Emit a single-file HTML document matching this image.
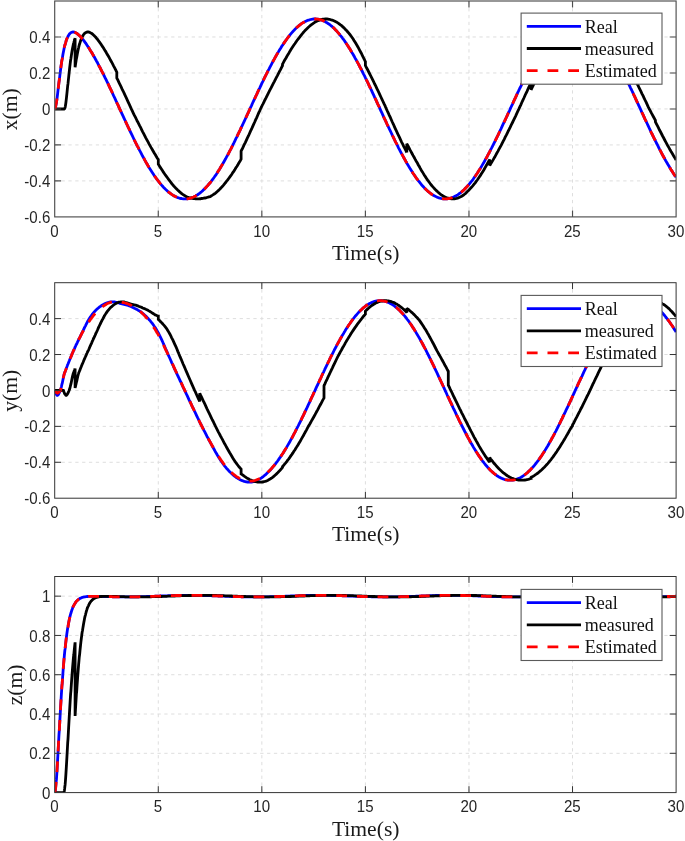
<!DOCTYPE html>
<html><head><meta charset="utf-8"><title>Position tracking: real, measured, estimated</title>
<style>html,body{margin:0;padding:0;background:#fff}svg{display:block}.tk{font-family:"Liberation Sans",Arial,sans-serif;font-size:15.8px;fill:#262626}.lb{font-family:"Liberation Serif","Times New Roman",serif;font-size:21.6px;fill:#1a1a1a}.lg{font-family:"Liberation Serif","Times New Roman",serif;font-size:18px;fill:#111}</style></head><body>
<svg width="685" height="841" viewBox="0 0 685 841">
<rect x="0" y="0" width="685" height="841" fill="#ffffff"/>
<defs><clipPath id="c0"><rect x="54.70" y="1.00" width="621.40" height="215.90"/></clipPath></defs>
<g>
<path d="M158.27,216.90 V1.00 M261.83,216.90 V1.00 M365.40,216.90 V1.00 M468.97,216.90 V1.00 M572.53,216.90 V1.00 M54.70,36.98 H676.10 M54.70,72.97 H676.10 M54.70,108.95 H676.10 M54.70,144.93 H676.10 M54.70,180.92 H676.10" fill="none" stroke="#dedede" stroke-width="1" stroke-dasharray="3.3 3.55"/>
<g clip-path="url(#c0)" fill="none" stroke-linejoin="round">
<path d="M54.7,109.0 L54.9,108.8 L55.1,108.5 L55.3,107.9 L55.5,107.2 L55.7,106.3 L55.9,105.3 L56.1,104.2 L56.4,102.9 L56.6,101.6 L56.8,100.1 L57.0,98.6 L57.2,97.1 L57.4,95.5 L57.6,93.8 L57.8,92.1 L58.0,90.4 L58.2,88.7 L58.4,87.0 L58.6,85.3 L58.8,83.6 L59.0,81.9 L59.3,80.1 L59.5,78.5 L59.7,76.8 L59.9,75.1 L60.1,73.5 L60.3,71.9 L60.5,70.3 L60.7,68.8 L60.9,67.3 L61.1,65.8 L61.3,64.4 L61.5,63.0 L61.7,61.6 L61.9,60.3 L62.2,59.0 L62.4,57.7 L62.6,56.5 L62.8,55.3 L63.0,54.1 L63.2,53.0 L63.4,51.9 L63.6,50.9 L63.8,49.9 L64.0,48.9 L64.2,48.0 L64.4,47.1 L64.6,46.2 L64.8,45.4 L65.1,44.6 L65.3,43.8 L65.5,43.1 L65.7,42.3 L65.9,41.7 L66.1,41.0 L66.3,40.4 L66.5,39.8 L66.7,39.2 L66.9,38.7 L67.1,38.2 L67.3,37.7 L67.5,37.3 L67.7,36.8 L68.0,36.4 L68.2,36.0 L68.4,35.6 L68.6,35.3 L68.8,35.0 L69.0,34.7 L69.2,34.4 L69.4,34.1 L69.6,33.9 L69.8,33.6 L70.0,33.4 L70.2,33.2 L70.4,33.1 L70.6,32.9 L70.9,32.7 L71.1,32.6 L71.3,32.5 L71.5,32.4 L71.7,32.3 L71.9,32.2 L72.1,32.2 L72.3,32.1 L72.5,32.1 L72.7,32.0 L72.9,32.0 L73.1,32.0 L73.3,32.0 L73.5,32.0 L73.8,32.1 L74.0,32.1 L74.2,32.1 L74.4,32.2 L74.6,32.2 L74.7,32.3 L74.8,32.3 L74.9,32.3 L75.0,32.4 L75.1,32.4 L75.1,32.4 L75.2,32.5 L75.3,32.5 L75.4,32.6 L75.4,32.6 L75.4,32.6 L75.5,32.6 L75.6,32.7 L75.8,32.8 L76.0,32.9 L76.2,33.0 L76.4,33.1 L76.7,33.3 L76.9,33.4 L77.1,33.5 L77.3,33.7 L77.5,33.9 L77.7,34.0 L77.9,34.2 L78.1,34.4 L78.3,34.5 L78.5,34.7 L78.7,34.9 L78.9,35.1 L79.1,35.3 L79.3,35.5 L79.6,35.7 L79.8,35.9 L80.0,36.1 L80.2,36.3 L80.4,36.5 L80.6,36.8 L80.8,37.0 L81.0,37.2 L81.2,37.5 L81.4,37.7 L81.6,37.9 L81.8,38.2 L82.0,38.4 L82.2,38.7 L82.5,38.9 L82.7,39.2 L82.9,39.4 L83.1,39.7 L83.3,40.0 L83.5,40.2 L83.7,40.5 L83.9,40.8 L84.1,41.1 L84.3,41.3 L84.5,41.6 L84.7,41.9 L84.9,42.2 L85.1,42.5 L85.4,42.8 L85.6,43.1 L85.8,43.3 L86.0,43.6 L86.2,43.9 L86.4,44.2 L86.6,44.5 L86.8,44.9 L87.0,45.2 L87.2,45.5 L87.4,45.8 L87.6,46.1 L87.8,46.4 L88.0,46.7 L88.3,47.0 L88.5,47.4 L88.7,47.7 L88.9,48.0 L89.1,48.3 L89.3,48.7 L89.5,49.0 L89.7,49.3 L89.9,49.7 L90.1,50.0 L90.3,50.3 L90.5,50.7 L90.7,51.0 L90.9,51.3 L91.2,51.7 L91.4,52.0 L91.6,52.4 L91.8,52.7 L92.0,53.1 L92.2,53.4 L92.4,53.8 L92.6,54.1 L92.8,54.5 L93.0,54.8 L93.2,55.2 L93.4,55.6 L93.6,55.9 L93.8,56.3 L94.1,56.6 L94.3,57.0 L94.5,57.4 L94.7,57.7 L94.9,58.1 L95.1,58.5 L95.3,58.9 L95.5,59.2 L95.7,59.6 L95.9,60.0 L96.1,60.4 L96.1,60.4 L96.1,60.4 L96.3,60.7 L96.5,61.1 L96.7,61.5 L97.0,61.9 L97.2,62.3 L97.4,62.6 L97.6,63.0 L97.8,63.4 L98.0,63.8 L98.2,64.2 L98.4,64.6 L98.6,65.0 L98.8,65.4 L99.0,65.8 L99.2,66.2 L99.4,66.6 L99.6,67.0 L99.9,67.4 L100.1,67.7 L100.3,68.2 L100.5,68.6 L100.7,69.0 L100.9,69.4 L101.1,69.8 L101.3,70.2 L101.5,70.6 L101.7,71.0 L101.9,71.4 L102.1,71.8 L102.3,72.2 L102.5,72.6 L102.8,73.0 L103.0,73.4 L103.2,73.9 L103.4,74.3 L103.6,74.7 L103.8,75.1 L104.0,75.5 L104.2,75.9 L104.4,76.4 L104.6,76.8 L104.8,77.2 L105.0,77.6 L105.2,78.0 L105.4,78.5 L105.7,78.9 L105.9,79.3 L106.1,79.7 L106.3,80.2 L106.5,80.6 L107.5,82.7 L108.6,84.9 L109.6,87.1 L110.6,89.2 L111.7,91.4 L112.7,93.7 L113.7,95.9 L114.8,98.1 L115.8,100.3 L116.4,101.7 L116.6,102.1 L116.8,102.6 L116.8,102.6 L116.8,102.6 L117.0,103.0 L117.3,103.5 L117.9,104.8 L118.9,107.1 L119.9,109.3 L121.0,111.6 L122.0,113.8 L123.1,116.1 L124.1,118.3 L125.1,120.5 L126.2,122.8 L127.2,125.0 L128.2,127.2 L129.3,129.4 L130.3,131.6 L131.3,133.7 L132.4,135.9 L133.4,138.0 L134.4,140.2 L135.5,142.3 L136.5,144.3 L137.1,145.6 L137.3,146.0 L137.6,146.4 L137.6,146.4 L137.6,146.4 L137.8,146.8 L138.0,147.2 L138.6,148.4 L139.6,150.4 L140.7,152.4 L141.7,154.4 L142.7,156.3 L143.8,158.2 L144.8,160.1 L145.8,161.9 L146.9,163.7 L147.9,165.5 L148.9,167.2 L150.0,168.9 L151.0,170.5 L152.1,172.2 L153.1,173.7 L154.1,175.3 L155.2,176.8 L156.2,178.2 L157.2,179.7 L157.9,180.5 L158.1,180.7 L158.3,181.0 L158.3,181.0 L158.3,181.0 L158.5,181.3 L158.7,181.6 L159.3,182.3 L160.3,183.6 L161.4,184.9 L162.4,186.0 L163.4,187.2 L164.5,188.3 L165.5,189.3 L166.6,190.3 L167.6,191.2 L168.6,192.1 L169.7,192.9 L170.7,193.7 L171.7,194.4 L172.8,195.1 L173.8,195.7 L174.8,196.3 L175.9,196.8 L176.9,197.3 L177.9,197.7 L178.6,197.9 L178.8,197.9 L179.0,198.0 L179.0,198.0 L179.0,198.0 L179.2,198.1 L179.4,198.1 L180.0,198.3 L181.1,198.5 L182.1,198.7 L183.1,198.8 L184.2,198.9 L185.2,198.9 L186.2,198.9 L187.3,198.8 L188.3,198.6 L189.3,198.4 L190.4,198.1 L191.4,197.8 L192.4,197.4 L193.5,197.0 L194.5,196.5 L195.6,195.9 L196.6,195.3 L197.6,194.7 L198.7,194.0 L199.3,193.5 L199.5,193.3 L199.7,193.2 L199.7,193.2 L199.7,193.2 L199.9,193.0 L200.1,192.9 L200.7,192.4 L201.8,191.5 L202.8,190.6 L203.8,189.6 L204.9,188.6 L205.9,187.5 L206.9,186.4 L208.0,185.2 L209.0,184.0 L210.1,182.8 L211.1,181.5 L212.1,180.1 L213.2,178.7 L214.2,177.3 L215.2,175.8 L216.3,174.3 L217.3,172.7 L218.3,171.1 L219.4,169.4 L220.0,168.4 L220.2,168.1 L220.4,167.8 L220.4,167.8 L220.4,167.7 L220.6,167.4 L220.8,167.1 L221.4,166.0 L222.5,164.3 L223.5,162.5 L224.5,160.7 L225.6,158.8 L226.6,156.9 L227.7,155.0 L228.7,153.1 L229.7,151.1 L230.8,149.1 L231.8,147.1 L232.8,145.0 L233.9,142.9 L234.9,140.8 L235.9,138.7 L237.0,136.6 L238.0,134.4 L239.0,132.3 L240.1,130.1 L240.7,128.8 L240.9,128.4 L241.1,127.9 L241.1,127.9 L241.1,127.9 L241.3,127.5 L241.5,127.0 L242.2,125.7 L243.2,123.5 L244.2,121.3 L245.3,119.0 L246.3,116.8 L247.3,114.6 L248.4,112.3 L249.4,110.1 L250.4,107.8 L251.5,105.6 L252.5,103.3 L253.5,101.1 L254.6,98.8 L255.6,96.6 L256.7,94.4 L257.7,92.2 L258.7,90.0 L259.8,87.8 L260.8,85.6 L261.4,84.3 L261.6,83.9 L261.8,83.4 L261.8,83.4 L261.8,83.4 L262.0,83.0 L262.2,82.6 L262.9,81.3 L263.9,79.2 L264.9,77.0 L266.0,74.9 L267.0,72.9 L268.0,70.8 L269.1,68.8 L270.1,66.8 L271.2,64.8 L272.2,62.9 L273.2,61.0 L274.3,59.1 L275.3,57.2 L276.3,55.4 L277.4,53.6 L278.4,51.9 L279.4,50.1 L280.5,48.5 L281.5,46.8 L282.1,45.8 L282.3,45.5 L282.5,45.2 L282.5,45.2 L282.5,45.2 L282.8,44.9 L283.0,44.6 L283.6,43.6 L284.6,42.1 L285.7,40.6 L286.7,39.2 L287.7,37.8 L288.8,36.4 L289.8,35.1 L290.8,33.9 L291.9,32.6 L292.9,31.5 L293.9,30.4 L295.0,29.3 L296.0,28.3 L297.0,27.3 L298.1,26.4 L299.1,25.5 L300.2,24.7 L301.2,23.9 L302.2,23.2 L302.8,22.8 L303.1,22.7 L303.3,22.6 L303.3,22.6 L303.3,22.6 L303.5,22.5 L303.7,22.3 L304.3,22.0 L305.3,21.4 L306.4,20.9 L307.4,20.5 L308.4,20.1 L309.5,19.8 L310.5,19.5 L311.5,19.3 L312.6,19.1 L313.6,19.0 L314.7,19.0 L315.7,19.0 L316.7,19.1 L317.8,19.2 L318.8,19.4 L319.8,19.6 L320.9,19.9 L321.9,20.2 L322.9,20.6 L323.6,20.9 L323.8,21.0 L324.0,21.1 L324.0,21.1 L324.0,21.1 L324.2,21.2 L324.4,21.3 L325.0,21.6 L326.0,22.2 L327.1,22.8 L328.1,23.5 L329.2,24.2 L330.2,25.0 L331.2,25.8 L332.3,26.7 L333.3,27.6 L334.3,28.6 L335.4,29.7 L336.4,30.7 L337.4,31.9 L338.5,33.1 L339.5,34.3 L340.5,35.6 L341.6,36.9 L342.6,38.3 L343.7,39.7 L344.3,40.5 L344.5,40.8 L344.7,41.1 L344.7,41.1 L344.7,41.1 L344.9,41.4 L345.1,41.7 L345.7,42.6 L346.8,44.2 L347.8,45.7 L348.8,47.4 L349.9,49.0 L350.9,50.7 L351.9,52.5 L353.0,54.2 L354.0,56.0 L355.0,57.9 L356.1,59.7 L357.1,61.6 L358.2,63.6 L359.2,65.5 L360.2,67.5 L361.3,69.5 L362.3,71.5 L363.3,73.6 L364.4,75.7 L365.0,76.9 L365.2,77.3 L365.4,77.8 L365.4,77.8 L365.4,77.8 L365.6,78.2 L365.8,78.6 L366.4,79.9 L367.5,82.0 L368.5,84.2 L369.5,86.3 L370.6,88.5 L371.6,90.7 L372.6,92.9 L373.7,95.2 L374.7,97.4 L375.8,99.6 L376.8,101.9 L377.8,104.1 L378.9,106.3 L379.9,108.6 L380.9,110.8 L382.0,113.1 L383.0,115.3 L384.0,117.6 L385.1,119.8 L385.7,121.1 L385.9,121.6 L386.1,122.0 L386.1,122.0 L386.1,122.0 L386.3,122.5 L386.5,122.9 L387.1,124.3 L388.2,126.5 L389.2,128.7 L390.3,130.9 L391.3,133.0 L392.3,135.2 L393.4,137.3 L394.4,139.5 L395.4,141.6 L396.5,143.7 L397.5,145.7 L398.5,147.8 L399.6,149.8 L400.6,151.8 L401.6,153.7 L402.7,155.7 L403.7,157.6 L404.8,159.4 L405.8,161.3 L406.4,162.4 L406.6,162.7 L406.8,163.1 L406.8,163.1 L406.8,163.1 L407.0,163.5 L407.2,163.8 L407.9,164.9 L408.9,166.6 L409.9,168.3 L411.0,170.0 L412.0,171.6 L413.0,173.2 L414.1,174.8 L415.1,176.3 L416.1,177.8 L417.2,179.2 L418.2,180.6 L419.3,181.9 L420.3,183.2 L421.3,184.5 L422.4,185.7 L423.4,186.8 L424.4,187.9 L425.5,189.0 L426.5,190.0 L427.1,190.5 L427.3,190.7 L427.5,190.9 L427.5,190.9 L427.5,190.9 L427.7,191.1 L428.0,191.3 L428.6,191.8 L429.6,192.7 L430.6,193.5 L431.7,194.2 L432.7,194.9 L433.8,195.5 L434.8,196.1 L435.8,196.6 L436.9,197.1 L437.9,197.5 L438.9,197.9 L440.0,198.2 L441.0,198.5 L442.0,198.7 L443.1,198.8 L444.1,198.9 L445.1,198.9 L446.2,198.9 L447.2,198.8 L447.8,198.7 L448.0,198.7 L448.3,198.7 L448.3,198.7 L448.3,198.7 L448.5,198.6 L448.7,198.6 L449.3,198.5 L450.3,198.2 L451.4,197.9 L452.4,197.5 L453.4,197.1 L454.5,196.6 L455.5,196.1 L456.5,195.5 L457.6,194.9 L458.6,194.2 L459.6,193.4 L460.7,192.6 L461.7,191.8 L462.8,190.9 L463.8,189.9 L464.8,188.9 L465.9,187.9 L466.9,186.8 L467.9,185.6 L468.6,184.9 L468.8,184.7 L469.0,184.4 L469.0,184.4 L469.0,184.4 L469.2,184.2 L469.4,183.9 L470.0,183.2 L471.0,181.9 L472.1,180.6 L473.1,179.2 L474.1,177.7 L475.2,176.3 L476.2,174.8 L477.3,173.2 L478.3,171.6 L479.3,170.0 L480.4,168.3 L481.4,166.6 L482.4,164.9 L483.5,163.1 L484.5,161.3 L485.5,159.4 L486.6,157.5 L487.6,155.6 L488.6,153.7 L489.3,152.5 L489.5,152.1 L489.7,151.7 L489.7,151.7 L489.7,151.7 L489.9,151.3 L490.1,150.9 L490.7,149.7 L491.8,147.7 L492.8,145.7 L493.8,143.6 L494.9,141.5 L495.9,139.4 L496.9,137.3 L498.0,135.2 L499.0,133.0 L500.0,130.8 L501.1,128.6 L502.1,126.4 L503.1,124.2 L504.2,122.0 L505.2,119.8 L506.3,117.5 L507.3,115.3 L508.3,113.0 L509.4,110.8 L510.0,109.5 L510.2,109.0 L510.4,108.6 L510.4,108.6 L510.4,108.5 L510.6,108.1 L510.8,107.7 L511.4,106.3 L512.5,104.1 L513.5,101.8 L514.5,99.6 L515.6,97.3 L516.6,95.1 L517.6,92.9 L518.7,90.7 L519.7,88.5 L520.8,86.3 L521.8,84.1 L522.8,82.0 L523.9,79.8 L524.9,77.7 L525.9,75.6 L527.0,73.6 L528.0,71.5 L529.0,69.5 L530.1,67.5 L530.7,66.3 L530.9,65.9 L531.1,65.5 L531.1,65.5 L531.1,65.5 L531.3,65.1 L531.5,64.7 L532.1,63.5 L533.2,61.6 L534.2,59.7 L535.2,57.8 L536.3,56.0 L537.3,54.2 L538.4,52.4 L539.4,50.7 L540.4,49.0 L541.5,47.3 L542.5,45.7 L543.5,44.1 L544.6,42.6 L545.6,41.1 L546.6,39.6 L547.7,38.2 L548.7,36.9 L549.7,35.5 L550.8,34.3 L551.4,33.5 L551.6,33.3 L551.8,33.0 L551.8,33.0 L551.8,33.0 L552.0,32.8 L552.2,32.6 L552.9,31.9 L553.9,30.7 L554.9,29.6 L556.0,28.6 L557.0,27.6 L558.0,26.7 L559.1,25.8 L560.1,25.0 L561.1,24.2 L562.2,23.5 L563.2,22.8 L564.2,22.2 L565.3,21.6 L566.3,21.1 L567.4,20.6 L568.4,20.2 L569.4,19.9 L570.5,19.6 L571.5,19.4 L572.1,19.3 L572.3,19.2 L572.5,19.2 L572.5,19.2 L572.5,19.2 L572.7,19.2 L572.9,19.1 L573.6,19.1 L574.6,19.0 L575.6,19.0 L576.7,19.0 L577.7,19.1 L578.7,19.3 L579.8,19.5 L580.8,19.8 L581.9,20.1 L582.9,20.5 L583.9,20.9 L585.0,21.4 L586.0,22.0 L587.0,22.6 L588.1,23.2 L589.1,24.0 L590.1,24.7 L591.2,25.5 L592.2,26.4 L592.8,26.9 L593.0,27.1 L593.2,27.3 L593.2,27.3 L593.2,27.3 L593.5,27.5 L593.7,27.7 L594.3,28.3 L595.3,29.3 L596.4,30.4 L597.4,31.5 L598.4,32.7 L599.5,33.9 L600.5,35.1 L601.5,36.5 L602.6,37.8 L603.6,39.2 L604.6,40.6 L605.7,42.1 L606.7,43.7 L607.7,45.2 L608.8,46.8 L609.8,48.5 L610.9,50.2 L611.9,51.9 L612.9,53.6 L613.5,54.7 L613.8,55.1 L614.0,55.4 L614.0,55.4 L614.0,55.4 L614.2,55.8 L614.4,56.2 L615.0,57.3 L616.0,59.1 L617.1,61.0 L618.1,62.9 L619.1,64.9 L620.2,66.8 L621.2,68.8 L622.2,70.9 L623.3,72.9 L624.3,75.0 L625.4,77.1 L626.4,79.2 L627.4,81.3 L628.5,83.5 L629.5,85.6 L630.5,87.8 L631.6,90.0 L632.6,92.2 L633.6,94.4 L634.3,95.8 L634.5,96.2 L634.7,96.6 L634.7,96.6 L634.7,96.7 L634.9,97.1 L635.1,97.5 L635.7,98.9 L636.7,101.1 L637.8,103.4 L638.8,105.6 L639.9,107.9 L640.9,110.1 L641.9,112.4 L643.0,114.6 L644.0,116.8 L645.0,119.1 L646.1,121.3 L647.1,123.5 L648.1,125.7 L649.2,128.0 L650.2,130.1 L651.2,132.3 L652.3,134.5 L653.3,136.6 L654.4,138.8 L655.0,140.0 L655.2,140.5 L655.4,140.9 L655.4,140.9 L655.4,140.9 L655.6,141.3 L655.8,141.7 L656.4,143.0 L657.5,145.0 L658.5,147.1 L659.5,149.1 L660.6,151.1 L661.6,153.1 L662.6,155.0 L663.7,157.0 L664.7,158.8 L665.7,160.7 L666.8,162.5 L667.8,164.3 L668.9,166.1 L669.9,167.8 L670.9,169.5 L672.0,171.1 L673.0,172.7 L674.0,174.3 L675.1,175.8 L676.1,177.3" stroke="#0000ff" stroke-width="2.8"/>
<path d="M54.7,109.0 L54.9,109.0 L55.1,109.0 L55.3,109.0 L55.5,109.0 L55.7,109.0 L55.9,109.0 L56.1,109.0 L56.4,109.0 L56.6,109.0 L56.8,109.0 L57.0,109.0 L57.2,109.0 L57.4,109.0 L57.6,109.0 L57.8,109.0 L58.0,109.0 L58.2,109.0 L58.4,109.0 L58.6,109.0 L58.8,109.0 L59.0,109.0 L59.3,109.0 L59.5,109.0 L59.7,109.0 L59.9,109.0 L60.1,109.0 L60.3,109.0 L60.5,109.0 L60.7,109.0 L60.9,109.0 L61.1,109.0 L61.3,109.0 L61.5,109.0 L61.7,109.0 L61.9,109.0 L62.2,109.0 L62.4,109.0 L62.6,109.0 L62.8,109.0 L63.0,109.0 L63.2,109.0 L63.4,109.0 L63.6,109.0 L63.8,109.0 L64.0,109.0 L64.2,109.0 L64.4,108.9 L64.6,108.7 L64.8,108.2 L65.1,107.5 L65.3,106.5 L65.5,105.3 L65.7,104.0 L65.9,102.5 L66.1,100.9 L66.3,99.2 L66.5,97.4 L66.7,95.5 L66.9,93.6 L67.1,91.7 L67.3,89.7 L67.5,87.7 L67.7,85.7 L68.0,83.7 L68.2,81.7 L68.4,79.7 L68.6,77.8 L68.8,75.9 L69.0,74.0 L69.2,72.1 L69.4,70.3 L69.6,68.5 L69.8,66.7 L70.0,65.1 L70.2,63.4 L70.4,61.8 L70.6,60.2 L70.9,58.7 L71.1,57.3 L71.3,55.9 L71.5,54.5 L71.7,53.2 L71.9,51.9 L72.1,50.7 L72.3,49.6 L72.5,48.5 L72.7,47.4 L72.9,46.4 L73.1,45.4 L73.3,44.5 L73.5,43.6 L73.8,42.7 L74.0,41.9 L74.2,41.2 L74.4,40.4 L74.6,39.8 L74.7,39.4 L74.8,39.1 L74.9,38.8 L75.0,38.5 L75.1,38.2 L75.1,67.3 L75.2,66.6 L75.3,65.9 L75.4,65.2 L75.4,65.2 L75.4,65.2 L75.5,64.5 L75.6,63.8 L75.8,62.5 L76.0,61.2 L76.2,59.9 L76.4,58.7 L76.7,57.5 L76.9,56.3 L77.1,55.2 L77.3,54.1 L77.5,53.0 L77.7,51.9 L77.9,50.9 L78.1,50.0 L78.3,49.0 L78.5,48.1 L78.7,47.3 L78.9,46.4 L79.1,45.6 L79.3,44.8 L79.6,44.1 L79.8,43.4 L80.0,42.7 L80.2,42.0 L80.4,41.4 L80.6,40.8 L80.8,40.2 L81.0,39.6 L81.2,39.1 L81.4,38.6 L81.6,38.1 L81.8,37.6 L82.0,37.2 L82.2,36.8 L82.5,36.4 L82.7,36.0 L82.9,35.7 L83.1,35.3 L83.3,35.0 L83.5,34.7 L83.7,34.4 L83.9,34.2 L84.1,33.9 L84.3,33.7 L84.5,33.5 L84.7,33.3 L84.9,33.1 L85.1,33.0 L85.4,32.8 L85.6,32.7 L85.8,32.6 L86.0,32.5 L86.2,32.4 L86.4,32.3 L86.6,32.2 L86.8,32.2 L87.0,32.1 L87.2,32.1 L87.4,32.0 L87.6,32.0 L87.8,32.0 L88.0,32.0 L88.3,32.0 L88.5,32.1 L88.7,32.1 L88.9,32.1 L89.1,32.2 L89.3,32.2 L89.5,32.3 L89.7,32.4 L89.9,32.5 L90.1,32.6 L90.3,32.7 L90.5,32.8 L90.7,32.9 L90.9,33.0 L91.2,33.1 L91.4,33.3 L91.6,33.4 L91.8,33.6 L92.0,33.7 L92.2,33.9 L92.4,34.0 L92.6,34.2 L92.8,34.4 L93.0,34.6 L93.2,34.7 L93.4,34.9 L93.6,35.1 L93.8,35.3 L94.1,35.5 L94.3,35.7 L94.5,35.9 L94.7,36.2 L94.9,36.4 L95.1,36.6 L95.3,36.8 L95.5,37.1 L95.7,37.3 L95.9,37.5 L96.1,37.8 L96.1,37.8 L96.1,37.8 L96.3,38.0 L96.5,38.3 L96.7,38.5 L97.0,38.8 L97.2,39.0 L97.4,39.3 L97.6,39.5 L97.8,39.8 L98.0,40.1 L98.2,40.3 L98.4,40.6 L98.6,40.9 L98.8,41.2 L99.0,41.4 L99.2,41.7 L99.4,42.0 L99.6,42.3 L99.9,42.6 L100.1,42.9 L100.3,43.2 L100.5,43.5 L100.7,43.8 L100.9,44.1 L101.1,44.4 L101.3,44.7 L101.5,45.0 L101.7,45.3 L101.9,45.6 L102.1,45.9 L102.3,46.2 L102.5,46.6 L102.8,46.9 L103.0,47.2 L103.2,47.5 L103.4,47.9 L103.6,48.2 L103.8,48.5 L104.0,48.8 L104.2,49.2 L104.4,49.5 L104.6,49.8 L104.8,50.2 L105.0,50.5 L105.2,50.9 L105.4,51.2 L105.7,51.6 L105.9,51.9 L106.1,52.3 L106.3,52.6 L106.5,53.0 L107.5,54.7 L108.6,56.5 L109.6,58.4 L110.6,60.3 L111.7,62.2 L112.7,64.1 L113.7,66.1 L114.8,68.1 L115.8,70.2 L116.4,71.4 L116.6,71.8 L116.8,72.2 L116.8,72.2 L116.8,78.0 L117.0,78.5 L117.3,78.9 L117.9,80.2 L118.9,82.3 L119.9,84.5 L121.0,86.6 L122.0,88.8 L123.1,91.0 L124.1,93.2 L125.1,95.4 L126.2,97.7 L127.2,99.9 L128.2,102.1 L129.3,104.4 L130.3,106.6 L131.3,108.9 L132.4,111.1 L133.4,113.3 L134.4,115.4 L135.5,117.4 L136.5,119.5 L137.1,120.8 L137.3,121.2 L137.6,121.6 L137.6,121.6 L137.6,121.6 L137.8,122.0 L138.0,122.4 L138.6,123.6 L139.6,125.7 L140.7,127.7 L141.7,129.8 L142.7,131.8 L143.8,133.8 L144.8,135.8 L145.8,137.8 L146.9,139.8 L147.9,141.7 L148.9,143.7 L150.0,145.6 L151.0,147.4 L152.1,149.2 L153.1,151.0 L154.1,152.8 L155.2,154.6 L156.2,156.3 L157.2,158.0 L157.9,159.0 L158.1,159.4 L158.3,159.7 L158.3,159.7 L158.3,164.1 L158.5,164.4 L158.7,164.7 L159.3,165.7 L160.3,167.4 L161.4,169.0 L162.4,170.6 L163.4,172.2 L164.5,173.7 L165.5,175.2 L166.6,176.6 L167.6,178.0 L168.6,179.4 L169.7,180.8 L170.7,182.2 L171.7,183.5 L172.8,184.8 L173.8,186.0 L174.8,187.1 L175.9,188.3 L176.9,189.3 L177.9,190.3 L178.6,190.9 L178.8,191.1 L179.0,191.3 L179.0,191.3 L179.0,191.3 L179.2,191.5 L179.4,191.7 L180.0,192.2 L181.1,193.1 L182.1,193.9 L183.1,194.6 L184.2,195.3 L185.2,195.9 L186.2,196.5 L187.3,197.0 L188.3,197.4 L189.3,197.8 L190.4,198.0 L191.4,198.2 L192.4,198.4 L193.5,198.6 L194.5,198.7 L195.6,198.8 L196.6,198.9 L197.6,198.9 L198.7,198.9 L199.3,198.9 L199.5,198.9 L199.7,198.9 L199.7,198.9 L199.7,198.8 L199.9,198.7 L200.1,198.7 L200.7,198.7 L201.8,198.5 L202.8,198.4 L203.8,198.2 L204.9,198.0 L205.9,197.8 L206.9,197.5 L208.0,197.2 L209.0,196.9 L210.1,196.6 L211.1,196.0 L212.1,195.4 L213.2,194.7 L214.2,194.0 L215.2,193.3 L216.3,192.4 L217.3,191.5 L218.3,190.6 L219.4,189.6 L220.0,189.0 L220.2,188.8 L220.4,188.6 L220.4,188.5 L220.4,188.5 L220.6,188.3 L220.8,188.1 L221.4,187.4 L222.5,186.3 L223.5,185.1 L224.5,183.8 L225.6,182.5 L226.6,181.2 L227.7,179.9 L228.7,178.5 L229.7,177.1 L230.8,175.7 L231.8,174.2 L232.8,172.6 L233.9,171.1 L234.9,169.5 L235.9,167.8 L237.0,166.2 L238.0,164.5 L239.0,162.7 L240.1,161.0 L240.7,159.9 L240.9,159.5 L241.1,159.2 L241.1,159.2 L241.1,151.1 L241.3,150.7 L241.5,150.2 L242.2,149.0 L243.2,146.9 L244.2,144.7 L245.3,142.6 L246.3,140.4 L247.3,138.2 L248.4,136.0 L249.4,133.7 L250.4,131.4 L251.5,129.2 L252.5,126.9 L253.5,124.6 L254.6,122.3 L255.6,119.9 L256.7,117.6 L257.7,115.3 L258.7,112.9 L259.8,110.6 L260.8,108.3 L261.4,107.1 L261.6,106.7 L261.8,106.2 L261.8,106.2 L261.8,106.2 L262.0,105.8 L262.2,105.4 L262.9,104.2 L263.9,102.1 L264.9,100.0 L266.0,97.9 L267.0,95.8 L268.0,93.8 L269.1,91.7 L270.1,89.7 L271.2,87.7 L272.2,85.6 L273.2,83.6 L274.3,81.6 L275.3,79.6 L276.3,77.7 L277.4,75.7 L278.4,73.7 L279.4,71.6 L280.5,69.6 L281.5,67.6 L282.1,66.4 L282.3,66.0 L282.5,65.6 L282.5,65.6 L282.5,64.0 L282.8,63.7 L283.0,63.3 L283.6,62.2 L284.6,60.3 L285.7,58.5 L286.7,56.7 L287.7,54.9 L288.8,53.2 L289.8,51.4 L290.8,49.8 L291.9,48.1 L292.9,46.5 L293.9,45.0 L295.0,43.5 L296.0,42.0 L297.0,40.5 L298.1,39.1 L299.1,37.8 L300.2,36.4 L301.2,35.1 L302.2,33.8 L302.8,33.1 L303.1,32.8 L303.3,32.6 L303.3,32.6 L303.3,32.6 L303.5,32.3 L303.7,32.1 L304.3,31.4 L305.3,30.3 L306.4,29.2 L307.4,28.2 L308.4,27.2 L309.5,26.2 L310.5,25.4 L311.5,24.6 L312.6,23.8 L313.6,23.1 L314.7,22.4 L315.7,21.8 L316.7,21.3 L317.8,20.8 L318.8,20.4 L319.8,20.0 L320.9,19.7 L321.9,19.4 L322.9,19.2 L323.6,19.1 L323.8,19.1 L324.0,19.1 L324.0,19.1 L324.0,19.1 L324.2,19.1 L324.4,19.1 L325.0,19.0 L326.0,19.0 L327.1,19.0 L328.1,19.1 L329.2,19.3 L330.2,19.5 L331.2,19.8 L332.3,20.1 L333.3,20.5 L334.3,20.9 L335.4,21.5 L336.4,22.0 L337.4,22.6 L338.5,23.3 L339.5,24.1 L340.5,24.9 L341.6,25.7 L342.6,26.6 L343.7,27.6 L344.3,28.2 L344.5,28.4 L344.7,28.6 L344.7,28.6 L344.7,28.6 L344.9,28.8 L345.1,29.0 L345.7,29.7 L346.8,30.8 L347.8,32.0 L348.8,33.2 L349.9,34.5 L350.9,35.8 L351.9,37.2 L353.0,38.7 L354.0,40.4 L355.0,42.0 L356.1,43.8 L357.1,45.6 L358.2,47.4 L359.2,49.3 L360.2,51.3 L361.3,53.2 L362.3,55.3 L363.3,57.3 L364.4,59.5 L365.0,60.8 L365.2,61.2 L365.4,61.6 L365.4,61.6 L365.4,65.5 L365.6,65.9 L365.8,66.3 L366.4,67.5 L367.5,69.5 L368.5,71.5 L369.5,73.5 L370.6,75.6 L371.6,77.6 L372.6,79.7 L373.7,81.9 L374.7,84.0 L375.8,86.1 L376.8,88.3 L377.8,90.5 L378.9,92.6 L379.9,94.8 L380.9,97.0 L382.0,99.3 L383.0,101.5 L384.0,103.7 L385.1,105.9 L385.7,107.3 L385.9,107.7 L386.1,108.1 L386.1,108.1 L386.1,108.1 L386.3,108.6 L386.5,109.1 L387.1,110.5 L388.2,112.8 L389.2,115.1 L390.3,117.4 L391.3,119.7 L392.3,122.0 L393.4,124.3 L394.4,126.6 L395.4,128.8 L396.5,131.1 L397.5,133.3 L398.5,135.5 L399.6,137.7 L400.6,139.9 L401.6,142.1 L402.7,144.2 L403.7,146.4 L404.8,148.4 L405.8,150.5 L406.4,151.7 L406.6,152.1 L406.8,152.5 L406.8,152.6 L406.8,143.7 L407.0,144.1 L407.2,144.5 L407.9,145.7 L408.9,147.7 L409.9,149.7 L411.0,151.6 L412.0,153.5 L413.0,155.4 L414.1,157.3 L415.1,159.2 L416.1,161.0 L417.2,162.7 L418.2,164.7 L419.3,166.5 L420.3,168.4 L421.3,170.2 L422.4,171.9 L423.4,173.6 L424.4,175.3 L425.5,176.9 L426.5,178.4 L427.1,179.4 L427.3,179.7 L427.5,180.0 L427.5,180.0 L427.5,180.0 L427.7,180.3 L428.0,180.5 L428.6,181.4 L429.6,182.8 L430.6,184.2 L431.7,185.5 L432.7,186.7 L433.8,187.9 L434.8,189.0 L435.8,190.1 L436.9,191.1 L437.9,192.1 L438.9,193.0 L440.0,193.8 L441.0,194.6 L442.0,195.3 L443.1,195.9 L444.1,196.5 L445.1,197.0 L446.2,197.5 L447.2,197.9 L447.8,198.1 L448.0,198.2 L448.3,198.2 L448.3,198.2 L448.3,198.2 L448.5,198.3 L448.7,198.3 L449.3,198.5 L450.3,198.7 L451.4,198.8 L452.4,198.9 L453.4,198.9 L454.5,198.8 L455.5,198.7 L456.5,198.5 L457.6,198.2 L458.6,197.8 L459.6,197.3 L460.7,196.8 L461.7,196.2 L462.8,195.5 L463.8,194.8 L464.8,194.0 L465.9,193.1 L466.9,192.1 L467.9,191.1 L468.6,190.4 L468.8,190.2 L469.0,189.9 L469.0,189.9 L469.0,189.9 L469.2,189.7 L469.4,189.5 L470.0,188.9 L471.0,187.8 L472.1,186.6 L473.1,185.4 L474.1,184.1 L475.2,182.8 L476.2,181.4 L477.3,180.0 L478.3,178.5 L479.3,177.0 L480.4,175.4 L481.4,173.8 L482.4,172.2 L483.5,170.5 L484.5,168.7 L485.5,166.9 L486.6,165.1 L487.6,163.3 L488.6,161.4 L489.3,160.2 L489.5,159.8 L489.7,159.4 L489.7,159.4 L489.7,165.6 L489.9,165.2 L490.1,164.9 L490.7,163.9 L491.8,162.1 L492.8,160.4 L493.8,158.6 L494.9,156.8 L495.9,154.9 L496.9,153.0 L498.0,151.1 L499.0,149.2 L500.0,147.3 L501.1,145.3 L502.1,143.3 L503.1,141.3 L504.2,139.3 L505.2,137.2 L506.3,135.2 L507.3,133.1 L508.3,131.0 L509.4,128.9 L510.0,127.7 L510.2,127.2 L510.4,126.8 L510.4,126.8 L510.4,126.8 L510.6,126.4 L510.8,126.0 L511.4,124.7 L512.5,122.5 L513.5,120.4 L514.5,118.3 L515.6,116.1 L516.6,113.9 L517.6,111.7 L518.7,109.4 L519.7,107.1 L520.8,104.8 L521.8,102.5 L522.8,100.3 L523.9,98.0 L524.9,95.7 L525.9,93.5 L527.0,91.3 L528.0,89.0 L529.0,86.8 L530.1,84.6 L530.7,83.3 L530.9,82.9 L531.1,82.4 L531.1,82.4 L531.1,89.8 L531.3,89.4 L531.5,88.9 L532.1,87.6 L533.2,85.3 L534.2,83.1 L535.2,80.9 L536.3,78.7 L537.3,76.5 L538.4,74.4 L539.4,72.2 L540.4,70.1 L541.5,68.1 L542.5,66.0 L543.5,64.0 L544.6,62.0 L545.6,60.0 L546.6,58.1 L547.7,56.2 L548.7,54.4 L549.7,52.5 L550.8,50.7 L551.4,49.7 L551.6,49.3 L551.8,49.0 L551.8,49.0 L551.8,49.0 L552.0,48.7 L552.2,48.3 L552.9,47.3 L553.9,45.6 L554.9,44.0 L556.0,42.4 L557.0,40.9 L558.0,39.4 L559.1,37.9 L560.1,36.5 L561.1,35.2 L562.2,33.9 L563.2,32.6 L564.2,31.4 L565.3,30.3 L566.3,29.2 L567.4,28.1 L568.4,27.2 L569.4,26.2 L570.5,25.3 L571.5,24.5 L572.1,24.0 L572.3,23.9 L572.5,23.7 L572.5,23.7 L572.5,23.7 L572.7,23.6 L572.9,23.4 L573.6,23.0 L574.6,22.4 L575.6,21.7 L576.7,21.2 L577.7,20.7 L578.7,20.3 L579.8,19.9 L580.8,19.6 L581.9,19.4 L582.9,19.2 L583.9,19.1 L585.0,19.0 L586.0,19.0 L587.0,19.1 L588.1,19.2 L589.1,19.4 L590.1,19.6 L591.2,19.9 L592.2,20.3 L592.8,20.5 L593.0,20.6 L593.2,20.7 L593.2,20.7 L593.2,20.7 L593.5,20.8 L593.7,20.9 L594.3,21.2 L595.3,21.7 L596.4,22.4 L597.4,23.0 L598.4,23.7 L599.5,24.5 L600.5,25.4 L601.5,26.3 L602.6,27.2 L603.6,28.2 L604.6,29.3 L605.7,30.4 L606.7,31.6 L607.7,32.8 L608.8,34.1 L609.8,35.4 L610.9,36.8 L611.9,38.2 L612.9,39.7 L613.5,40.6 L613.8,40.9 L614.0,41.2 L614.0,41.2 L614.0,41.2 L614.2,41.5 L614.4,41.8 L615.0,42.8 L616.0,44.4 L617.1,46.0 L618.1,47.7 L619.1,49.5 L620.2,51.3 L621.2,53.1 L622.2,55.0 L623.3,56.8 L624.3,58.8 L625.4,60.7 L626.4,62.7 L627.4,64.8 L628.5,66.8 L629.5,68.8 L630.5,70.7 L631.6,72.7 L632.6,74.7 L633.6,76.8 L634.3,78.0 L634.5,78.4 L634.7,78.8 L634.7,78.8 L634.7,78.8 L634.9,79.2 L635.1,79.6 L635.7,80.9 L636.7,83.0 L637.8,85.0 L638.8,87.2 L639.9,89.3 L640.9,91.4 L641.9,93.6 L643.0,95.7 L644.0,97.9 L645.0,100.0 L646.1,102.2 L647.1,104.4 L648.1,106.6 L649.2,108.8 L650.2,110.7 L651.2,112.7 L652.3,114.6 L653.3,116.5 L654.4,118.5 L655.0,119.6 L655.2,120.0 L655.4,120.4 L655.4,120.4 L655.4,121.8 L655.6,122.2 L655.8,122.6 L656.4,123.8 L657.5,125.9 L658.5,127.9 L659.5,130.0 L660.6,132.0 L661.6,134.0 L662.6,136.0 L663.7,138.0 L664.7,140.0 L665.7,141.9 L666.8,143.9 L667.8,145.8 L668.9,147.6 L669.9,149.5 L670.9,151.3 L672.0,153.1 L673.0,154.8 L674.0,156.6 L675.1,158.3 L676.1,160.0" stroke="#000000" stroke-width="2.8" stroke-linejoin="miter" stroke-miterlimit="2"/>
<path d="M54.7,109.0 L54.9,108.8 L55.1,108.5 L55.3,107.9 L55.5,107.2 L55.7,106.3 L55.9,105.3 L56.1,104.2 L56.4,102.9 L56.6,101.6 L56.8,100.1 L57.0,98.6 L57.2,97.1 L57.4,95.5 L57.6,93.8 L57.8,92.1 L58.0,90.4 L58.2,88.7 L58.4,87.0 L58.6,85.3 L58.8,83.6 L59.0,81.9 L59.3,80.1 L59.5,78.5 L59.7,76.8 L59.9,75.1 L60.1,73.5 L60.3,71.9 L60.5,70.3 L60.7,68.8 L60.9,67.3 L61.1,65.8 L61.3,64.4 L61.5,63.0 L61.7,61.6 L61.9,60.3 L62.2,59.0 L62.4,57.7 L62.6,56.5 L62.8,55.3 L63.0,54.1 L63.2,53.0 L63.4,51.9 L63.6,50.9 L63.8,49.9 L64.0,48.9 L64.2,48.0 L64.4,47.1 L64.6,46.2 L64.8,45.4 L65.1,44.6 L65.3,43.8 L65.5,43.1 L65.7,42.3 L65.9,41.7 L66.1,41.0 L66.3,40.4 L66.5,39.8 L66.7,39.2 L66.9,38.7 L67.1,38.2 L67.3,37.7 L67.5,37.3 L67.7,36.8 L68.0,36.4 L68.2,36.0 L68.4,35.6 L68.6,35.3 L68.8,35.0 L69.0,34.7 L69.2,34.4 L69.4,34.1 L69.6,33.9 L69.8,33.6 L70.0,33.4 L70.2,33.2 L70.4,33.1 L70.6,32.9 L70.9,32.7 L71.1,32.6 L71.3,32.5 L71.5,32.4 L71.7,32.3 L71.9,32.2 L72.1,32.2 L72.3,32.1 L72.5,32.1 L72.7,32.0 L72.9,32.0 L73.1,32.0 L73.3,32.0 L73.5,32.0 L73.8,32.1 L74.0,32.1 L74.2,32.1 L74.4,32.2 L74.6,32.2 L74.7,32.3 L74.8,32.3 L74.9,32.3 L75.0,32.4 L75.1,32.4 L75.1,32.4 L75.2,32.5 L75.3,32.5 L75.4,32.6 L75.4,32.6 L75.4,32.6 L75.5,32.6 L75.6,32.7 L75.8,32.8 L76.0,32.9 L76.2,33.0 L76.4,33.1 L76.7,33.3 L76.9,33.4 L77.1,33.5 L77.3,33.7 L77.5,33.9 L77.7,34.0 L77.9,34.2 L78.1,34.4 L78.3,34.5 L78.5,34.7 L78.7,34.9 L78.9,35.1 L79.1,35.3 L79.3,35.5 L79.6,35.7 L79.8,35.9 L80.0,36.1 L80.2,36.3 L80.4,36.5 L80.6,36.8 L80.8,37.0 L81.0,37.2 L81.2,37.5 L81.4,37.7 L81.6,37.9 L81.8,38.2 L82.0,38.4 L82.2,38.7 L82.5,38.9 L82.7,39.2 L82.9,39.4 L83.1,39.7 L83.3,40.0 L83.5,40.2 L83.7,40.5 L83.9,40.8 L84.1,41.1 L84.3,41.3 L84.5,41.6 L84.7,41.9 L84.9,42.2 L85.1,42.5 L85.4,42.8 L85.6,43.1 L85.8,43.3 L86.0,43.6 L86.2,43.9 L86.4,44.2 L86.6,44.5 L86.8,44.9 L87.0,45.2 L87.2,45.5 L87.4,45.8 L87.6,46.1 L87.8,46.4 L88.0,46.7 L88.3,47.0 L88.5,47.4 L88.7,47.7 L88.9,48.0 L89.1,48.3 L89.3,48.7 L89.5,49.0 L89.7,49.3 L89.9,49.7 L90.1,50.0 L90.3,50.3 L90.5,50.7 L90.7,51.0 L90.9,51.3 L91.2,51.7 L91.4,52.0 L91.6,52.4 L91.8,52.7 L92.0,53.1 L92.2,53.4 L92.4,53.8 L92.6,54.1 L92.8,54.5 L93.0,54.8 L93.2,55.2 L93.4,55.6 L93.6,55.9 L93.8,56.3 L94.1,56.6 L94.3,57.0 L94.5,57.4 L94.7,57.7 L94.9,58.1 L95.1,58.5 L95.3,58.9 L95.5,59.2 L95.7,59.6 L95.9,60.0 L96.1,60.4 L96.1,60.4 L96.1,60.4 L96.3,60.7 L96.5,61.1 L96.7,61.5 L97.0,61.9 L97.2,62.3 L97.4,62.6 L97.6,63.0 L97.8,63.4 L98.0,63.8 L98.2,64.2 L98.4,64.6 L98.6,65.0 L98.8,65.4 L99.0,65.8 L99.2,66.2 L99.4,66.6 L99.6,67.0 L99.9,67.4 L100.1,67.7 L100.3,68.2 L100.5,68.6 L100.7,69.0 L100.9,69.4 L101.1,69.8 L101.3,70.2 L101.5,70.6 L101.7,71.0 L101.9,71.4 L102.1,71.8 L102.3,72.2 L102.5,72.6 L102.8,73.0 L103.0,73.4 L103.2,73.9 L103.4,74.3 L103.6,74.7 L103.8,75.1 L104.0,75.5 L104.2,75.9 L104.4,76.4 L104.6,76.8 L104.8,77.2 L105.0,77.6 L105.2,78.0 L105.4,78.5 L105.7,78.9 L105.9,79.3 L106.1,79.7 L106.3,80.2 L106.5,80.6 L107.5,82.7 L108.6,84.9 L109.6,87.1 L110.6,89.2 L111.7,91.4 L112.7,93.7 L113.7,95.9 L114.8,98.1 L115.8,100.3 L116.4,101.7 L116.6,102.1 L116.8,102.6 L116.8,102.6 L116.8,102.6 L117.0,103.0 L117.3,103.5 L117.9,104.8 L118.9,107.1 L119.9,109.3 L121.0,111.6 L122.0,113.8 L123.1,116.1 L124.1,118.3 L125.1,120.5 L126.2,122.8 L127.2,125.0 L128.2,127.2 L129.3,129.4 L130.3,131.6 L131.3,133.7 L132.4,135.9 L133.4,138.0 L134.4,140.2 L135.5,142.3 L136.5,144.3 L137.1,145.6 L137.3,146.0 L137.6,146.4 L137.6,146.4 L137.6,146.4 L137.8,146.8 L138.0,147.2 L138.6,148.4 L139.6,150.4 L140.7,152.4 L141.7,154.4 L142.7,156.3 L143.8,158.2 L144.8,160.1 L145.8,161.9 L146.9,163.7 L147.9,165.5 L148.9,167.2 L150.0,168.9 L151.0,170.5 L152.1,172.2 L153.1,173.7 L154.1,175.3 L155.2,176.8 L156.2,178.2 L157.2,179.7 L157.9,180.5 L158.1,180.7 L158.3,181.0 L158.3,181.0 L158.3,181.0 L158.5,181.3 L158.7,181.6 L159.3,182.3 L160.3,183.6 L161.4,184.9 L162.4,186.0 L163.4,187.2 L164.5,188.3 L165.5,189.3 L166.6,190.3 L167.6,191.2 L168.6,192.1 L169.7,192.9 L170.7,193.7 L171.7,194.4 L172.8,195.1 L173.8,195.7 L174.8,196.3 L175.9,196.8 L176.9,197.3 L177.9,197.7 L178.6,197.9 L178.8,197.9 L179.0,198.0 L179.0,198.0 L179.0,198.0 L179.2,198.1 L179.4,198.1 L180.0,198.3 L181.1,198.5 L182.1,198.7 L183.1,198.8 L184.2,198.9 L185.2,198.9 L186.2,198.9 L187.3,198.8 L188.3,198.6 L189.3,198.4 L190.4,198.1 L191.4,197.8 L192.4,197.4 L193.5,197.0 L194.5,196.5 L195.6,195.9 L196.6,195.3 L197.6,194.7 L198.7,194.0 L199.3,193.5 L199.5,193.3 L199.7,193.2 L199.7,193.2 L199.7,193.2 L199.9,193.0 L200.1,192.9 L200.7,192.4 L201.8,191.5 L202.8,190.6 L203.8,189.6 L204.9,188.6 L205.9,187.5 L206.9,186.4 L208.0,185.2 L209.0,184.0 L210.1,182.8 L211.1,181.5 L212.1,180.1 L213.2,178.7 L214.2,177.3 L215.2,175.8 L216.3,174.3 L217.3,172.7 L218.3,171.1 L219.4,169.4 L220.0,168.4 L220.2,168.1 L220.4,167.8 L220.4,167.8 L220.4,167.7 L220.6,167.4 L220.8,167.1 L221.4,166.0 L222.5,164.3 L223.5,162.5 L224.5,160.7 L225.6,158.8 L226.6,156.9 L227.7,155.0 L228.7,153.1 L229.7,151.1 L230.8,149.1 L231.8,147.1 L232.8,145.0 L233.9,142.9 L234.9,140.8 L235.9,138.7 L237.0,136.6 L238.0,134.4 L239.0,132.3 L240.1,130.1 L240.7,128.8 L240.9,128.4 L241.1,127.9 L241.1,127.9 L241.1,127.9 L241.3,127.5 L241.5,127.0 L242.2,125.7 L243.2,123.5 L244.2,121.3 L245.3,119.0 L246.3,116.8 L247.3,114.6 L248.4,112.3 L249.4,110.1 L250.4,107.8 L251.5,105.6 L252.5,103.3 L253.5,101.1 L254.6,98.8 L255.6,96.6 L256.7,94.4 L257.7,92.2 L258.7,90.0 L259.8,87.8 L260.8,85.6 L261.4,84.3 L261.6,83.9 L261.8,83.4 L261.8,83.4 L261.8,83.4 L262.0,83.0 L262.2,82.6 L262.9,81.3 L263.9,79.2 L264.9,77.0 L266.0,74.9 L267.0,72.9 L268.0,70.8 L269.1,68.8 L270.1,66.8 L271.2,64.8 L272.2,62.9 L273.2,61.0 L274.3,59.1 L275.3,57.2 L276.3,55.4 L277.4,53.6 L278.4,51.9 L279.4,50.1 L280.5,48.5 L281.5,46.8 L282.1,45.8 L282.3,45.5 L282.5,45.2 L282.5,45.2 L282.5,45.2 L282.8,44.9 L283.0,44.6 L283.6,43.6 L284.6,42.1 L285.7,40.6 L286.7,39.2 L287.7,37.8 L288.8,36.4 L289.8,35.1 L290.8,33.9 L291.9,32.6 L292.9,31.5 L293.9,30.4 L295.0,29.3 L296.0,28.3 L297.0,27.3 L298.1,26.4 L299.1,25.5 L300.2,24.7 L301.2,23.9 L302.2,23.2 L302.8,22.8 L303.1,22.7 L303.3,22.6 L303.3,22.6 L303.3,22.6 L303.5,22.5 L303.7,22.3 L304.3,22.0 L305.3,21.4 L306.4,20.9 L307.4,20.5 L308.4,20.1 L309.5,19.8 L310.5,19.5 L311.5,19.3 L312.6,19.1 L313.6,19.0 L314.7,19.0 L315.7,19.0 L316.7,19.1 L317.8,19.2 L318.8,19.4 L319.8,19.6 L320.9,19.9 L321.9,20.2 L322.9,20.6 L323.6,20.9 L323.8,21.0 L324.0,21.1 L324.0,21.1 L324.0,21.1 L324.2,21.2 L324.4,21.3 L325.0,21.6 L326.0,22.2 L327.1,22.8 L328.1,23.5 L329.2,24.2 L330.2,25.0 L331.2,25.8 L332.3,26.7 L333.3,27.6 L334.3,28.6 L335.4,29.7 L336.4,30.7 L337.4,31.9 L338.5,33.1 L339.5,34.3 L340.5,35.6 L341.6,36.9 L342.6,38.3 L343.7,39.7 L344.3,40.5 L344.5,40.8 L344.7,41.1 L344.7,41.1 L344.7,41.1 L344.9,41.4 L345.1,41.7 L345.7,42.6 L346.8,44.2 L347.8,45.7 L348.8,47.4 L349.9,49.0 L350.9,50.7 L351.9,52.5 L353.0,54.2 L354.0,56.0 L355.0,57.9 L356.1,59.7 L357.1,61.6 L358.2,63.6 L359.2,65.5 L360.2,67.5 L361.3,69.5 L362.3,71.5 L363.3,73.6 L364.4,75.7 L365.0,76.9 L365.2,77.3 L365.4,77.8 L365.4,77.8 L365.4,77.8 L365.6,78.2 L365.8,78.6 L366.4,79.9 L367.5,82.0 L368.5,84.2 L369.5,86.3 L370.6,88.5 L371.6,90.7 L372.6,92.9 L373.7,95.2 L374.7,97.4 L375.8,99.6 L376.8,101.9 L377.8,104.1 L378.9,106.3 L379.9,108.6 L380.9,110.8 L382.0,113.1 L383.0,115.3 L384.0,117.6 L385.1,119.8 L385.7,121.1 L385.9,121.6 L386.1,122.0 L386.1,122.0 L386.1,122.0 L386.3,122.5 L386.5,122.9 L387.1,124.3 L388.2,126.5 L389.2,128.7 L390.3,130.9 L391.3,133.0 L392.3,135.2 L393.4,137.3 L394.4,139.5 L395.4,141.6 L396.5,143.7 L397.5,145.7 L398.5,147.8 L399.6,149.8 L400.6,151.8 L401.6,153.7 L402.7,155.7 L403.7,157.6 L404.8,159.4 L405.8,161.3 L406.4,162.4 L406.6,162.7 L406.8,163.1 L406.8,163.1 L406.8,163.1 L407.0,163.5 L407.2,163.8 L407.9,164.9 L408.9,166.6 L409.9,168.3 L411.0,170.0 L412.0,171.6 L413.0,173.2 L414.1,174.8 L415.1,176.3 L416.1,177.8 L417.2,179.2 L418.2,180.6 L419.3,181.9 L420.3,183.2 L421.3,184.5 L422.4,185.7 L423.4,186.8 L424.4,187.9 L425.5,189.0 L426.5,190.0 L427.1,190.5 L427.3,190.7 L427.5,190.9 L427.5,190.9 L427.5,190.9 L427.7,191.1 L428.0,191.3 L428.6,191.8 L429.6,192.7 L430.6,193.5 L431.7,194.2 L432.7,194.9 L433.8,195.5 L434.8,196.1 L435.8,196.6 L436.9,197.1 L437.9,197.5 L438.9,197.9 L440.0,198.2 L441.0,198.5 L442.0,198.7 L443.1,198.8 L444.1,198.9 L445.1,198.9 L446.2,198.9 L447.2,198.8 L447.8,198.7 L448.0,198.7 L448.3,198.7 L448.3,198.7 L448.3,198.7 L448.5,198.6 L448.7,198.6 L449.3,198.5 L450.3,198.2 L451.4,197.9 L452.4,197.5 L453.4,197.1 L454.5,196.6 L455.5,196.1 L456.5,195.5 L457.6,194.9 L458.6,194.2 L459.6,193.4 L460.7,192.6 L461.7,191.8 L462.8,190.9 L463.8,189.9 L464.8,188.9 L465.9,187.9 L466.9,186.8 L467.9,185.6 L468.6,184.9 L468.8,184.7 L469.0,184.4 L469.0,184.4 L469.0,184.4 L469.2,184.2 L469.4,183.9 L470.0,183.2 L471.0,181.9 L472.1,180.6 L473.1,179.2 L474.1,177.7 L475.2,176.3 L476.2,174.8 L477.3,173.2 L478.3,171.6 L479.3,170.0 L480.4,168.3 L481.4,166.6 L482.4,164.9 L483.5,163.1 L484.5,161.3 L485.5,159.4 L486.6,157.5 L487.6,155.6 L488.6,153.7 L489.3,152.5 L489.5,152.1 L489.7,151.7 L489.7,151.7 L489.7,151.7 L489.9,151.3 L490.1,150.9 L490.7,149.7 L491.8,147.7 L492.8,145.7 L493.8,143.6 L494.9,141.5 L495.9,139.4 L496.9,137.3 L498.0,135.2 L499.0,133.0 L500.0,130.8 L501.1,128.6 L502.1,126.4 L503.1,124.2 L504.2,122.0 L505.2,119.8 L506.3,117.5 L507.3,115.3 L508.3,113.0 L509.4,110.8 L510.0,109.5 L510.2,109.0 L510.4,108.6 L510.4,108.6 L510.4,108.5 L510.6,108.1 L510.8,107.7 L511.4,106.3 L512.5,104.1 L513.5,101.8 L514.5,99.6 L515.6,97.3 L516.6,95.1 L517.6,92.9 L518.7,90.7 L519.7,88.5 L520.8,86.3 L521.8,84.1 L522.8,82.0 L523.9,79.8 L524.9,77.7 L525.9,75.6 L527.0,73.6 L528.0,71.5 L529.0,69.5 L530.1,67.5 L530.7,66.3 L530.9,65.9 L531.1,65.5 L531.1,65.5 L531.1,65.5 L531.3,65.1 L531.5,64.7 L532.1,63.5 L533.2,61.6 L534.2,59.7 L535.2,57.8 L536.3,56.0 L537.3,54.2 L538.4,52.4 L539.4,50.7 L540.4,49.0 L541.5,47.3 L542.5,45.7 L543.5,44.1 L544.6,42.6 L545.6,41.1 L546.6,39.6 L547.7,38.2 L548.7,36.9 L549.7,35.5 L550.8,34.3 L551.4,33.5 L551.6,33.3 L551.8,33.0 L551.8,33.0 L551.8,33.0 L552.0,32.8 L552.2,32.6 L552.9,31.9 L553.9,30.7 L554.9,29.6 L556.0,28.6 L557.0,27.6 L558.0,26.7 L559.1,25.8 L560.1,25.0 L561.1,24.2 L562.2,23.5 L563.2,22.8 L564.2,22.2 L565.3,21.6 L566.3,21.1 L567.4,20.6 L568.4,20.2 L569.4,19.9 L570.5,19.6 L571.5,19.4 L572.1,19.3 L572.3,19.2 L572.5,19.2 L572.5,19.2 L572.5,19.2 L572.7,19.2 L572.9,19.1 L573.6,19.1 L574.6,19.0 L575.6,19.0 L576.7,19.0 L577.7,19.1 L578.7,19.3 L579.8,19.5 L580.8,19.8 L581.9,20.1 L582.9,20.5 L583.9,20.9 L585.0,21.4 L586.0,22.0 L587.0,22.6 L588.1,23.2 L589.1,24.0 L590.1,24.7 L591.2,25.5 L592.2,26.4 L592.8,26.9 L593.0,27.1 L593.2,27.3 L593.2,27.3 L593.2,27.3 L593.5,27.5 L593.7,27.7 L594.3,28.3 L595.3,29.3 L596.4,30.4 L597.4,31.5 L598.4,32.7 L599.5,33.9 L600.5,35.1 L601.5,36.5 L602.6,37.8 L603.6,39.2 L604.6,40.6 L605.7,42.1 L606.7,43.7 L607.7,45.2 L608.8,46.8 L609.8,48.5 L610.9,50.2 L611.9,51.9 L612.9,53.6 L613.5,54.7 L613.8,55.1 L614.0,55.4 L614.0,55.4 L614.0,55.4 L614.2,55.8 L614.4,56.2 L615.0,57.3 L616.0,59.1 L617.1,61.0 L618.1,62.9 L619.1,64.9 L620.2,66.8 L621.2,68.8 L622.2,70.9 L623.3,72.9 L624.3,75.0 L625.4,77.1 L626.4,79.2 L627.4,81.3 L628.5,83.5 L629.5,85.6 L630.5,87.8 L631.6,90.0 L632.6,92.2 L633.6,94.4 L634.3,95.8 L634.5,96.2 L634.7,96.6 L634.7,96.6 L634.7,96.7 L634.9,97.1 L635.1,97.5 L635.7,98.9 L636.7,101.1 L637.8,103.4 L638.8,105.6 L639.9,107.9 L640.9,110.1 L641.9,112.4 L643.0,114.6 L644.0,116.8 L645.0,119.1 L646.1,121.3 L647.1,123.5 L648.1,125.7 L649.2,128.0 L650.2,130.1 L651.2,132.3 L652.3,134.5 L653.3,136.6 L654.4,138.8 L655.0,140.0 L655.2,140.5 L655.4,140.9 L655.4,140.9 L655.4,140.9 L655.6,141.3 L655.8,141.7 L656.4,143.0 L657.5,145.0 L658.5,147.1 L659.5,149.1 L660.6,151.1 L661.6,153.1 L662.6,155.0 L663.7,157.0 L664.7,158.8 L665.7,160.7 L666.8,162.5 L667.8,164.3 L668.9,166.1 L669.9,167.8 L670.9,169.5 L672.0,171.1 L673.0,172.7 L674.0,174.3 L675.1,175.8 L676.1,177.3" stroke="#ff0000" stroke-width="2.8" stroke-dasharray="10.8 9.9"/>
</g>
<path d="M158.27,216.90 v-6.40 M158.27,1.00 v6.40 M261.83,216.90 v-6.40 M261.83,1.00 v6.40 M365.40,216.90 v-6.40 M365.40,1.00 v6.40 M468.97,216.90 v-6.40 M468.97,1.00 v6.40 M572.53,216.90 v-6.40 M572.53,1.00 v6.40 M54.70,36.98 h6.40 M676.10,36.98 h-6.40 M54.70,72.97 h6.40 M676.10,72.97 h-6.40 M54.70,108.95 h6.40 M676.10,108.95 h-6.40 M54.70,144.93 h6.40 M676.10,144.93 h-6.40 M54.70,180.92 h6.40 M676.10,180.92 h-6.40" fill="none" stroke="#4d4d4d" stroke-width="1.15"/>
<rect x="54.70" y="1.00" width="621.40" height="215.90" fill="none" stroke="#4d4d4d" stroke-width="1.15"/>
<text class="tk" transform="translate(54.50,236.60) scale(0.955,1)" text-anchor="middle">0</text>
<text class="tk" transform="translate(158.07,236.60) scale(0.955,1)" text-anchor="middle">5</text>
<text class="tk" transform="translate(261.63,236.60) scale(0.955,1)" text-anchor="middle">10</text>
<text class="tk" transform="translate(365.20,236.60) scale(0.955,1)" text-anchor="middle">15</text>
<text class="tk" transform="translate(468.77,236.60) scale(0.955,1)" text-anchor="middle">20</text>
<text class="tk" transform="translate(572.33,236.60) scale(0.955,1)" text-anchor="middle">25</text>
<text class="tk" transform="translate(675.90,236.60) scale(0.955,1)" text-anchor="middle">30</text>
<text class="tk" transform="translate(50.30,43.08) scale(0.955,1)" text-anchor="end">0.4</text>
<text class="tk" transform="translate(50.30,79.07) scale(0.955,1)" text-anchor="end">0.2</text>
<text class="tk" transform="translate(50.30,115.05) scale(0.955,1)" text-anchor="end">0</text>
<text class="tk" transform="translate(50.30,151.03) scale(0.955,1)" text-anchor="end">-0.2</text>
<text class="tk" transform="translate(50.30,187.02) scale(0.955,1)" text-anchor="end">-0.4</text>
<text class="tk" transform="translate(50.30,223.00) scale(0.955,1)" text-anchor="end">-0.6</text>
<text class="lb" x="365.70" y="260.10" text-anchor="middle">Time(s)</text>
<text class="lb" transform="translate(16.70,109.35) rotate(-90)" text-anchor="middle">x(m)</text>
<rect x="521.10" y="13.10" width="140.90" height="71.10" fill="#ffffff" stroke="#5a5a5a" stroke-width="1.1"/>
<path d="M526.8,26.40 H581" stroke="#0000ff" stroke-width="2.8" fill="none"/>
<text class="lg" x="584.8" y="33.00">Real</text>
<path d="M526.8,48.50 H581" stroke="#000000" stroke-width="2.8" fill="none"/>
<text class="lg" x="584.8" y="54.90">measured</text>
<path d="M526.8,70.60 H581" stroke="#ff0000" stroke-width="2.8" fill="none" stroke-dasharray="10.8 9.9"/>
<text class="lg" x="584.8" y="76.80">Estimated</text>
</g>
<defs><clipPath id="c1"><rect x="54.70" y="282.70" width="621.40" height="215.50"/></clipPath></defs>
<g>
<path d="M158.27,498.20 V282.70 M261.83,498.20 V282.70 M365.40,498.20 V282.70 M468.97,498.20 V282.70 M572.53,498.20 V282.70 M54.70,318.62 H676.10 M54.70,354.53 H676.10 M54.70,390.45 H676.10 M54.70,426.37 H676.10 M54.70,462.28 H676.10" fill="none" stroke="#dedede" stroke-width="1" stroke-dasharray="3.3 3.55"/>
<g clip-path="url(#c1)" fill="none" stroke-linejoin="round">
<path d="M54.7,390.4 L54.9,391.1 L55.1,391.7 L55.3,392.3 L55.5,392.8 L55.7,393.3 L55.9,393.7 L56.1,394.0 L56.4,394.4 L56.6,394.7 L56.8,395.0 L57.0,395.2 L57.2,395.4 L57.4,395.4 L57.6,395.3 L57.8,395.1 L58.0,394.9 L58.2,394.7 L58.4,394.4 L58.6,394.1 L58.8,393.7 L59.0,393.2 L59.3,392.8 L59.5,392.3 L59.7,391.9 L59.9,391.4 L60.1,390.9 L60.3,390.5 L60.5,389.9 L60.7,389.3 L60.9,388.6 L61.1,387.9 L61.3,387.1 L61.5,386.2 L61.7,385.3 L61.9,384.4 L62.2,383.4 L62.4,382.4 L62.6,381.4 L62.8,380.4 L63.0,379.4 L63.2,378.4 L63.4,377.5 L63.6,376.6 L63.8,375.7 L64.0,374.8 L64.2,374.1 L64.4,373.4 L64.6,372.8 L64.8,372.2 L65.1,371.7 L65.3,371.1 L65.5,370.6 L65.7,370.0 L65.9,369.5 L66.1,368.9 L66.3,368.4 L66.5,367.8 L66.7,367.3 L66.9,366.7 L67.1,366.2 L67.3,365.7 L67.5,365.1 L67.7,364.6 L68.0,364.1 L68.2,363.6 L68.4,363.0 L68.6,362.5 L68.8,362.0 L69.0,361.5 L69.2,361.0 L69.4,360.5 L69.6,359.9 L69.8,359.4 L70.0,358.9 L70.2,358.4 L70.4,357.9 L70.6,357.4 L70.9,356.9 L71.1,356.4 L71.3,355.9 L71.5,355.4 L71.7,354.9 L71.9,354.4 L72.1,354.0 L72.3,353.5 L72.5,353.0 L72.7,352.5 L72.9,352.0 L73.1,351.6 L73.3,351.1 L73.5,350.6 L73.8,350.2 L74.0,349.7 L74.2,349.2 L74.4,348.8 L74.6,348.3 L74.7,348.1 L74.8,347.8 L74.9,347.6 L75.0,347.4 L75.1,347.2 L75.1,347.2 L75.2,346.9 L75.3,346.7 L75.4,346.5 L75.4,346.5 L75.4,346.5 L75.5,346.3 L75.6,346.1 L75.8,345.6 L76.0,345.2 L76.2,344.7 L76.4,344.3 L76.7,343.9 L76.9,343.4 L77.1,343.0 L77.3,342.6 L77.5,342.1 L77.7,341.7 L77.9,341.3 L78.1,340.9 L78.3,340.4 L78.5,340.0 L78.7,339.6 L78.9,339.2 L79.1,338.7 L79.3,338.3 L79.6,337.9 L79.8,337.5 L80.0,337.1 L80.2,336.6 L80.4,336.2 L80.6,335.8 L80.8,335.4 L81.0,334.9 L81.2,334.5 L81.4,334.1 L81.6,333.7 L81.8,333.2 L82.0,332.8 L82.2,332.4 L82.5,332.0 L82.7,331.5 L82.9,331.1 L83.1,330.7 L83.3,330.2 L83.5,329.8 L83.7,329.4 L83.9,328.9 L84.1,328.5 L84.3,328.1 L84.5,327.7 L84.7,327.2 L84.9,326.8 L85.1,326.4 L85.4,326.0 L85.6,325.6 L85.8,325.1 L86.0,324.7 L86.2,324.3 L86.4,323.9 L86.6,323.5 L86.8,323.1 L87.0,322.7 L87.2,322.3 L87.4,321.9 L87.6,321.6 L87.8,321.2 L88.0,320.8 L88.3,320.4 L88.5,320.1 L88.7,319.7 L88.9,319.4 L89.1,319.0 L89.3,318.7 L89.5,318.4 L89.7,318.0 L89.9,317.7 L90.1,317.4 L90.3,317.1 L90.5,316.8 L90.7,316.5 L90.9,316.2 L91.2,315.9 L91.4,315.6 L91.6,315.3 L91.8,315.0 L92.0,314.7 L92.2,314.5 L92.4,314.2 L92.6,313.9 L92.8,313.7 L93.0,313.4 L93.2,313.2 L93.4,312.9 L93.6,312.7 L93.8,312.4 L94.1,312.2 L94.3,312.0 L94.5,311.7 L94.7,311.5 L94.9,311.3 L95.1,311.0 L95.3,310.8 L95.5,310.6 L95.7,310.4 L95.9,310.2 L96.1,310.0 L96.1,310.0 L96.1,310.0 L96.3,309.8 L96.5,309.6 L96.7,309.4 L97.0,309.2 L97.2,309.0 L97.4,308.8 L97.6,308.6 L97.8,308.4 L98.0,308.2 L98.2,308.1 L98.4,307.9 L98.6,307.7 L98.8,307.6 L99.0,307.4 L99.2,307.2 L99.4,307.1 L99.6,306.9 L99.9,306.7 L100.1,306.6 L100.3,306.4 L100.5,306.3 L100.7,306.1 L100.9,306.0 L101.1,305.9 L101.3,305.7 L101.5,305.6 L101.7,305.5 L101.9,305.3 L102.1,305.2 L102.3,305.1 L102.5,305.0 L102.8,304.8 L103.0,304.7 L103.2,304.6 L103.4,304.5 L103.6,304.4 L103.8,304.3 L104.0,304.2 L104.2,304.0 L104.4,303.9 L104.6,303.8 L104.8,303.7 L105.0,303.6 L105.2,303.6 L105.4,303.5 L105.7,303.4 L105.9,303.3 L106.1,303.2 L106.3,303.1 L106.5,303.0 L107.5,302.7 L108.6,302.4 L109.6,302.1 L110.6,301.9 L111.7,301.8 L112.7,301.8 L113.7,301.9 L114.8,302.0 L115.8,302.2 L116.4,302.3 L116.6,302.4 L116.8,302.4 L116.8,302.4 L116.8,302.4 L117.0,302.5 L117.3,302.5 L117.9,302.7 L118.9,303.0 L119.9,303.3 L121.0,303.6 L122.0,303.8 L123.1,304.1 L124.1,304.3 L125.1,304.6 L126.2,304.9 L127.2,305.2 L128.2,305.5 L129.3,305.9 L130.3,306.3 L131.3,306.7 L132.4,307.2 L133.4,307.7 L134.4,308.2 L135.5,308.7 L136.5,309.3 L137.1,309.6 L137.3,309.7 L137.6,309.8 L137.6,309.8 L137.6,309.8 L137.8,310.0 L138.0,310.1 L138.6,310.5 L139.6,311.1 L140.7,311.8 L141.7,312.6 L142.7,313.4 L143.8,314.3 L144.8,315.2 L145.8,316.1 L146.9,317.2 L147.9,318.2 L148.9,319.4 L150.0,320.5 L151.0,321.8 L152.1,323.1 L153.1,324.5 L154.1,326.0 L155.2,327.5 L156.2,329.2 L157.2,331.0 L157.9,332.1 L158.1,332.5 L158.3,332.8 L158.3,332.9 L158.3,332.9 L158.5,333.2 L158.7,333.6 L159.3,334.8 L160.3,336.9 L161.4,339.1 L162.4,341.3 L163.4,343.7 L164.5,346.1 L165.5,348.5 L166.6,350.9 L167.6,353.3 L168.6,355.7 L169.7,358.0 L170.7,360.3 L171.7,362.6 L172.8,364.8 L173.8,367.1 L174.8,369.3 L175.9,371.6 L176.9,373.8 L177.9,376.0 L178.6,377.4 L178.8,377.8 L179.0,378.2 L179.0,378.2 L179.0,378.3 L179.2,378.7 L179.4,379.1 L180.0,380.5 L181.1,382.7 L182.1,384.9 L183.1,387.1 L184.2,389.3 L185.2,391.5 L186.2,393.7 L187.3,395.9 L188.3,398.1 L189.3,400.3 L190.4,402.5 L191.4,404.7 L192.4,406.8 L193.5,409.0 L194.5,411.2 L195.6,413.4 L196.6,415.6 L197.6,417.7 L198.7,419.8 L199.3,421.1 L199.5,421.5 L199.7,421.9 L199.7,421.9 L199.7,422.0 L199.9,422.4 L200.1,422.8 L200.7,424.0 L201.8,426.1 L202.8,428.2 L203.8,430.2 L204.9,432.2 L205.9,434.2 L206.9,436.2 L208.0,438.1 L209.0,440.0 L210.1,442.0 L211.1,443.9 L212.1,445.8 L213.2,447.7 L214.2,449.5 L215.2,451.4 L216.3,453.2 L217.3,455.0 L218.3,456.7 L219.4,458.4 L220.0,459.3 L220.2,459.7 L220.4,460.0 L220.4,460.0 L220.4,460.0 L220.6,460.3 L220.8,460.6 L221.4,461.5 L222.5,463.0 L223.5,464.5 L224.5,465.8 L225.6,467.1 L226.6,468.4 L227.7,469.5 L228.7,470.7 L229.7,471.8 L230.8,472.8 L231.8,473.8 L232.8,474.7 L233.9,475.6 L234.9,476.4 L235.9,477.2 L237.0,477.9 L238.0,478.5 L239.0,479.1 L240.1,479.7 L240.7,480.0 L240.9,480.1 L241.1,480.2 L241.1,480.2 L241.1,480.2 L241.3,480.3 L241.5,480.4 L242.2,480.6 L243.2,481.0 L244.2,481.4 L245.3,481.6 L246.3,481.9 L247.3,482.0 L248.4,482.1 L249.4,482.2 L250.4,482.1 L251.5,482.1 L252.5,481.9 L253.5,481.7 L254.6,481.4 L255.6,481.0 L256.7,480.6 L257.7,480.1 L258.7,479.6 L259.8,479.0 L260.8,478.3 L261.4,477.9 L261.6,477.8 L261.8,477.6 L261.8,477.6 L261.8,477.6 L262.0,477.5 L262.2,477.3 L262.9,476.8 L263.9,476.0 L264.9,475.2 L266.0,474.3 L267.0,473.3 L268.0,472.3 L269.1,471.3 L270.1,470.2 L271.2,469.0 L272.2,467.9 L273.2,466.6 L274.3,465.4 L275.3,464.1 L276.3,462.7 L277.4,461.3 L278.4,459.9 L279.4,458.4 L280.5,456.9 L281.5,455.4 L282.1,454.5 L282.3,454.1 L282.5,453.8 L282.5,453.8 L282.5,453.8 L282.8,453.5 L283.0,453.2 L283.6,452.2 L284.6,450.5 L285.7,448.9 L286.7,447.1 L287.7,445.4 L288.8,443.6 L289.8,441.8 L290.8,439.9 L291.9,438.0 L292.9,436.1 L293.9,434.1 L295.0,432.2 L296.0,430.2 L297.0,428.1 L298.1,426.1 L299.1,424.0 L300.2,421.9 L301.2,419.8 L302.2,417.7 L302.8,416.4 L303.1,416.0 L303.3,415.5 L303.3,415.5 L303.3,415.5 L303.5,415.1 L303.7,414.7 L304.3,413.4 L305.3,411.2 L306.4,409.0 L307.4,406.8 L308.4,404.6 L309.5,402.4 L310.5,400.1 L311.5,397.9 L312.6,395.7 L313.6,393.4 L314.7,391.2 L315.7,388.9 L316.7,386.7 L317.8,384.5 L318.8,382.2 L319.8,380.0 L320.9,377.8 L321.9,375.5 L322.9,373.3 L323.6,372.0 L323.8,371.6 L324.0,371.1 L324.0,371.1 L324.0,371.1 L324.2,370.7 L324.4,370.3 L325.0,368.9 L326.0,366.8 L327.1,364.6 L328.1,362.5 L329.2,360.4 L330.2,358.2 L331.2,356.2 L332.3,354.1 L333.3,352.1 L334.3,350.0 L335.4,348.0 L336.4,346.1 L337.4,344.1 L338.5,342.2 L339.5,340.4 L340.5,338.5 L341.6,336.7 L342.6,334.9 L343.7,333.2 L344.3,332.1 L344.5,331.8 L344.7,331.5 L344.7,331.5 L344.7,331.5 L344.9,331.1 L345.1,330.8 L345.7,329.8 L346.8,328.1 L347.8,326.6 L348.8,325.0 L349.9,323.5 L350.9,322.0 L351.9,320.6 L353.0,319.2 L354.0,317.8 L355.0,316.5 L356.1,315.3 L357.1,314.1 L358.2,312.9 L359.2,311.8 L360.2,310.8 L361.3,309.8 L362.3,308.8 L363.3,307.9 L364.4,307.0 L365.0,306.5 L365.2,306.4 L365.4,306.2 L365.4,306.2 L365.4,306.2 L365.6,306.1 L365.8,305.9 L366.4,305.5 L367.5,304.8 L368.5,304.1 L369.5,303.5 L370.6,303.0 L371.6,302.5 L372.6,302.1 L373.7,301.7 L374.7,301.4 L375.8,301.1 L376.8,300.9 L377.8,300.8 L378.9,300.7 L379.9,300.7 L380.9,300.7 L382.0,300.8 L383.0,300.9 L384.0,301.1 L385.1,301.3 L385.7,301.5 L385.9,301.5 L386.1,301.6 L386.1,301.6 L386.1,301.6 L386.3,301.7 L386.5,301.7 L387.1,302.0 L388.2,302.4 L389.2,302.8 L390.3,303.4 L391.3,303.9 L392.3,304.6 L393.4,305.2 L394.4,306.0 L395.4,306.8 L396.5,307.6 L397.5,308.5 L398.5,309.4 L399.6,310.4 L400.6,311.5 L401.6,312.6 L402.7,313.7 L403.7,314.9 L404.8,316.1 L405.8,317.4 L406.4,318.2 L406.6,318.5 L406.8,318.7 L406.8,318.8 L406.8,318.8 L407.0,319.0 L407.2,319.3 L407.9,320.1 L408.9,321.5 L409.9,323.0 L411.0,324.5 L412.0,326.1 L413.0,327.6 L414.1,329.3 L415.1,330.9 L416.1,332.6 L417.2,334.4 L418.2,336.1 L419.3,337.9 L420.3,339.8 L421.3,341.6 L422.4,343.5 L423.4,345.5 L424.4,347.4 L425.5,349.4 L426.5,351.4 L427.1,352.6 L427.3,353.0 L427.5,353.4 L427.5,353.4 L427.5,353.4 L427.7,353.9 L428.0,354.3 L428.6,355.5 L429.6,357.6 L430.6,359.7 L431.7,361.8 L432.7,363.9 L433.8,366.1 L434.8,368.3 L435.8,370.4 L436.9,372.6 L437.9,374.8 L438.9,377.1 L440.0,379.3 L441.0,381.5 L442.0,383.7 L443.1,386.0 L444.1,388.2 L445.1,390.5 L446.2,392.7 L447.2,395.0 L447.8,396.3 L448.0,396.8 L448.3,397.2 L448.3,397.2 L448.3,397.2 L448.5,397.6 L448.7,398.1 L449.3,399.4 L450.3,401.7 L451.4,403.9 L452.4,406.1 L453.4,408.3 L454.5,410.5 L455.5,412.7 L456.5,414.9 L457.6,417.0 L458.6,419.1 L459.6,421.3 L460.7,423.4 L461.7,425.4 L462.8,427.5 L463.8,429.5 L464.8,431.5 L465.9,433.5 L466.9,435.5 L467.9,437.4 L468.6,438.5 L468.8,438.9 L469.0,439.3 L469.0,439.3 L469.0,439.3 L469.2,439.7 L469.4,440.0 L470.0,441.2 L471.0,443.0 L472.1,444.8 L473.1,446.6 L474.1,448.3 L475.2,450.0 L476.2,451.7 L477.3,453.3 L478.3,454.9 L479.3,456.4 L480.4,457.9 L481.4,459.4 L482.4,460.8 L483.5,462.2 L484.5,463.5 L485.5,464.8 L486.6,466.0 L487.6,467.2 L488.6,468.3 L489.3,469.0 L489.5,469.2 L489.7,469.4 L489.7,469.4 L489.7,469.4 L489.9,469.7 L490.1,469.9 L490.7,470.5 L491.8,471.5 L492.8,472.4 L493.8,473.3 L494.9,474.1 L495.9,474.9 L496.9,475.7 L498.0,476.3 L499.0,477.0 L500.0,477.5 L501.1,478.1 L502.1,478.5 L503.1,478.9 L504.2,479.3 L505.2,479.6 L506.3,479.8 L507.3,480.0 L508.3,480.1 L509.4,480.2 L510.0,480.2 L510.2,480.2 L510.4,480.2 L510.4,480.2 L510.4,480.2 L510.6,480.2 L510.8,480.2 L511.4,480.2 L512.5,480.1 L513.5,480.0 L514.5,479.8 L515.6,479.5 L516.6,479.2 L517.6,478.8 L518.7,478.4 L519.7,477.9 L520.8,477.4 L521.8,476.8 L522.8,476.1 L523.9,475.4 L524.9,474.7 L525.9,473.9 L527.0,473.0 L528.0,472.1 L529.0,471.1 L530.1,470.1 L530.7,469.5 L530.9,469.3 L531.1,469.1 L531.1,469.1 L531.1,469.1 L531.3,468.8 L531.5,468.6 L532.1,467.9 L533.2,466.8 L534.2,465.6 L535.2,464.3 L536.3,463.0 L537.3,461.7 L538.4,460.3 L539.4,458.9 L540.4,457.4 L541.5,455.9 L542.5,454.3 L543.5,452.7 L544.6,451.1 L545.6,449.4 L546.6,447.7 L547.7,446.0 L548.7,444.2 L549.7,442.4 L550.8,440.5 L551.4,439.4 L551.6,439.0 L551.8,438.6 L551.8,438.6 L551.8,438.6 L552.0,438.3 L552.2,437.9 L552.9,436.7 L553.9,434.8 L554.9,432.8 L556.0,430.8 L557.0,428.8 L558.0,426.8 L559.1,424.7 L560.1,422.6 L561.1,420.5 L562.2,418.4 L563.2,416.2 L564.2,414.1 L565.3,411.9 L566.3,409.7 L567.4,407.5 L568.4,405.3 L569.4,403.1 L570.5,400.9 L571.5,398.6 L572.1,397.3 L572.3,396.9 L572.5,396.4 L572.5,396.4 L572.5,396.4 L572.7,396.0 L572.9,395.5 L573.6,394.2 L574.6,391.9 L575.6,389.7 L576.7,387.4 L577.7,385.2 L578.7,382.9 L579.8,380.7 L580.8,378.5 L581.9,376.3 L582.9,374.1 L583.9,371.9 L585.0,369.7 L586.0,367.5 L587.0,365.3 L588.1,363.2 L589.1,361.0 L590.1,358.9 L591.2,356.8 L592.2,354.8 L592.8,353.5 L593.0,353.1 L593.2,352.7 L593.2,352.7 L593.2,352.7 L593.5,352.3 L593.7,351.9 L594.3,350.7 L595.3,348.7 L596.4,346.7 L597.4,344.8 L598.4,342.9 L599.5,341.0 L600.5,339.1 L601.5,337.3 L602.6,335.5 L603.6,333.7 L604.6,332.0 L605.7,330.3 L606.7,328.7 L607.7,327.1 L608.8,325.5 L609.8,324.0 L610.9,322.5 L611.9,321.0 L612.9,319.6 L613.5,318.8 L613.8,318.5 L614.0,318.3 L614.0,318.3 L614.0,318.3 L614.2,318.0 L614.4,317.7 L615.0,317.0 L616.0,315.7 L617.1,314.5 L618.1,313.3 L619.1,312.2 L620.2,311.1 L621.2,310.1 L622.2,309.1 L623.3,308.2 L624.3,307.3 L625.4,306.5 L626.4,305.7 L627.4,305.0 L628.5,304.3 L629.5,303.7 L630.5,303.2 L631.6,302.7 L632.6,302.2 L633.6,301.8 L634.3,301.6 L634.5,301.6 L634.7,301.5 L634.7,301.5 L634.7,301.5 L634.9,301.4 L635.1,301.4 L635.7,301.2 L636.7,301.0 L637.8,300.8 L638.8,300.7 L639.9,300.7 L640.9,300.7 L641.9,300.7 L643.0,300.8 L644.0,301.0 L645.0,301.2 L646.1,301.5 L647.1,301.8 L648.1,302.2 L649.2,302.7 L650.2,303.2 L651.2,303.7 L652.3,304.4 L653.3,305.0 L654.4,305.7 L655.0,306.2 L655.2,306.3 L655.4,306.5 L655.4,306.5 L655.4,306.5 L655.6,306.7 L655.8,306.8 L656.4,307.3 L657.5,308.2 L658.5,309.1 L659.5,310.1 L660.6,311.1 L661.6,312.2 L662.6,313.3 L663.7,314.5 L664.7,315.7 L665.7,317.0 L666.8,318.3 L667.8,319.7 L668.9,321.1 L669.9,322.5 L670.9,324.0 L672.0,325.5 L673.0,327.1 L674.0,328.7 L675.1,330.4 L676.1,332.1" stroke="#0000ff" stroke-width="2.8"/>
<path d="M54.7,390.4 L54.9,390.4 L55.1,390.4 L55.3,390.4 L55.5,390.4 L55.7,390.4 L55.9,390.4 L56.1,390.4 L56.4,390.4 L56.6,390.4 L56.8,390.4 L57.0,390.4 L57.2,390.4 L57.4,390.4 L57.6,390.4 L57.8,390.4 L58.0,390.4 L58.2,390.4 L58.4,390.4 L58.6,390.4 L58.8,390.4 L59.0,390.4 L59.3,390.4 L59.5,390.4 L59.7,390.4 L59.9,390.4 L60.1,390.4 L60.3,390.4 L60.5,390.4 L60.7,390.4 L60.9,390.4 L61.1,390.4 L61.3,390.4 L61.5,390.4 L61.7,390.4 L61.9,390.4 L62.2,390.4 L62.4,390.4 L62.6,390.4 L62.8,390.4 L63.0,390.4 L63.2,390.4 L63.4,390.4 L63.6,390.8 L63.8,391.5 L64.0,392.0 L64.2,392.6 L64.4,393.1 L64.6,393.5 L64.8,393.9 L65.1,394.2 L65.3,394.5 L65.5,394.8 L65.7,395.1 L65.9,395.3 L66.1,395.4 L66.3,395.4 L66.5,395.2 L66.7,395.0 L66.9,394.8 L67.1,394.6 L67.3,394.3 L67.5,394.0 L67.7,393.5 L68.0,393.1 L68.2,392.6 L68.4,392.2 L68.6,391.7 L68.8,391.3 L69.0,390.8 L69.2,390.3 L69.4,389.8 L69.6,389.1 L69.8,388.5 L70.0,387.7 L70.2,386.9 L70.4,386.0 L70.6,385.1 L70.9,384.2 L71.1,383.2 L71.3,382.2 L71.5,381.2 L71.7,380.2 L71.9,379.3 L72.1,378.3 L72.3,377.4 L72.5,376.4 L72.7,375.6 L72.9,374.8 L73.1,374.0 L73.3,373.4 L73.5,372.8 L73.8,372.2 L74.0,371.6 L74.2,371.1 L74.4,370.5 L74.6,370.0 L74.7,369.7 L74.8,369.4 L74.9,369.2 L75.0,368.9 L75.1,368.6 L75.1,387.9 L75.2,387.5 L75.3,387.1 L75.4,386.7 L75.4,386.7 L75.4,386.7 L75.5,386.3 L75.6,385.9 L75.8,385.0 L76.0,384.1 L76.2,383.2 L76.4,382.2 L76.7,381.3 L76.9,380.4 L77.1,379.4 L77.3,378.5 L77.5,377.6 L77.7,376.7 L77.9,375.8 L78.1,375.0 L78.3,374.3 L78.5,373.7 L78.7,373.0 L78.9,372.5 L79.1,372.0 L79.3,371.4 L79.6,370.9 L79.8,370.4 L80.0,369.8 L80.2,369.3 L80.4,368.8 L80.6,368.3 L80.8,367.8 L81.0,367.3 L81.2,366.8 L81.4,366.2 L81.6,365.7 L81.8,365.2 L82.0,364.7 L82.2,364.2 L82.5,363.7 L82.7,363.2 L82.9,362.7 L83.1,362.3 L83.3,361.8 L83.5,361.3 L83.7,360.8 L83.9,360.3 L84.1,359.8 L84.3,359.3 L84.5,358.9 L84.7,358.4 L84.9,357.9 L85.1,357.4 L85.4,356.9 L85.6,356.5 L85.8,356.0 L86.0,355.5 L86.2,355.1 L86.4,354.6 L86.6,354.1 L86.8,353.7 L87.0,353.2 L87.2,352.8 L87.4,352.3 L87.6,351.9 L87.8,351.4 L88.0,351.0 L88.3,350.5 L88.5,350.1 L88.7,349.6 L88.9,349.2 L89.1,348.8 L89.3,348.3 L89.5,347.8 L89.7,347.3 L89.9,346.8 L90.1,346.3 L90.3,345.9 L90.5,345.4 L90.7,344.9 L90.9,344.4 L91.2,344.0 L91.4,343.5 L91.6,343.0 L91.8,342.6 L92.0,342.1 L92.2,341.6 L92.4,341.2 L92.6,340.7 L92.8,340.3 L93.0,339.8 L93.2,339.4 L93.4,338.9 L93.6,338.5 L93.8,338.0 L94.1,337.6 L94.3,337.1 L94.5,336.6 L94.7,336.2 L94.9,335.7 L95.1,335.3 L95.3,334.8 L95.5,334.4 L95.7,333.9 L95.9,333.5 L96.1,333.0 L96.1,333.0 L96.1,333.0 L96.3,332.5 L96.5,332.1 L96.7,331.6 L97.0,331.1 L97.2,330.7 L97.4,330.2 L97.6,329.8 L97.8,329.3 L98.0,328.8 L98.2,328.4 L98.4,327.9 L98.6,327.5 L98.8,327.0 L99.0,326.5 L99.2,326.1 L99.4,325.6 L99.6,325.2 L99.9,324.7 L100.1,324.3 L100.3,323.9 L100.5,323.4 L100.7,323.0 L100.9,322.6 L101.1,322.2 L101.3,321.8 L101.5,321.4 L101.7,321.0 L101.9,320.6 L102.1,320.2 L102.3,319.8 L102.5,319.4 L102.8,319.0 L103.0,318.6 L103.2,318.2 L103.4,317.8 L103.6,317.4 L103.8,317.0 L104.0,316.6 L104.2,316.3 L104.4,315.9 L104.6,315.5 L104.8,315.2 L105.0,314.8 L105.2,314.5 L105.4,314.2 L105.7,313.8 L105.9,313.5 L106.1,313.2 L106.3,312.9 L106.5,312.6 L107.5,311.2 L108.6,309.8 L109.6,308.6 L110.6,307.5 L111.7,306.6 L112.7,305.7 L113.7,304.9 L114.8,304.2 L115.8,303.5 L116.4,303.2 L116.6,303.1 L116.8,303.0 L116.8,303.0 L116.8,303.0 L117.0,302.9 L117.3,302.8 L117.9,302.6 L118.9,302.2 L119.9,302.0 L121.0,301.8 L122.0,301.8 L123.1,301.9 L124.1,302.0 L125.1,302.3 L126.2,302.5 L127.2,302.8 L128.2,303.2 L129.3,303.5 L130.3,303.8 L131.3,304.1 L132.4,304.3 L133.4,304.6 L134.4,304.8 L135.5,305.1 L136.5,305.4 L137.1,305.7 L137.3,305.7 L137.6,305.8 L137.6,305.8 L137.6,305.8 L137.8,305.9 L138.0,305.9 L138.6,306.2 L139.6,306.6 L140.7,307.0 L141.7,307.4 L142.7,307.9 L143.8,308.4 L144.8,308.8 L145.8,309.3 L146.9,309.8 L147.9,310.3 L148.9,310.9 L150.0,311.5 L151.0,312.1 L152.1,312.8 L153.1,313.5 L154.1,314.2 L155.2,314.9 L156.2,315.3 L157.2,315.7 L157.9,316.0 L158.1,316.1 L158.3,316.1 L158.3,316.1 L158.3,319.4 L158.5,319.5 L158.7,319.7 L159.3,320.3 L160.3,321.4 L161.4,322.4 L162.4,323.5 L163.4,324.7 L164.5,325.9 L165.5,327.2 L166.6,328.6 L167.6,330.2 L168.6,331.9 L169.7,333.8 L170.7,335.7 L171.7,337.8 L172.8,339.9 L173.8,342.1 L174.8,344.3 L175.9,346.7 L176.9,349.0 L177.9,351.6 L178.6,353.1 L178.8,353.7 L179.0,354.2 L179.0,354.2 L179.0,354.2 L179.2,354.7 L179.4,355.2 L180.0,356.7 L181.1,359.1 L182.1,361.6 L183.1,364.0 L184.2,366.4 L185.2,368.8 L186.2,371.2 L187.3,373.6 L188.3,376.0 L189.3,378.3 L190.4,380.7 L191.4,383.1 L192.4,385.4 L193.5,387.8 L194.5,390.1 L195.6,392.4 L196.6,394.7 L197.6,397.0 L198.7,399.3 L199.3,400.7 L199.5,401.1 L199.7,401.6 L199.7,401.6 L199.7,393.2 L199.9,393.7 L200.1,394.1 L200.7,395.4 L201.8,397.6 L202.8,399.8 L203.8,402.0 L204.9,404.2 L205.9,406.4 L206.9,408.6 L208.0,410.8 L209.0,413.0 L210.1,415.1 L211.1,417.3 L212.1,419.4 L213.2,421.5 L214.2,423.6 L215.2,425.7 L216.3,427.8 L217.3,429.8 L218.3,431.8 L219.4,433.8 L220.0,435.0 L220.2,435.4 L220.4,435.8 L220.4,435.8 L220.4,435.8 L220.6,436.2 L220.8,436.5 L221.4,437.7 L222.5,439.7 L223.5,441.6 L224.5,443.5 L225.6,445.4 L226.6,447.3 L227.7,449.2 L228.7,451.0 L229.7,452.8 L230.8,454.6 L231.8,456.3 L232.8,458.0 L233.9,459.7 L234.9,461.2 L235.9,462.7 L237.0,464.2 L238.0,465.5 L239.0,466.8 L240.1,468.0 L240.7,468.6 L240.9,468.9 L241.1,469.1 L241.1,469.1 L241.1,473.8 L241.3,473.9 L241.5,474.1 L242.2,474.6 L243.2,475.4 L244.2,476.2 L245.3,476.9 L246.3,477.6 L247.3,478.2 L248.4,478.8 L249.4,479.4 L250.4,479.9 L251.5,480.3 L252.5,480.7 L253.5,481.1 L254.6,481.4 L255.6,481.6 L256.7,481.8 L257.7,482.0 L258.7,482.1 L259.8,482.2 L260.8,482.2 L261.4,482.1 L261.6,482.1 L261.8,482.1 L261.8,482.1 L261.8,482.1 L262.0,482.1 L262.2,482.0 L262.9,482.0 L263.9,481.7 L264.9,481.5 L266.0,481.1 L267.0,480.7 L268.0,480.2 L269.1,479.6 L270.1,479.0 L271.2,478.3 L272.2,477.6 L273.2,476.8 L274.3,475.9 L275.3,475.0 L276.3,474.1 L277.4,473.1 L278.4,472.0 L279.4,470.9 L280.5,469.8 L281.5,468.6 L282.1,467.9 L282.3,467.6 L282.5,467.4 L282.5,467.4 L282.5,466.6 L282.8,466.4 L283.0,466.2 L283.6,465.4 L284.6,464.2 L285.7,462.9 L286.7,461.6 L287.7,460.2 L288.8,458.8 L289.8,457.4 L290.8,455.9 L291.9,454.4 L292.9,452.9 L293.9,451.3 L295.0,449.7 L296.0,448.1 L297.0,446.4 L298.1,444.7 L299.1,443.0 L300.2,441.2 L301.2,439.4 L302.2,437.6 L302.8,436.5 L303.1,436.1 L303.3,435.8 L303.3,435.8 L303.3,435.8 L303.5,435.4 L303.7,435.0 L304.3,433.9 L305.3,432.0 L306.4,430.1 L307.4,428.1 L308.4,426.3 L309.5,424.5 L310.5,422.7 L311.5,420.9 L312.6,419.0 L313.6,417.2 L314.7,415.3 L315.7,413.4 L316.7,411.5 L317.8,409.6 L318.8,407.6 L319.8,405.7 L320.9,403.8 L321.9,401.8 L322.9,399.9 L323.6,398.7 L323.8,398.3 L324.0,397.9 L324.0,397.9 L324.0,385.8 L324.2,385.4 L324.4,384.9 L325.0,383.6 L326.0,381.3 L327.1,379.1 L328.1,376.9 L329.2,374.7 L330.2,372.5 L331.2,370.3 L332.3,368.1 L333.3,365.9 L334.3,363.8 L335.4,361.6 L336.4,359.5 L337.4,357.4 L338.5,355.4 L339.5,353.5 L340.5,351.6 L341.6,349.7 L342.6,347.8 L343.7,346.0 L344.3,344.9 L344.5,344.5 L344.7,344.2 L344.7,344.2 L344.7,344.2 L344.9,343.8 L345.1,343.4 L345.7,342.4 L346.8,340.6 L347.8,338.9 L348.8,337.2 L349.9,335.5 L350.9,333.8 L351.9,332.2 L353.0,330.6 L354.0,329.1 L355.0,327.6 L356.1,326.1 L357.1,324.6 L358.2,323.2 L359.2,321.9 L360.2,320.5 L361.3,319.2 L362.3,317.8 L363.3,316.5 L364.4,315.3 L365.0,314.6 L365.2,314.3 L365.4,314.1 L365.4,314.1 L365.4,311.2 L365.6,311.0 L365.8,310.8 L366.4,310.1 L367.5,309.1 L368.5,308.2 L369.5,307.3 L370.6,306.5 L371.6,305.7 L372.6,305.0 L373.7,304.3 L374.7,303.7 L375.8,303.1 L376.8,302.6 L377.8,302.2 L378.9,301.8 L379.9,301.4 L380.9,301.2 L382.0,301.0 L383.0,300.8 L384.0,300.7 L385.1,300.7 L385.7,300.7 L385.9,300.7 L386.1,300.7 L386.1,300.7 L386.1,300.7 L386.3,300.7 L386.5,300.7 L387.1,300.8 L388.2,300.9 L389.2,301.1 L390.3,301.3 L391.3,301.6 L392.3,302.0 L393.4,302.4 L394.4,302.8 L395.4,303.4 L396.5,303.9 L397.5,304.6 L398.5,305.2 L399.6,306.0 L400.6,306.8 L401.6,307.6 L402.7,308.5 L403.7,309.4 L404.8,310.4 L405.8,311.5 L406.4,312.1 L406.6,312.4 L406.8,312.6 L406.8,312.6 L406.8,308.3 L407.0,308.5 L407.2,308.6 L407.9,309.1 L408.9,309.9 L409.9,310.8 L411.0,311.7 L412.0,312.6 L413.0,313.6 L414.1,314.6 L415.1,315.6 L416.1,316.7 L417.2,317.8 L418.2,319.0 L419.3,320.1 L420.3,321.6 L421.3,323.1 L422.4,324.7 L423.4,326.3 L424.4,327.9 L425.5,329.6 L426.5,331.3 L427.1,332.4 L427.3,332.7 L427.5,333.1 L427.5,333.1 L427.5,333.1 L427.7,333.5 L428.0,333.8 L428.6,334.9 L429.6,336.8 L430.6,338.6 L431.7,340.6 L432.7,342.5 L433.8,344.5 L434.8,346.5 L435.8,348.5 L436.9,350.6 L437.9,352.4 L438.9,354.2 L440.0,356.1 L441.0,357.9 L442.0,359.8 L443.1,361.7 L444.1,363.6 L445.1,365.5 L446.2,367.4 L447.2,369.4 L447.8,370.5 L448.0,370.9 L448.3,371.3 L448.3,371.3 L448.3,385.1 L448.5,385.5 L448.7,385.9 L449.3,387.2 L450.3,389.4 L451.4,391.5 L452.4,393.7 L453.4,395.8 L454.5,398.0 L455.5,400.1 L456.5,402.2 L457.6,404.4 L458.6,406.5 L459.6,408.6 L460.7,410.7 L461.7,412.8 L462.8,414.9 L463.8,416.9 L464.8,419.0 L465.9,421.0 L466.9,423.0 L467.9,425.0 L468.6,426.3 L468.8,426.7 L469.0,427.1 L469.0,427.1 L469.0,427.1 L469.2,427.5 L469.4,427.9 L470.0,429.2 L471.0,431.2 L472.1,433.2 L473.1,435.2 L474.1,437.1 L475.2,439.0 L476.2,440.9 L477.3,442.8 L478.3,444.6 L479.3,446.4 L480.4,448.2 L481.4,449.9 L482.4,451.6 L483.5,453.2 L484.5,454.8 L485.5,456.4 L486.6,457.9 L487.6,459.4 L488.6,460.8 L489.3,461.6 L489.5,461.9 L489.7,462.2 L489.7,462.2 L489.7,457.6 L489.9,457.9 L490.1,458.2 L490.7,459.0 L491.8,460.4 L492.8,461.7 L493.8,463.0 L494.9,464.2 L495.9,465.4 L496.9,466.6 L498.0,467.7 L499.0,468.8 L500.0,469.8 L501.1,470.8 L502.1,471.7 L503.1,472.6 L504.2,473.4 L505.2,474.2 L506.3,475.0 L507.3,475.7 L508.3,476.3 L509.4,476.9 L510.0,477.3 L510.2,477.4 L510.4,477.5 L510.4,477.5 L510.4,477.5 L510.6,477.6 L510.8,477.7 L511.4,478.0 L512.5,478.4 L513.5,478.8 L514.5,479.2 L515.6,479.5 L516.6,479.7 L517.6,479.9 L518.7,480.1 L519.7,480.2 L520.8,480.2 L521.8,480.2 L522.8,480.2 L523.9,480.1 L524.9,480.0 L525.9,479.8 L527.0,479.6 L528.0,479.4 L529.0,479.1 L530.1,478.7 L530.7,478.5 L530.9,478.4 L531.1,478.4 L531.1,478.4 L531.1,477.4 L531.3,477.2 L531.5,477.1 L532.1,476.8 L533.2,476.2 L534.2,475.6 L535.2,474.9 L536.3,474.2 L537.3,473.5 L538.4,472.7 L539.4,471.8 L540.4,470.9 L541.5,470.0 L542.5,469.0 L543.5,468.0 L544.6,467.0 L545.6,465.9 L546.6,464.8 L547.7,463.6 L548.7,462.4 L549.7,461.1 L550.8,459.8 L551.4,459.0 L551.6,458.7 L551.8,458.4 L551.8,458.4 L551.8,458.4 L552.0,458.2 L552.2,457.9 L552.9,457.1 L553.9,455.6 L554.9,454.2 L556.0,452.7 L557.0,451.2 L558.0,449.6 L559.1,448.0 L560.1,446.4 L561.1,444.8 L562.2,443.1 L563.2,441.4 L564.2,439.7 L565.3,437.9 L566.3,436.1 L567.4,434.3 L568.4,432.5 L569.4,430.6 L570.5,428.8 L571.5,427.2 L572.1,426.5 L572.3,426.2 L572.5,425.9 L572.5,425.9 L572.5,425.1 L572.7,424.7 L572.9,424.3 L573.6,423.2 L574.6,421.2 L575.6,419.2 L576.7,417.2 L577.7,415.2 L578.7,413.1 L579.8,411.1 L580.8,409.0 L581.9,407.0 L582.9,404.9 L583.9,402.8 L585.0,400.7 L586.0,398.6 L587.0,396.5 L588.1,394.4 L589.1,392.3 L590.1,390.1 L591.2,387.9 L592.2,385.7 L592.8,384.4 L593.0,384.0 L593.2,383.5 L593.2,383.5 L593.2,383.5 L593.5,383.1 L593.7,382.7 L594.3,381.3 L595.3,379.1 L596.4,377.0 L597.4,374.8 L598.4,372.6 L599.5,370.5 L600.5,368.3 L601.5,366.2 L602.6,363.9 L603.6,361.6 L604.6,359.3 L605.7,357.1 L606.7,354.8 L607.7,352.6 L608.8,350.4 L609.8,348.3 L610.9,346.2 L611.9,344.1 L612.9,342.1 L613.5,340.8 L613.8,340.4 L614.0,340.0 L614.0,340.0 L614.0,340.0 L614.2,339.6 L614.4,339.2 L615.0,338.1 L616.0,336.1 L617.1,334.2 L618.1,332.4 L619.1,330.5 L620.2,328.8 L621.2,327.0 L622.2,325.3 L623.3,323.7 L624.3,322.1 L625.4,320.6 L626.4,319.1 L627.4,317.6 L628.5,316.3 L629.5,314.9 L630.5,313.7 L631.6,312.4 L632.6,311.3 L633.6,310.2 L634.3,309.5 L634.5,309.3 L634.7,309.1 L634.7,309.1 L634.7,309.1 L634.9,308.9 L635.1,308.7 L635.7,308.1 L636.7,307.2 L637.8,306.4 L638.8,305.6 L639.9,304.8 L640.9,304.2 L641.9,303.5 L643.0,303.0 L644.0,302.5 L645.0,302.0 L646.1,301.7 L647.1,301.3 L648.1,301.1 L649.2,300.9 L650.2,300.8 L651.2,300.7 L652.3,300.7 L653.3,300.7 L654.4,300.8 L655.0,300.9 L655.2,300.9 L655.4,301.0 L655.4,301.0 L655.4,301.0 L655.6,301.0 L655.8,301.1 L656.4,301.2 L657.5,301.5 L658.5,301.9 L659.5,302.3 L660.6,302.7 L661.6,303.3 L662.6,303.9 L663.7,304.5 L664.7,305.2 L665.7,306.0 L666.8,306.8 L667.8,307.7 L668.9,308.6 L669.9,309.6 L670.9,310.7 L672.0,311.8 L673.0,313.0 L674.0,314.2 L675.1,315.4 L676.1,316.7" stroke="#000000" stroke-width="2.8" stroke-linejoin="miter" stroke-miterlimit="2"/>
<path d="M54.7,390.4 L54.9,390.8 L55.1,391.2 L55.3,391.5 L55.5,391.8 L55.7,392.0 L55.9,392.2 L56.1,392.4 L56.4,392.6 L56.6,392.8 L56.8,392.9 L57.0,393.1 L57.2,393.1 L57.4,393.2 L57.6,393.1 L57.8,393.0 L58.0,392.9 L58.2,392.8 L58.4,392.6 L58.6,392.5 L58.8,392.2 L59.0,392.0 L59.3,391.7 L59.5,391.5 L59.7,391.2 L59.9,391.0 L60.1,390.7 L60.3,390.5 L60.5,390.2 L60.7,389.8 L60.9,388.6 L61.1,387.9 L61.3,387.1 L61.5,386.2 L61.7,385.3 L61.9,384.4 L62.2,383.4 L62.4,382.4 L62.6,381.4 L62.8,380.4 L63.0,379.4 L63.2,378.4 L63.4,377.5 L63.6,376.6 L63.8,375.7 L64.0,374.8 L64.2,374.1 L64.4,373.4 L64.6,372.8 L64.8,372.2 L65.1,371.7 L65.3,371.1 L65.5,370.6 L65.7,370.0 L65.9,369.5 L66.1,368.9 L66.3,368.4 L66.5,367.8 L66.7,367.3 L66.9,366.7 L67.1,366.2 L67.3,365.7 L67.5,365.1 L67.7,364.6 L68.0,364.1 L68.2,363.6 L68.4,363.0 L68.6,362.5 L68.8,362.0 L69.0,361.5 L69.2,361.0 L69.4,360.5 L69.6,359.9 L69.8,359.4 L70.0,358.9 L70.2,358.4 L70.4,357.9 L70.6,357.4 L70.9,356.9 L71.1,356.4 L71.3,355.9 L71.5,355.4 L71.7,354.9 L71.9,354.4 L72.1,354.0 L72.3,353.5 L72.5,353.0 L72.7,352.5 L72.9,352.0 L73.1,351.6 L73.3,351.1 L73.5,350.6 L73.8,350.2 L74.0,349.7 L74.2,349.2 L74.4,348.8 L74.6,348.3 L74.7,348.1 L74.8,347.8 L74.9,347.6 L75.0,347.4 L75.1,347.2 L75.1,347.2 L75.2,346.9 L75.3,346.7 L75.4,346.5 L75.4,346.5 L75.4,346.5 L75.5,346.3 L75.6,346.1 L75.8,345.6 L76.0,345.2 L76.2,344.7 L76.4,344.3 L76.7,343.9 L76.9,343.4 L77.1,343.0 L77.3,342.6 L77.5,342.1 L77.7,341.7 L77.9,341.3 L78.1,340.9 L78.3,340.4 L78.5,340.0 L78.7,339.6 L78.9,339.2 L79.1,338.7 L79.3,338.3 L79.6,337.9 L79.8,337.5 L80.0,337.1 L80.2,336.7 L80.4,336.3 L80.6,335.9 L80.8,335.5 L81.0,335.1 L81.2,334.7 L81.4,334.3 L81.6,333.9 L81.8,333.5 L82.0,333.1 L82.2,332.7 L82.5,332.3 L82.7,331.9 L82.9,331.6 L83.1,331.2 L83.3,330.8 L83.5,330.4 L83.7,330.0 L83.9,329.6 L84.1,329.3 L84.3,328.9 L84.5,328.5 L84.7,328.2 L84.9,327.8 L85.1,327.4 L85.4,327.1 L85.6,326.7 L85.8,326.4 L86.0,326.0 L86.2,325.7 L86.4,325.3 L86.6,325.0 L86.8,324.7 L87.0,324.4 L87.2,324.0 L87.4,323.7 L87.6,323.4 L87.8,323.1 L88.0,322.8 L88.3,322.5 L88.5,322.2 L88.7,322.0 L88.9,321.7 L89.1,321.4 L89.3,321.1 L89.5,320.9 L89.7,320.6 L89.9,320.3 L90.1,320.0 L90.3,319.7 L90.5,319.4 L90.7,319.1 L90.9,318.8 L91.2,318.6 L91.4,318.3 L91.6,318.0 L91.8,317.7 L92.0,317.4 L92.2,317.2 L92.4,316.9 L92.6,316.6 L92.8,316.3 L93.0,316.1 L93.2,315.8 L93.4,315.6 L93.6,315.3 L93.8,315.1 L94.1,314.8 L94.3,314.6 L94.5,314.3 L94.7,314.1 L94.9,313.8 L95.1,313.6 L95.3,313.4 L95.5,313.1 L95.7,312.9 L95.9,312.7 L96.1,312.4 L96.1,312.4 L96.1,312.4 L96.3,312.2 L96.5,312.0 L96.7,311.8 L97.0,311.6 L97.2,311.3 L97.4,311.1 L97.6,310.9 L97.8,310.7 L98.0,310.5 L98.2,310.3 L98.4,310.1 L98.6,309.9 L98.8,309.7 L99.0,309.5 L99.2,309.3 L99.4,309.2 L99.6,309.0 L99.9,308.8 L100.1,308.6 L100.3,308.4 L100.5,308.3 L100.7,308.1 L100.9,307.9 L101.1,307.7 L101.3,307.6 L101.5,307.4 L101.7,307.3 L101.9,307.1 L102.1,306.9 L102.3,306.8 L102.5,306.6 L102.8,306.5 L103.0,306.3 L103.2,306.2 L103.4,306.0 L103.6,305.9 L103.8,305.8 L104.0,305.6 L104.2,305.5 L104.4,305.4 L104.6,305.2 L104.8,305.1 L105.0,305.0 L105.2,304.8 L105.4,304.7 L105.7,304.6 L105.9,304.5 L106.1,304.4 L106.3,304.2 L106.5,304.1 L107.5,303.6 L108.6,303.1 L109.6,302.7 L110.6,302.4 L111.7,302.1 L112.7,301.9 L113.7,301.7 L114.8,301.6 L115.8,301.6 L116.4,301.6 L116.6,301.6 L116.8,301.6 L116.8,301.6 L116.8,301.6 L117.0,301.7 L117.3,301.7 L117.9,301.7 L118.9,301.8 L119.9,302.0 L121.0,302.1 L122.0,302.3 L123.1,302.5 L124.1,302.7 L125.1,303.0 L126.2,303.3 L127.2,303.6 L128.2,304.0 L129.3,304.5 L130.3,304.9 L131.3,305.4 L132.4,306.0 L133.4,306.6 L134.4,307.2 L135.5,307.9 L136.5,308.6 L137.1,309.0 L137.3,309.2 L137.6,309.3 L137.6,309.3 L137.6,309.3 L137.8,309.5 L138.0,309.6 L138.6,310.1 L139.6,311.0 L140.7,311.8 L141.7,312.8 L142.7,313.8 L143.8,314.8 L144.8,315.9 L145.8,317.0 L146.9,318.2 L147.9,319.4 L148.9,320.7 L150.0,322.0 L151.0,323.4 L152.1,324.8 L153.1,326.3 L154.1,327.9 L155.2,329.5 L156.2,331.2 L157.2,333.0 L157.9,334.0 L158.1,334.4 L158.3,334.8 L158.3,334.8 L158.3,334.8 L158.5,335.2 L158.7,335.5 L159.3,336.7 L160.3,338.6 L161.4,340.7 L162.4,342.8 L163.4,344.9 L164.5,347.1 L165.5,349.3 L166.6,351.5 L167.6,353.7 L168.6,355.9 L169.7,358.1 L170.7,360.3 L171.7,362.5 L172.8,364.7 L173.8,366.9 L174.8,369.1 L175.9,371.4 L176.9,373.6 L177.9,375.8 L178.6,377.1 L178.8,377.6 L179.0,378.0 L179.0,378.0 L179.0,378.0 L179.2,378.5 L179.4,378.9 L180.0,380.2 L181.1,382.5 L182.1,384.7 L183.1,386.9 L184.2,389.1 L185.2,391.3 L186.2,393.6 L187.3,395.8 L188.3,398.0 L189.3,400.2 L190.4,402.4 L191.4,404.6 L192.4,406.8 L193.5,409.0 L194.5,411.2 L195.6,413.4 L196.6,415.6 L197.6,417.7 L198.7,419.8 L199.3,421.1 L199.5,421.5 L199.7,421.9 L199.7,421.9 L199.7,422.0 L199.9,422.4 L200.1,422.8 L200.7,424.0 L201.8,426.1 L202.8,428.2 L203.8,430.2 L204.9,432.2 L205.9,434.2 L206.9,436.1 L208.0,438.1 L209.0,440.0 L210.1,441.9 L211.1,443.7 L212.1,445.6 L213.2,447.4 L214.2,449.2 L215.2,451.0 L216.3,452.7 L217.3,454.4 L218.3,456.0 L219.4,457.6 L220.0,458.6 L220.2,458.9 L220.4,459.2 L220.4,459.2 L220.4,459.2 L220.6,459.5 L220.8,459.8 L221.4,460.7 L222.5,462.1 L223.5,463.5 L224.5,464.9 L225.6,466.2 L226.6,467.4 L227.7,468.6 L228.7,469.7 L229.7,470.8 L230.8,471.8 L231.8,472.8 L232.8,473.7 L233.9,474.6 L234.9,475.4 L235.9,476.2 L237.0,476.9 L238.0,477.5 L239.0,478.2 L240.1,478.7 L240.7,479.0 L240.9,479.1 L241.1,479.2 L241.1,479.2 L241.1,479.2 L241.3,479.3 L241.5,479.4 L242.2,479.7 L243.2,480.0 L244.2,480.4 L245.3,480.7 L246.3,480.9 L247.3,481.0 L248.4,481.2 L249.4,481.2 L250.4,481.2 L251.5,481.1 L252.5,481.0 L253.5,480.8 L254.6,480.5 L255.6,480.2 L256.7,479.8 L257.7,479.4 L258.7,478.9 L259.8,478.4 L260.8,477.7 L261.4,477.4 L261.6,477.2 L261.8,477.1 L261.8,477.1 L261.8,477.1 L262.0,476.9 L262.2,476.8 L262.9,476.4 L263.9,475.6 L264.9,474.8 L266.0,473.9 L267.0,473.0 L268.0,472.0 L269.1,471.0 L270.1,470.0 L271.2,468.9 L272.2,467.7 L273.2,466.5 L274.3,465.3 L275.3,464.0 L276.3,462.7 L277.4,461.3 L278.4,459.9 L279.4,458.4 L280.5,456.9 L281.5,455.4 L282.1,454.4 L282.3,454.1 L282.5,453.8 L282.5,453.8 L282.5,453.8 L282.8,453.5 L283.0,453.2 L283.6,452.2 L284.6,450.5 L285.7,448.9 L286.7,447.1 L287.7,445.4 L288.8,443.6 L289.8,441.8 L290.8,439.9 L291.9,438.0 L292.9,436.1 L293.9,434.1 L295.0,432.2 L296.0,430.2 L297.0,428.1 L298.1,426.1 L299.1,424.0 L300.2,421.9 L301.2,419.8 L302.2,417.7 L302.8,416.4 L303.1,416.0 L303.3,415.5 L303.3,415.5 L303.3,415.5 L303.5,415.1 L303.7,414.7 L304.3,413.4 L305.3,411.2 L306.4,409.0 L307.4,406.8 L308.4,404.6 L309.5,402.4 L310.5,400.1 L311.5,397.9 L312.6,395.7 L313.6,393.4 L314.7,391.2 L315.7,388.9 L316.7,386.7 L317.8,384.5 L318.8,382.2 L319.8,380.0 L320.9,377.8 L321.9,375.5 L322.9,373.3 L323.6,372.0 L323.8,371.6 L324.0,371.1 L324.0,371.1 L324.0,371.1 L324.2,370.7 L324.4,370.3 L325.0,368.9 L326.0,366.8 L327.1,364.6 L328.1,362.5 L329.2,360.4 L330.2,358.2 L331.2,356.2 L332.3,354.1 L333.3,352.1 L334.3,350.0 L335.4,348.0 L336.4,346.1 L337.4,344.1 L338.5,342.2 L339.5,340.4 L340.5,338.5 L341.6,336.7 L342.6,334.9 L343.7,333.2 L344.3,332.1 L344.5,331.8 L344.7,331.5 L344.7,331.5 L344.7,331.5 L344.9,331.1 L345.1,330.8 L345.7,329.8 L346.8,328.1 L347.8,326.6 L348.8,325.0 L349.9,323.5 L350.9,322.0 L351.9,320.6 L353.0,319.2 L354.0,317.8 L355.0,316.5 L356.1,315.3 L357.1,314.1 L358.2,312.9 L359.2,311.8 L360.2,310.8 L361.3,309.8 L362.3,308.8 L363.3,307.9 L364.4,307.0 L365.0,306.5 L365.2,306.4 L365.4,306.2 L365.4,306.2 L365.4,306.2 L365.6,306.1 L365.8,305.9 L366.4,305.5 L367.5,304.8 L368.5,304.1 L369.5,303.5 L370.6,303.0 L371.6,302.5 L372.6,302.1 L373.7,301.7 L374.7,301.4 L375.8,301.1 L376.8,300.9 L377.8,300.8 L378.9,300.7 L379.9,300.7 L380.9,300.7 L382.0,300.8 L383.0,300.9 L384.0,301.1 L385.1,301.3 L385.7,301.5 L385.9,301.5 L386.1,301.6 L386.1,301.6 L386.1,301.6 L386.3,301.7 L386.5,301.7 L387.1,302.0 L388.2,302.4 L389.2,302.8 L390.3,303.4 L391.3,303.9 L392.3,304.6 L393.4,305.2 L394.4,306.0 L395.4,306.8 L396.5,307.6 L397.5,308.5 L398.5,309.4 L399.6,310.4 L400.6,311.5 L401.6,312.6 L402.7,313.7 L403.7,314.9 L404.8,316.1 L405.8,317.4 L406.4,318.2 L406.6,318.5 L406.8,318.7 L406.8,318.8 L406.8,318.8 L407.0,319.0 L407.2,319.3 L407.9,320.1 L408.9,321.5 L409.9,323.0 L411.0,324.5 L412.0,326.1 L413.0,327.6 L414.1,329.3 L415.1,330.9 L416.1,332.6 L417.2,334.4 L418.2,336.1 L419.3,337.9 L420.3,339.8 L421.3,341.6 L422.4,343.5 L423.4,345.5 L424.4,347.4 L425.5,349.4 L426.5,351.4 L427.1,352.6 L427.3,353.0 L427.5,353.4 L427.5,353.4 L427.5,353.4 L427.7,353.9 L428.0,354.3 L428.6,355.5 L429.6,357.6 L430.6,359.7 L431.7,361.8 L432.7,363.9 L433.8,366.1 L434.8,368.3 L435.8,370.4 L436.9,372.6 L437.9,374.8 L438.9,377.1 L440.0,379.3 L441.0,381.5 L442.0,383.7 L443.1,386.0 L444.1,388.2 L445.1,390.5 L446.2,392.7 L447.2,395.0 L447.8,396.3 L448.0,396.8 L448.3,397.2 L448.3,397.2 L448.3,397.2 L448.5,397.6 L448.7,398.1 L449.3,399.4 L450.3,401.7 L451.4,403.9 L452.4,406.1 L453.4,408.3 L454.5,410.5 L455.5,412.7 L456.5,414.9 L457.6,417.0 L458.6,419.1 L459.6,421.3 L460.7,423.4 L461.7,425.4 L462.8,427.5 L463.8,429.5 L464.8,431.5 L465.9,433.5 L466.9,435.5 L467.9,437.4 L468.6,438.5 L468.8,438.9 L469.0,439.3 L469.0,439.3 L469.0,439.3 L469.2,439.7 L469.4,440.0 L470.0,441.2 L471.0,443.0 L472.1,444.8 L473.1,446.6 L474.1,448.3 L475.2,450.0 L476.2,451.7 L477.3,453.3 L478.3,454.9 L479.3,456.4 L480.4,457.9 L481.4,459.4 L482.4,460.8 L483.5,462.2 L484.5,463.5 L485.5,464.8 L486.6,466.0 L487.6,467.2 L488.6,468.3 L489.3,469.0 L489.5,469.2 L489.7,469.4 L489.7,469.4 L489.7,469.4 L489.9,469.7 L490.1,469.9 L490.7,470.5 L491.8,471.5 L492.8,472.4 L493.8,473.3 L494.9,474.1 L495.9,474.9 L496.9,475.7 L498.0,476.3 L499.0,477.0 L500.0,477.5 L501.1,478.1 L502.1,478.5 L503.1,478.9 L504.2,479.3 L505.2,479.6 L506.3,479.8 L507.3,480.0 L508.3,480.1 L509.4,480.2 L510.0,480.2 L510.2,480.2 L510.4,480.2 L510.4,480.2 L510.4,480.2 L510.6,480.2 L510.8,480.2 L511.4,480.2 L512.5,480.1 L513.5,480.0 L514.5,479.8 L515.6,479.5 L516.6,479.2 L517.6,478.8 L518.7,478.4 L519.7,477.9 L520.8,477.4 L521.8,476.8 L522.8,476.1 L523.9,475.4 L524.9,474.7 L525.9,473.9 L527.0,473.0 L528.0,472.1 L529.0,471.1 L530.1,470.1 L530.7,469.5 L530.9,469.3 L531.1,469.1 L531.1,469.1 L531.1,469.1 L531.3,468.8 L531.5,468.6 L532.1,467.9 L533.2,466.8 L534.2,465.6 L535.2,464.3 L536.3,463.0 L537.3,461.7 L538.4,460.3 L539.4,458.9 L540.4,457.4 L541.5,455.9 L542.5,454.3 L543.5,452.7 L544.6,451.1 L545.6,449.4 L546.6,447.7 L547.7,446.0 L548.7,444.2 L549.7,442.4 L550.8,440.5 L551.4,439.4 L551.6,439.0 L551.8,438.6 L551.8,438.6 L551.8,438.6 L552.0,438.3 L552.2,437.9 L552.9,436.7 L553.9,434.8 L554.9,432.8 L556.0,430.8 L557.0,428.8 L558.0,426.8 L559.1,424.7 L560.1,422.6 L561.1,420.5 L562.2,418.4 L563.2,416.2 L564.2,414.1 L565.3,411.9 L566.3,409.7 L567.4,407.5 L568.4,405.3 L569.4,403.1 L570.5,400.9 L571.5,398.6 L572.1,397.3 L572.3,396.9 L572.5,396.4 L572.5,396.4 L572.5,396.4 L572.7,396.0 L572.9,395.5 L573.6,394.2 L574.6,391.9 L575.6,389.7 L576.7,387.4 L577.7,385.2 L578.7,382.9 L579.8,380.7 L580.8,378.5 L581.9,376.3 L582.9,374.1 L583.9,371.9 L585.0,369.7 L586.0,367.5 L587.0,365.3 L588.1,363.2 L589.1,361.0 L590.1,358.9 L591.2,356.8 L592.2,354.8 L592.8,353.5 L593.0,353.1 L593.2,352.7 L593.2,352.7 L593.2,352.7 L593.5,352.3 L593.7,351.9 L594.3,350.7 L595.3,348.7 L596.4,346.7 L597.4,344.8 L598.4,342.9 L599.5,341.0 L600.5,339.1 L601.5,337.3 L602.6,335.5 L603.6,333.7 L604.6,332.0 L605.7,330.3 L606.7,328.7 L607.7,327.1 L608.8,325.5 L609.8,324.0 L610.9,322.5 L611.9,321.0 L612.9,319.6 L613.5,318.8 L613.8,318.5 L614.0,318.3 L614.0,318.3 L614.0,318.3 L614.2,318.0 L614.4,317.7 L615.0,317.0 L616.0,315.7 L617.1,314.5 L618.1,313.3 L619.1,312.2 L620.2,311.1 L621.2,310.1 L622.2,309.1 L623.3,308.2 L624.3,307.3 L625.4,306.5 L626.4,305.7 L627.4,305.0 L628.5,304.3 L629.5,303.7 L630.5,303.2 L631.6,302.7 L632.6,302.2 L633.6,301.8 L634.3,301.6 L634.5,301.6 L634.7,301.5 L634.7,301.5 L634.7,301.5 L634.9,301.4 L635.1,301.4 L635.7,301.2 L636.7,301.0 L637.8,300.8 L638.8,300.7 L639.9,300.7 L640.9,300.7 L641.9,300.7 L643.0,300.8 L644.0,301.0 L645.0,301.2 L646.1,301.5 L647.1,301.8 L648.1,302.2 L649.2,302.7 L650.2,303.2 L651.2,303.7 L652.3,304.4 L653.3,305.0 L654.4,305.7 L655.0,306.2 L655.2,306.3 L655.4,306.5 L655.4,306.5 L655.4,306.5 L655.6,306.7 L655.8,306.8 L656.4,307.3 L657.5,308.2 L658.5,309.1 L659.5,310.1 L660.6,311.1 L661.6,312.2 L662.6,313.3 L663.7,314.5 L664.7,315.7 L665.7,317.0 L666.8,318.3 L667.8,319.7 L668.9,321.1 L669.9,322.5 L670.9,324.0 L672.0,325.5 L673.0,327.1 L674.0,328.7 L675.1,330.4 L676.1,332.1" stroke="#ff0000" stroke-width="2.8" stroke-dasharray="10.8 9.9"/>
</g>
<path d="M158.27,498.20 v-6.40 M158.27,282.70 v6.40 M261.83,498.20 v-6.40 M261.83,282.70 v6.40 M365.40,498.20 v-6.40 M365.40,282.70 v6.40 M468.97,498.20 v-6.40 M468.97,282.70 v6.40 M572.53,498.20 v-6.40 M572.53,282.70 v6.40 M54.70,318.62 h6.40 M676.10,318.62 h-6.40 M54.70,354.53 h6.40 M676.10,354.53 h-6.40 M54.70,390.45 h6.40 M676.10,390.45 h-6.40 M54.70,426.37 h6.40 M676.10,426.37 h-6.40 M54.70,462.28 h6.40 M676.10,462.28 h-6.40" fill="none" stroke="#333333" stroke-width="1.00"/>
<rect x="54.70" y="282.70" width="621.40" height="215.50" fill="none" stroke="#333333" stroke-width="1.00"/>
<text class="tk" transform="translate(54.50,517.90) scale(0.955,1)" text-anchor="middle">0</text>
<text class="tk" transform="translate(158.07,517.90) scale(0.955,1)" text-anchor="middle">5</text>
<text class="tk" transform="translate(261.63,517.90) scale(0.955,1)" text-anchor="middle">10</text>
<text class="tk" transform="translate(365.20,517.90) scale(0.955,1)" text-anchor="middle">15</text>
<text class="tk" transform="translate(468.77,517.90) scale(0.955,1)" text-anchor="middle">20</text>
<text class="tk" transform="translate(572.33,517.90) scale(0.955,1)" text-anchor="middle">25</text>
<text class="tk" transform="translate(675.90,517.90) scale(0.955,1)" text-anchor="middle">30</text>
<text class="tk" transform="translate(50.30,324.72) scale(0.955,1)" text-anchor="end">0.4</text>
<text class="tk" transform="translate(50.30,360.63) scale(0.955,1)" text-anchor="end">0.2</text>
<text class="tk" transform="translate(50.30,396.55) scale(0.955,1)" text-anchor="end">0</text>
<text class="tk" transform="translate(50.30,432.47) scale(0.955,1)" text-anchor="end">-0.2</text>
<text class="tk" transform="translate(50.30,468.38) scale(0.955,1)" text-anchor="end">-0.4</text>
<text class="tk" transform="translate(50.30,504.30) scale(0.955,1)" text-anchor="end">-0.6</text>
<text class="lb" x="365.70" y="541.40" text-anchor="middle">Time(s)</text>
<text class="lb" transform="translate(16.70,390.85) rotate(-90)" text-anchor="middle">y(m)</text>
<rect x="521.10" y="295.40" width="140.90" height="71.10" fill="#ffffff" stroke="#5a5a5a" stroke-width="1.1"/>
<path d="M526.8,308.70 H581" stroke="#0000ff" stroke-width="2.8" fill="none"/>
<text class="lg" x="584.8" y="315.30">Real</text>
<path d="M526.8,330.80 H581" stroke="#000000" stroke-width="2.8" fill="none"/>
<text class="lg" x="584.8" y="337.20">measured</text>
<path d="M526.8,352.90 H581" stroke="#ff0000" stroke-width="2.8" fill="none" stroke-dasharray="10.8 9.9"/>
<text class="lg" x="584.8" y="359.10">Estimated</text>
</g>
<defs><clipPath id="c2"><rect x="54.70" y="576.50" width="621.40" height="216.10"/></clipPath></defs>
<g>
<path d="M158.27,792.60 V576.50 M261.83,792.60 V576.50 M365.40,792.60 V576.50 M468.97,792.60 V576.50 M572.53,792.60 V576.50 M54.70,596.15 H676.10 M54.70,635.44 H676.10 M54.70,674.73 H676.10 M54.70,714.02 H676.10 M54.70,753.31 H676.10" fill="none" stroke="#dedede" stroke-width="1" stroke-dasharray="3.3 3.55"/>
<g clip-path="url(#c2)" fill="none" stroke-linejoin="round">
<path d="M54.7,792.6 L54.9,792.3 L55.1,791.6 L55.3,790.5 L55.5,788.9 L55.7,787.0 L55.9,784.9 L56.1,782.4 L56.4,779.7 L56.6,776.8 L56.8,773.8 L57.0,770.6 L57.2,767.2 L57.4,763.8 L57.6,760.2 L57.8,756.6 L58.0,753.0 L58.2,749.3 L58.4,745.5 L58.6,741.8 L58.8,738.0 L59.0,734.3 L59.3,730.6 L59.5,726.9 L59.7,723.2 L59.9,719.6 L60.1,716.0 L60.3,712.4 L60.5,708.9 L60.7,705.5 L60.9,702.1 L61.1,698.8 L61.3,695.5 L61.5,692.4 L61.7,689.2 L61.9,686.2 L62.2,683.2 L62.4,680.3 L62.6,677.5 L62.8,674.7 L63.0,672.0 L63.2,669.4 L63.4,666.8 L63.6,664.3 L63.8,661.9 L64.0,659.6 L64.2,657.3 L64.4,655.1 L64.6,653.0 L64.8,650.9 L65.1,648.9 L65.3,646.9 L65.5,645.0 L65.7,643.2 L65.9,641.4 L66.1,639.7 L66.3,638.1 L66.5,636.5 L66.7,634.9 L66.9,633.4 L67.1,632.0 L67.3,630.6 L67.5,629.3 L67.7,628.0 L68.0,626.7 L68.2,625.5 L68.4,624.3 L68.6,623.2 L68.8,622.1 L69.0,621.1 L69.2,620.1 L69.4,619.1 L69.6,618.2 L69.8,617.3 L70.0,616.4 L70.2,615.6 L70.4,614.8 L70.6,614.0 L70.9,613.3 L71.1,612.6 L71.3,611.9 L71.5,611.2 L71.7,610.6 L71.9,610.0 L72.1,609.4 L72.3,608.9 L72.5,608.3 L72.7,607.8 L72.9,607.3 L73.1,606.8 L73.3,606.4 L73.5,605.9 L73.8,605.5 L74.0,605.1 L74.2,604.7 L74.4,604.3 L74.6,604.0 L74.7,603.8 L74.8,603.6 L74.9,603.5 L75.0,603.3 L75.1,603.1 L75.1,603.1 L75.2,603.0 L75.3,602.8 L75.4,602.7 L75.4,602.7 L75.4,602.7 L75.5,602.5 L75.6,602.4 L75.8,602.1 L76.0,601.8 L76.2,601.6 L76.4,601.3 L76.7,601.1 L76.9,600.9 L77.1,600.7 L77.3,600.5 L77.5,600.3 L77.7,600.1 L77.9,599.9 L78.1,599.7 L78.3,599.6 L78.5,599.4 L78.7,599.2 L78.9,599.1 L79.1,599.0 L79.3,598.8 L79.6,598.7 L79.8,598.6 L80.0,598.5 L80.2,598.3 L80.4,598.2 L80.6,598.1 L80.8,598.0 L81.0,598.0 L81.2,597.9 L81.4,597.8 L81.6,597.7 L81.8,597.6 L82.0,597.5 L82.2,597.5 L82.5,597.4 L82.7,597.3 L82.9,597.3 L83.1,597.2 L83.3,597.2 L83.5,597.1 L83.7,597.1 L83.9,597.0 L84.1,597.0 L84.3,596.9 L84.5,596.9 L84.7,596.9 L84.9,596.8 L85.1,596.8 L85.4,596.8 L85.6,596.7 L85.8,596.7 L86.0,596.7 L86.2,596.6 L86.4,596.6 L86.6,596.6 L86.8,596.6 L87.0,596.5 L87.2,596.5 L87.4,596.5 L87.6,596.5 L87.8,596.5 L88.0,596.5 L88.3,596.4 L88.5,596.4 L88.7,596.4 L88.9,596.4 L89.1,596.4 L89.3,596.4 L89.5,596.4 L89.7,596.4 L89.9,596.4 L90.1,596.3 L90.3,596.3 L90.5,596.3 L90.7,596.3 L90.9,596.3 L91.2,596.3 L91.4,596.3 L91.6,596.3 L91.8,596.3 L92.0,596.3 L92.2,596.3 L92.4,596.3 L92.6,596.3 L92.8,596.3 L93.0,596.3 L93.2,596.3 L93.4,596.3 L93.6,596.3 L93.8,596.3 L94.1,596.3 L94.3,596.3 L94.5,596.3 L94.7,596.3 L94.9,596.3 L95.1,596.3 L95.3,596.3 L95.5,596.3 L95.7,596.3 L95.9,596.3 L96.1,596.3 L96.1,596.3 L96.1,596.3 L96.3,596.3 L96.5,596.3 L96.7,596.3 L97.0,596.3 L97.2,596.3 L97.4,596.4 L97.6,596.4 L97.8,596.4 L98.0,596.4 L98.2,596.4 L98.4,596.4 L98.6,596.4 L98.8,596.4 L99.0,596.4 L99.2,596.4 L99.4,596.4 L99.6,596.4 L99.9,596.4 L100.1,596.4 L100.3,596.4 L100.5,596.4 L100.7,596.4 L100.9,596.4 L101.1,596.4 L101.3,596.5 L101.5,596.5 L101.7,596.5 L101.9,596.5 L102.1,596.5 L102.3,596.5 L102.5,596.5 L102.8,596.5 L103.0,596.5 L103.2,596.5 L103.4,596.5 L103.6,596.5 L103.8,596.5 L104.0,596.5 L104.2,596.5 L104.4,596.5 L104.6,596.5 L104.8,596.6 L105.0,596.6 L105.2,596.6 L105.4,596.6 L105.7,596.6 L105.9,596.6 L106.1,596.6 L106.3,596.6 L106.5,596.6 L107.5,596.6 L108.6,596.7 L109.6,596.7 L110.6,596.7 L111.7,596.7 L112.7,596.8 L113.7,596.8 L114.8,596.8 L115.8,596.8 L116.4,596.8 L116.6,596.8 L116.8,596.8 L116.8,596.8 L116.8,596.8 L117.0,596.8 L117.3,596.8 L117.9,596.9 L118.9,596.9 L119.9,596.9 L121.0,596.9 L122.0,596.9 L123.1,596.9 L124.1,596.9 L125.1,596.9 L126.2,596.9 L127.2,596.9 L128.2,596.9 L129.3,596.9 L130.3,596.9 L131.3,596.9 L132.4,596.9 L133.4,596.9 L134.4,596.8 L135.5,596.8 L136.5,596.8 L137.1,596.8 L137.3,596.8 L137.6,596.8 L137.6,596.8 L137.6,596.8 L137.8,596.8 L138.0,596.8 L138.6,596.8 L139.6,596.7 L140.7,596.7 L141.7,596.7 L142.7,596.7 L143.8,596.6 L144.8,596.6 L145.8,596.6 L146.9,596.5 L147.9,596.5 L148.9,596.5 L150.0,596.4 L151.0,596.4 L152.1,596.4 L153.1,596.3 L154.1,596.3 L155.2,596.2 L156.2,596.2 L157.2,596.2 L157.9,596.1 L158.1,596.1 L158.3,596.1 L158.3,596.1 L158.3,596.1 L158.5,596.1 L158.7,596.1 L159.3,596.1 L160.3,596.0 L161.4,596.0 L162.4,596.0 L163.4,595.9 L164.5,595.9 L165.5,595.9 L166.6,595.8 L167.6,595.8 L168.6,595.7 L169.7,595.7 L170.7,595.7 L171.7,595.7 L172.8,595.6 L173.8,595.6 L174.8,595.6 L175.9,595.5 L176.9,595.5 L177.9,595.5 L178.6,595.5 L178.8,595.5 L179.0,595.5 L179.0,595.5 L179.0,595.5 L179.2,595.5 L179.4,595.5 L180.0,595.5 L181.1,595.4 L182.1,595.4 L183.1,595.4 L184.2,595.4 L185.2,595.4 L186.2,595.4 L187.3,595.4 L188.3,595.4 L189.3,595.4 L190.4,595.4 L191.4,595.4 L192.4,595.4 L193.5,595.4 L194.5,595.4 L195.6,595.4 L196.6,595.4 L197.6,595.4 L198.7,595.4 L199.3,595.4 L199.5,595.4 L199.7,595.4 L199.7,595.4 L199.7,595.4 L199.9,595.4 L200.1,595.4 L200.7,595.5 L201.8,595.5 L202.8,595.5 L203.8,595.5 L204.9,595.5 L205.9,595.6 L206.9,595.6 L208.0,595.6 L209.0,595.7 L210.1,595.7 L211.1,595.7 L212.1,595.8 L213.2,595.8 L214.2,595.8 L215.2,595.9 L216.3,595.9 L217.3,595.9 L218.3,596.0 L219.4,596.0 L220.0,596.0 L220.2,596.0 L220.4,596.1 L220.4,596.1 L220.4,596.1 L220.6,596.1 L220.8,596.1 L221.4,596.1 L222.5,596.1 L223.5,596.2 L224.5,596.2 L225.6,596.3 L226.6,596.3 L227.7,596.3 L228.7,596.4 L229.7,596.4 L230.8,596.4 L231.8,596.5 L232.8,596.5 L233.9,596.5 L234.9,596.6 L235.9,596.6 L237.0,596.6 L238.0,596.7 L239.0,596.7 L240.1,596.7 L240.7,596.7 L240.9,596.7 L241.1,596.8 L241.1,596.8 L241.1,596.8 L241.3,596.8 L241.5,596.8 L242.2,596.8 L243.2,596.8 L244.2,596.8 L245.3,596.8 L246.3,596.9 L247.3,596.9 L248.4,596.9 L249.4,596.9 L250.4,596.9 L251.5,596.9 L252.5,596.9 L253.5,596.9 L254.6,596.9 L255.6,596.9 L256.7,596.9 L257.7,596.9 L258.7,596.9 L259.8,596.9 L260.8,596.9 L261.4,596.9 L261.6,596.9 L261.8,596.9 L261.8,596.9 L261.8,596.9 L262.0,596.9 L262.2,596.9 L262.9,596.9 L263.9,596.9 L264.9,596.8 L266.0,596.8 L267.0,596.8 L268.0,596.8 L269.1,596.8 L270.1,596.7 L271.2,596.7 L272.2,596.7 L273.2,596.7 L274.3,596.6 L275.3,596.6 L276.3,596.6 L277.4,596.5 L278.4,596.5 L279.4,596.5 L280.5,596.4 L281.5,596.4 L282.1,596.4 L282.3,596.4 L282.5,596.3 L282.5,596.3 L282.5,596.3 L282.8,596.3 L283.0,596.3 L283.6,596.3 L284.6,596.3 L285.7,596.2 L286.7,596.2 L287.7,596.1 L288.8,596.1 L289.8,596.1 L290.8,596.0 L291.9,596.0 L292.9,596.0 L293.9,595.9 L295.0,595.9 L296.0,595.8 L297.0,595.8 L298.1,595.8 L299.1,595.7 L300.2,595.7 L301.2,595.7 L302.2,595.6 L302.8,595.6 L303.1,595.6 L303.3,595.6 L303.3,595.6 L303.3,595.6 L303.5,595.6 L303.7,595.6 L304.3,595.6 L305.3,595.6 L306.4,595.5 L307.4,595.5 L308.4,595.5 L309.5,595.5 L310.5,595.4 L311.5,595.4 L312.6,595.4 L313.6,595.4 L314.7,595.4 L315.7,595.4 L316.7,595.4 L317.8,595.4 L318.8,595.4 L319.8,595.4 L320.9,595.4 L321.9,595.4 L322.9,595.4 L323.6,595.4 L323.8,595.4 L324.0,595.4 L324.0,595.4 L324.0,595.4 L324.2,595.4 L324.4,595.4 L325.0,595.4 L326.0,595.4 L327.1,595.4 L328.1,595.4 L329.2,595.4 L330.2,595.4 L331.2,595.5 L332.3,595.5 L333.3,595.5 L334.3,595.5 L335.4,595.6 L336.4,595.6 L337.4,595.6 L338.5,595.6 L339.5,595.7 L340.5,595.7 L341.6,595.7 L342.6,595.8 L343.7,595.8 L344.3,595.8 L344.5,595.8 L344.7,595.8 L344.7,595.8 L344.7,595.8 L344.9,595.8 L345.1,595.9 L345.7,595.9 L346.8,595.9 L347.8,596.0 L348.8,596.0 L349.9,596.0 L350.9,596.1 L351.9,596.1 L353.0,596.1 L354.0,596.2 L355.0,596.2 L356.1,596.3 L357.1,596.3 L358.2,596.3 L359.2,596.4 L360.2,596.4 L361.3,596.5 L362.3,596.5 L363.3,596.5 L364.4,596.6 L365.0,596.6 L365.2,596.6 L365.4,596.6 L365.4,596.6 L365.4,596.6 L365.6,596.6 L365.8,596.6 L366.4,596.6 L367.5,596.7 L368.5,596.7 L369.5,596.7 L370.6,596.7 L371.6,596.8 L372.6,596.8 L373.7,596.8 L374.7,596.8 L375.8,596.8 L376.8,596.9 L377.8,596.9 L378.9,596.9 L379.9,596.9 L380.9,596.9 L382.0,596.9 L383.0,596.9 L384.0,596.9 L385.1,596.9 L385.7,596.9 L385.9,596.9 L386.1,596.9 L386.1,596.9 L386.1,596.9 L386.3,596.9 L386.5,596.9 L387.1,596.9 L388.2,596.9 L389.2,596.9 L390.3,596.9 L391.3,596.9 L392.3,596.9 L393.4,596.9 L394.4,596.9 L395.4,596.8 L396.5,596.8 L397.5,596.8 L398.5,596.8 L399.6,596.8 L400.6,596.7 L401.6,596.7 L402.7,596.7 L403.7,596.6 L404.8,596.6 L405.8,596.6 L406.4,596.6 L406.6,596.6 L406.8,596.5 L406.8,596.5 L406.8,596.5 L407.0,596.5 L407.2,596.5 L407.9,596.5 L408.9,596.5 L409.9,596.4 L411.0,596.4 L412.0,596.4 L413.0,596.3 L414.1,596.3 L415.1,596.3 L416.1,596.2 L417.2,596.2 L418.2,596.1 L419.3,596.1 L420.3,596.1 L421.3,596.0 L422.4,596.0 L423.4,595.9 L424.4,595.9 L425.5,595.9 L426.5,595.8 L427.1,595.8 L427.3,595.8 L427.5,595.8 L427.5,595.8 L427.5,595.8 L427.7,595.8 L428.0,595.8 L428.6,595.8 L429.6,595.7 L430.6,595.7 L431.7,595.7 L432.7,595.6 L433.8,595.6 L434.8,595.6 L435.8,595.5 L436.9,595.5 L437.9,595.5 L438.9,595.5 L440.0,595.5 L441.0,595.4 L442.0,595.4 L443.1,595.4 L444.1,595.4 L445.1,595.4 L446.2,595.4 L447.2,595.4 L447.8,595.4 L448.0,595.4 L448.3,595.4 L448.3,595.4 L448.3,595.4 L448.5,595.4 L448.7,595.4 L449.3,595.4 L450.3,595.4 L451.4,595.4 L452.4,595.4 L453.4,595.4 L454.5,595.4 L455.5,595.4 L456.5,595.4 L457.6,595.4 L458.6,595.4 L459.6,595.4 L460.7,595.5 L461.7,595.5 L462.8,595.5 L463.8,595.5 L464.8,595.5 L465.9,595.6 L466.9,595.6 L467.9,595.6 L468.6,595.6 L468.8,595.6 L469.0,595.7 L469.0,595.7 L469.0,595.7 L469.2,595.7 L469.4,595.7 L470.0,595.7 L471.0,595.7 L472.1,595.7 L473.1,595.8 L474.1,595.8 L475.2,595.9 L476.2,595.9 L477.3,595.9 L478.3,596.0 L479.3,596.0 L480.4,596.0 L481.4,596.1 L482.4,596.1 L483.5,596.2 L484.5,596.2 L485.5,596.2 L486.6,596.3 L487.6,596.3 L488.6,596.4 L489.3,596.4 L489.5,596.4 L489.7,596.4 L489.7,596.4 L489.7,596.4 L489.9,596.4 L490.1,596.4 L490.7,596.4 L491.8,596.5 L492.8,596.5 L493.8,596.5 L494.9,596.6 L495.9,596.6 L496.9,596.6 L498.0,596.7 L499.0,596.7 L500.0,596.7 L501.1,596.7 L502.1,596.8 L503.1,596.8 L504.2,596.8 L505.2,596.8 L506.3,596.9 L507.3,596.9 L508.3,596.9 L509.4,596.9 L510.0,596.9 L510.2,596.9 L510.4,596.9 L510.4,596.9 L510.4,596.9 L510.6,596.9 L510.8,596.9 L511.4,596.9 L512.5,596.9 L513.5,596.9 L514.5,596.9 L515.6,596.9 L516.6,596.9 L517.6,596.9 L518.7,596.9 L519.7,596.9 L520.8,596.9 L521.8,596.9 L522.8,596.9 L523.9,596.9 L524.9,596.9 L525.9,596.8 L527.0,596.8 L528.0,596.8 L529.0,596.8 L530.1,596.7 L530.7,596.7 L530.9,596.7 L531.1,596.7 L531.1,596.7 L531.1,596.7 L531.3,596.7 L531.5,596.7 L532.1,596.7 L533.2,596.7 L534.2,596.6 L535.2,596.6 L536.3,596.6 L537.3,596.5 L538.4,596.5 L539.4,596.5 L540.4,596.4 L541.5,596.4 L542.5,596.4 L543.5,596.3 L544.6,596.3 L545.6,596.2 L546.6,596.2 L547.7,596.2 L548.7,596.1 L549.7,596.1 L550.8,596.0 L551.4,596.0 L551.6,596.0 L551.8,596.0 L551.8,596.0 L551.8,596.0 L552.0,596.0 L552.2,596.0 L552.9,596.0 L553.9,595.9 L554.9,595.9 L556.0,595.9 L557.0,595.8 L558.0,595.8 L559.1,595.7 L560.1,595.7 L561.1,595.7 L562.2,595.7 L563.2,595.6 L564.2,595.6 L565.3,595.6 L566.3,595.5 L567.4,595.5 L568.4,595.5 L569.4,595.5 L570.5,595.5 L571.5,595.4 L572.1,595.4 L572.3,595.4 L572.5,595.4 L572.5,595.4 L572.5,595.4 L572.7,595.4 L572.9,595.4 L573.6,595.4 L574.6,595.4 L575.6,595.4 L576.7,595.4 L577.7,595.4 L578.7,595.4 L579.8,595.4 L580.8,595.4 L581.9,595.4 L582.9,595.4 L583.9,595.4 L585.0,595.4 L586.0,595.4 L587.0,595.4 L588.1,595.4 L589.1,595.4 L590.1,595.4 L591.2,595.5 L592.2,595.5 L592.8,595.5 L593.0,595.5 L593.2,595.5 L593.2,595.5 L593.2,595.5 L593.5,595.5 L593.7,595.5 L594.3,595.5 L595.3,595.5 L596.4,595.6 L597.4,595.6 L598.4,595.6 L599.5,595.7 L600.5,595.7 L601.5,595.7 L602.6,595.8 L603.6,595.8 L604.6,595.8 L605.7,595.9 L606.7,595.9 L607.7,595.9 L608.8,596.0 L609.8,596.0 L610.9,596.1 L611.9,596.1 L612.9,596.1 L613.5,596.2 L613.8,596.2 L614.0,596.2 L614.0,596.2 L614.0,596.2 L614.2,596.2 L614.4,596.2 L615.0,596.2 L616.0,596.3 L617.1,596.3 L618.1,596.3 L619.1,596.4 L620.2,596.4 L621.2,596.4 L622.2,596.5 L623.3,596.5 L624.3,596.5 L625.4,596.6 L626.4,596.6 L627.4,596.6 L628.5,596.7 L629.5,596.7 L630.5,596.7 L631.6,596.8 L632.6,596.8 L633.6,596.8 L634.3,596.8 L634.5,596.8 L634.7,596.8 L634.7,596.8 L634.7,596.8 L634.9,596.8 L635.1,596.8 L635.7,596.8 L636.7,596.9 L637.8,596.9 L638.8,596.9 L639.9,596.9 L640.9,596.9 L641.9,596.9 L643.0,596.9 L644.0,596.9 L645.0,596.9 L646.1,596.9 L647.1,596.9 L648.1,596.9 L649.2,596.9 L650.2,596.9 L651.2,596.9 L652.3,596.9 L653.3,596.9 L654.4,596.9 L655.0,596.9 L655.2,596.9 L655.4,596.8 L655.4,596.8 L655.4,596.8 L655.6,596.8 L655.8,596.8 L656.4,596.8 L657.5,596.8 L658.5,596.8 L659.5,596.8 L660.6,596.7 L661.6,596.7 L662.6,596.7 L663.7,596.7 L664.7,596.6 L665.7,596.6 L666.8,596.6 L667.8,596.5 L668.9,596.5 L669.9,596.5 L670.9,596.4 L672.0,596.4 L673.0,596.3 L674.0,596.3 L675.1,596.3 L676.1,596.2" stroke="#0000ff" stroke-width="2.8"/>
<path d="M54.7,792.6 L54.9,792.6 L55.1,792.6 L55.3,792.6 L55.5,792.6 L55.7,792.6 L55.9,792.6 L56.1,792.6 L56.4,792.6 L56.6,792.6 L56.8,792.6 L57.0,792.6 L57.2,792.6 L57.4,792.6 L57.6,792.6 L57.8,792.6 L58.0,792.6 L58.2,792.6 L58.4,792.6 L58.6,792.6 L58.8,792.6 L59.0,792.6 L59.3,792.6 L59.5,792.6 L59.7,792.6 L59.9,792.6 L60.1,792.6 L60.3,792.6 L60.5,792.6 L60.7,792.6 L60.9,792.6 L61.1,792.6 L61.3,792.6 L61.5,792.6 L61.7,792.6 L61.9,792.6 L62.2,792.6 L62.4,792.6 L62.6,792.6 L62.8,792.6 L63.0,792.6 L63.2,792.6 L63.4,792.6 L63.6,792.6 L63.8,792.6 L64.0,792.3 L64.2,791.6 L64.4,790.4 L64.6,788.9 L64.8,787.0 L65.1,784.9 L65.3,782.5 L65.5,779.9 L65.7,777.1 L65.9,774.1 L66.1,770.9 L66.3,767.7 L66.5,764.3 L66.7,760.9 L66.9,757.3 L67.1,753.8 L67.3,750.1 L67.5,746.5 L67.7,742.8 L68.0,739.2 L68.2,735.5 L68.4,731.8 L68.6,728.2 L68.8,724.6 L69.0,721.0 L69.2,717.5 L69.4,714.0 L69.6,710.5 L69.8,707.1 L70.0,703.8 L70.2,700.5 L70.4,697.3 L70.6,694.2 L70.9,691.1 L71.1,688.0 L71.3,685.1 L71.5,682.2 L71.7,679.3 L71.9,676.6 L72.1,673.9 L72.3,671.3 L72.5,668.7 L72.7,666.2 L72.9,663.8 L73.1,661.5 L73.3,659.2 L73.5,657.0 L73.8,654.8 L74.0,652.7 L74.2,650.7 L74.4,648.7 L74.6,646.8 L74.7,645.9 L74.8,645.0 L74.9,644.1 L75.0,643.2 L75.1,642.3 L75.1,715.9 L75.2,714.2 L75.3,712.5 L75.4,710.8 L75.4,710.7 L75.4,710.7 L75.5,709.0 L75.6,707.3 L75.8,703.9 L76.0,700.6 L76.2,697.4 L76.4,694.2 L76.7,691.1 L76.9,688.0 L77.1,685.0 L77.3,682.1 L77.5,679.3 L77.7,676.5 L77.9,673.8 L78.1,671.1 L78.3,668.6 L78.5,666.1 L78.7,663.6 L78.9,661.3 L79.1,659.0 L79.3,656.7 L79.6,654.6 L79.8,652.5 L80.0,650.4 L80.2,648.5 L80.4,646.6 L80.6,644.7 L80.8,642.9 L81.0,641.2 L81.2,639.5 L81.4,637.9 L81.6,636.3 L81.8,634.8 L82.0,633.3 L82.2,631.9 L82.5,630.5 L82.7,629.2 L82.9,627.9 L83.1,626.7 L83.3,625.5 L83.5,624.3 L83.7,623.2 L83.9,622.1 L84.1,620.9 L84.3,619.9 L84.5,618.8 L84.7,617.8 L84.9,616.9 L85.1,616.0 L85.4,615.1 L85.6,614.2 L85.8,613.4 L86.0,612.7 L86.2,611.9 L86.4,611.2 L86.6,610.5 L86.8,609.9 L87.0,609.2 L87.2,608.6 L87.4,608.1 L87.6,607.5 L87.8,607.0 L88.0,606.5 L88.3,606.0 L88.5,605.6 L88.7,605.1 L88.9,604.7 L89.1,604.3 L89.3,603.9 L89.5,603.5 L89.7,603.2 L89.9,602.9 L90.1,602.5 L90.3,602.2 L90.5,601.9 L90.7,601.7 L90.9,601.4 L91.2,601.1 L91.4,600.9 L91.6,600.7 L91.8,600.4 L92.0,600.2 L92.2,600.0 L92.4,599.8 L92.6,599.6 L92.8,599.5 L93.0,599.3 L93.2,599.1 L93.4,599.0 L93.6,598.8 L93.8,598.7 L94.1,598.6 L94.3,598.4 L94.5,598.3 L94.7,598.2 L94.9,598.1 L95.1,598.0 L95.3,597.9 L95.5,597.8 L95.7,597.7 L95.9,597.6 L96.1,597.6 L96.1,597.6 L96.1,597.6 L96.3,597.5 L96.5,597.4 L96.7,597.3 L97.0,597.3 L97.2,597.2 L97.4,597.2 L97.6,597.1 L97.8,597.0 L98.0,597.0 L98.2,596.9 L98.4,596.9 L98.6,596.9 L98.8,596.8 L99.0,596.8 L99.2,596.7 L99.4,596.7 L99.6,596.7 L99.9,596.7 L100.1,596.6 L100.3,596.6 L100.5,596.6 L100.7,596.6 L100.9,596.5 L101.1,596.5 L101.3,596.5 L101.5,596.5 L101.7,596.5 L101.9,596.4 L102.1,596.4 L102.3,596.4 L102.5,596.4 L102.8,596.4 L103.0,596.4 L103.2,596.4 L103.4,596.4 L103.6,596.3 L103.8,596.3 L104.0,596.3 L104.2,596.3 L104.4,596.3 L104.6,596.3 L104.8,596.3 L105.0,596.3 L105.2,596.3 L105.4,596.3 L105.7,596.3 L105.9,596.3 L106.1,596.3 L106.3,596.3 L106.5,596.3 L107.5,596.3 L108.6,596.3 L109.6,596.3 L110.6,596.4 L111.7,596.4 L112.7,596.4 L113.7,596.4 L114.8,596.5 L115.8,596.5 L116.4,596.5 L116.6,596.5 L116.8,596.5 L116.8,596.5 L116.8,596.5 L117.0,596.5 L117.3,596.6 L117.9,596.6 L118.9,596.6 L119.9,596.6 L121.0,596.7 L122.0,596.7 L123.1,596.7 L124.1,596.7 L125.1,596.8 L126.2,596.8 L127.2,596.8 L128.2,596.8 L129.3,596.8 L130.3,596.9 L131.3,596.9 L132.4,596.9 L133.4,596.9 L134.4,596.9 L135.5,596.9 L136.5,596.9 L137.1,596.9 L137.3,596.9 L137.6,596.9 L137.6,596.9 L137.6,596.9 L137.8,596.9 L138.0,596.9 L138.6,596.9 L139.6,596.9 L140.7,596.9 L141.7,596.9 L142.7,596.9 L143.8,596.9 L144.8,596.9 L145.8,596.9 L146.9,596.8 L147.9,596.8 L148.9,596.8 L150.0,596.8 L151.0,596.8 L152.1,596.7 L153.1,596.7 L154.1,596.7 L155.2,596.7 L156.2,596.6 L157.2,596.6 L157.9,596.6 L158.1,596.6 L158.3,596.6 L158.3,596.6 L158.3,596.6 L158.5,596.6 L158.7,596.5 L159.3,596.5 L160.3,596.5 L161.4,596.5 L162.4,596.4 L163.4,596.4 L164.5,596.3 L165.5,596.3 L166.6,596.3 L167.6,596.2 L168.6,596.2 L169.7,596.2 L170.7,596.1 L171.7,596.1 L172.8,596.0 L173.8,596.0 L174.8,596.0 L175.9,595.9 L176.9,595.9 L177.9,595.8 L178.6,595.8 L178.8,595.8 L179.0,595.8 L179.0,595.8 L179.0,595.8 L179.2,595.8 L179.4,595.8 L180.0,595.8 L181.1,595.7 L182.1,595.7 L183.1,595.7 L184.2,595.6 L185.2,595.6 L186.2,595.6 L187.3,595.6 L188.3,595.5 L189.3,595.5 L190.4,595.5 L191.4,595.5 L192.4,595.4 L193.5,595.4 L194.5,595.4 L195.6,595.4 L196.6,595.4 L197.6,595.4 L198.7,595.4 L199.3,595.4 L199.5,595.4 L199.7,595.4 L199.7,595.4 L199.7,595.4 L199.9,595.4 L200.1,595.4 L200.7,595.4 L201.8,595.4 L202.8,595.4 L203.8,595.4 L204.9,595.4 L205.9,595.4 L206.9,595.4 L208.0,595.4 L209.0,595.4 L210.1,595.4 L211.1,595.4 L212.1,595.4 L213.2,595.5 L214.2,595.5 L215.2,595.5 L216.3,595.5 L217.3,595.6 L218.3,595.6 L219.4,595.6 L220.0,595.6 L220.2,595.6 L220.4,595.6 L220.4,595.6 L220.4,595.6 L220.6,595.6 L220.8,595.7 L221.4,595.7 L222.5,595.7 L223.5,595.7 L224.5,595.8 L225.6,595.8 L226.6,595.8 L227.7,595.9 L228.7,595.9 L229.7,596.0 L230.8,596.0 L231.8,596.0 L232.8,596.1 L233.9,596.1 L234.9,596.2 L235.9,596.2 L237.0,596.2 L238.0,596.3 L239.0,596.3 L240.1,596.3 L240.7,596.4 L240.9,596.4 L241.1,596.4 L241.1,596.4 L241.1,596.4 L241.3,596.4 L241.5,596.4 L242.2,596.4 L243.2,596.5 L244.2,596.5 L245.3,596.5 L246.3,596.6 L247.3,596.6 L248.4,596.6 L249.4,596.7 L250.4,596.7 L251.5,596.7 L252.5,596.7 L253.5,596.8 L254.6,596.8 L255.6,596.8 L256.7,596.8 L257.7,596.9 L258.7,596.9 L259.8,596.9 L260.8,596.9 L261.4,596.9 L261.6,596.9 L261.8,596.9 L261.8,596.9 L261.8,596.9 L262.0,596.9 L262.2,596.9 L262.9,596.9 L263.9,596.9 L264.9,596.9 L266.0,596.9 L267.0,596.9 L268.0,596.9 L269.1,596.9 L270.1,596.9 L271.2,596.9 L272.2,596.9 L273.2,596.9 L274.3,596.9 L275.3,596.9 L276.3,596.9 L277.4,596.8 L278.4,596.8 L279.4,596.8 L280.5,596.8 L281.5,596.7 L282.1,596.7 L282.3,596.7 L282.5,596.7 L282.5,596.7 L282.5,596.7 L282.8,596.7 L283.0,596.7 L283.6,596.7 L284.6,596.7 L285.7,596.6 L286.7,596.6 L287.7,596.6 L288.8,596.5 L289.8,596.5 L290.8,596.5 L291.9,596.4 L292.9,596.4 L293.9,596.4 L295.0,596.3 L296.0,596.3 L297.0,596.2 L298.1,596.2 L299.1,596.2 L300.2,596.1 L301.2,596.1 L302.2,596.0 L302.8,596.0 L303.1,596.0 L303.3,596.0 L303.3,596.0 L303.3,596.0 L303.5,596.0 L303.7,596.0 L304.3,596.0 L305.3,595.9 L306.4,595.9 L307.4,595.9 L308.4,595.8 L309.5,595.8 L310.5,595.7 L311.5,595.7 L312.6,595.7 L313.6,595.7 L314.7,595.6 L315.7,595.6 L316.7,595.6 L317.8,595.5 L318.8,595.5 L319.8,595.5 L320.9,595.5 L321.9,595.5 L322.9,595.4 L323.6,595.4 L323.8,595.4 L324.0,595.4 L324.0,595.4 L324.0,595.4 L324.2,595.4 L324.4,595.4 L325.0,595.4 L326.0,595.4 L327.1,595.4 L328.1,595.4 L329.2,595.4 L330.2,595.4 L331.2,595.4 L332.3,595.4 L333.3,595.4 L334.3,595.4 L335.4,595.4 L336.4,595.4 L337.4,595.4 L338.5,595.4 L339.5,595.4 L340.5,595.4 L341.6,595.4 L342.6,595.5 L343.7,595.5 L344.3,595.5 L344.5,595.5 L344.7,595.5 L344.7,595.5 L344.7,595.5 L344.9,595.5 L345.1,595.5 L345.7,595.5 L346.8,595.6 L347.8,595.6 L348.8,595.6 L349.9,595.6 L350.9,595.7 L351.9,595.7 L353.0,595.7 L354.0,595.8 L355.0,595.8 L356.1,595.8 L357.1,595.9 L358.2,595.9 L359.2,595.9 L360.2,596.0 L361.3,596.0 L362.3,596.1 L363.3,596.1 L364.4,596.1 L365.0,596.2 L365.2,596.2 L365.4,596.2 L365.4,596.2 L365.4,596.2 L365.6,596.2 L365.8,596.2 L366.4,596.2 L367.5,596.3 L368.5,596.3 L369.5,596.3 L370.6,596.4 L371.6,596.4 L372.6,596.5 L373.7,596.5 L374.7,596.5 L375.8,596.6 L376.8,596.6 L377.8,596.6 L378.9,596.7 L379.9,596.7 L380.9,596.7 L382.0,596.7 L383.0,596.8 L384.0,596.8 L385.1,596.8 L385.7,596.8 L385.9,596.8 L386.1,596.8 L386.1,596.8 L386.1,596.8 L386.3,596.8 L386.5,596.8 L387.1,596.8 L388.2,596.9 L389.2,596.9 L390.3,596.9 L391.3,596.9 L392.3,596.9 L393.4,596.9 L394.4,596.9 L395.4,596.9 L396.5,596.9 L397.5,596.9 L398.5,596.9 L399.6,596.9 L400.6,596.9 L401.6,596.9 L402.7,596.9 L403.7,596.9 L404.8,596.9 L405.8,596.9 L406.4,596.8 L406.6,596.8 L406.8,596.8 L406.8,596.8 L406.8,596.8 L407.0,596.8 L407.2,596.8 L407.9,596.8 L408.9,596.8 L409.9,596.8 L411.0,596.8 L412.0,596.7 L413.0,596.7 L414.1,596.7 L415.1,596.6 L416.1,596.6 L417.2,596.6 L418.2,596.5 L419.3,596.5 L420.3,596.5 L421.3,596.4 L422.4,596.4 L423.4,596.4 L424.4,596.3 L425.5,596.3 L426.5,596.2 L427.1,596.2 L427.3,596.2 L427.5,596.2 L427.5,596.2 L427.5,596.2 L427.7,596.2 L428.0,596.2 L428.6,596.2 L429.6,596.1 L430.6,596.1 L431.7,596.1 L432.7,596.0 L433.8,596.0 L434.8,595.9 L435.8,595.9 L436.9,595.9 L437.9,595.8 L438.9,595.8 L440.0,595.8 L441.0,595.7 L442.0,595.7 L443.1,595.7 L444.1,595.6 L445.1,595.6 L446.2,595.6 L447.2,595.5 L447.8,595.5 L448.0,595.5 L448.3,595.5 L448.3,595.5 L448.3,595.5 L448.5,595.5 L448.7,595.5 L449.3,595.5 L450.3,595.5 L451.4,595.5 L452.4,595.4 L453.4,595.4 L454.5,595.4 L455.5,595.4 L456.5,595.4 L457.6,595.4 L458.6,595.4 L459.6,595.4 L460.7,595.4 L461.7,595.4 L462.8,595.4 L463.8,595.4 L464.8,595.4 L465.9,595.4 L466.9,595.4 L467.9,595.4 L468.6,595.4 L468.8,595.4 L469.0,595.4 L469.0,595.4 L469.0,595.4 L469.2,595.4 L469.4,595.4 L470.0,595.4 L471.0,595.4 L472.1,595.5 L473.1,595.5 L474.1,595.5 L475.2,595.5 L476.2,595.5 L477.3,595.6 L478.3,595.6 L479.3,595.6 L480.4,595.7 L481.4,595.7 L482.4,595.7 L483.5,595.8 L484.5,595.8 L485.5,595.8 L486.6,595.9 L487.6,595.9 L488.6,595.9 L489.3,596.0 L489.5,596.0 L489.7,596.0 L489.7,596.0 L489.7,596.0 L489.9,596.0 L490.1,596.0 L490.7,596.0 L491.8,596.1 L492.8,596.1 L493.8,596.1 L494.9,596.2 L495.9,596.2 L496.9,596.3 L498.0,596.3 L499.0,596.3 L500.0,596.4 L501.1,596.4 L502.1,596.4 L503.1,596.5 L504.2,596.5 L505.2,596.5 L506.3,596.6 L507.3,596.6 L508.3,596.6 L509.4,596.7 L510.0,596.7 L510.2,596.7 L510.4,596.7 L510.4,596.7 L510.4,596.7 L510.6,596.7 L510.8,596.7 L511.4,596.7 L512.5,596.8 L513.5,596.8 L514.5,596.8 L515.6,596.8 L516.6,596.8 L517.6,596.9 L518.7,596.9 L519.7,596.9 L520.8,596.9 L521.8,596.9 L522.8,596.9 L523.9,596.9 L524.9,596.9 L525.9,596.9 L527.0,596.9 L528.0,596.9 L529.0,596.9 L530.1,596.9 L530.7,596.9 L530.9,596.9 L531.1,596.9 L531.1,596.9 L531.1,596.9 L531.3,596.9 L531.5,596.9 L532.1,596.9 L533.2,596.9 L534.2,596.9 L535.2,596.9 L536.3,596.8 L537.3,596.8 L538.4,596.8 L539.4,596.8 L540.4,596.8 L541.5,596.7 L542.5,596.7 L543.5,596.7 L544.6,596.6 L545.6,596.6 L546.6,596.6 L547.7,596.6 L548.7,596.5 L549.7,596.5 L550.8,596.4 L551.4,596.4 L551.6,596.4 L551.8,596.4 L551.8,596.4 L551.8,596.4 L552.0,596.4 L552.2,596.4 L552.9,596.4 L553.9,596.3 L554.9,596.3 L556.0,596.3 L557.0,596.2 L558.0,596.2 L559.1,596.1 L560.1,596.1 L561.1,596.1 L562.2,596.0 L563.2,596.0 L564.2,595.9 L565.3,595.9 L566.3,595.9 L567.4,595.8 L568.4,595.8 L569.4,595.8 L570.5,595.7 L571.5,595.7 L572.1,595.7 L572.3,595.7 L572.5,595.7 L572.5,595.7 L572.5,595.7 L572.7,595.7 L572.9,595.7 L573.6,595.6 L574.6,595.6 L575.6,595.6 L576.7,595.5 L577.7,595.5 L578.7,595.5 L579.8,595.5 L580.8,595.5 L581.9,595.4 L582.9,595.4 L583.9,595.4 L585.0,595.4 L586.0,595.4 L587.0,595.4 L588.1,595.4 L589.1,595.4 L590.1,595.4 L591.2,595.4 L592.2,595.4 L592.8,595.4 L593.0,595.4 L593.2,595.4 L593.2,595.4 L593.2,595.4 L593.5,595.4 L593.7,595.4 L594.3,595.4 L595.3,595.4 L596.4,595.4 L597.4,595.4 L598.4,595.4 L599.5,595.4 L600.5,595.4 L601.5,595.5 L602.6,595.5 L603.6,595.5 L604.6,595.5 L605.7,595.5 L606.7,595.6 L607.7,595.6 L608.8,595.6 L609.8,595.7 L610.9,595.7 L611.9,595.7 L612.9,595.8 L613.5,595.8 L613.8,595.8 L614.0,595.8 L614.0,595.8 L614.0,595.8 L614.2,595.8 L614.4,595.8 L615.0,595.8 L616.0,595.9 L617.1,595.9 L618.1,595.9 L619.1,596.0 L620.2,596.0 L621.2,596.1 L622.2,596.1 L623.3,596.1 L624.3,596.2 L625.4,596.2 L626.4,596.2 L627.4,596.3 L628.5,596.3 L629.5,596.4 L630.5,596.4 L631.6,596.4 L632.6,596.5 L633.6,596.5 L634.3,596.5 L634.5,596.5 L634.7,596.5 L634.7,596.5 L634.7,596.5 L634.9,596.5 L635.1,596.6 L635.7,596.6 L636.7,596.6 L637.8,596.6 L638.8,596.7 L639.9,596.7 L640.9,596.7 L641.9,596.8 L643.0,596.8 L644.0,596.8 L645.0,596.8 L646.1,596.8 L647.1,596.9 L648.1,596.9 L649.2,596.9 L650.2,596.9 L651.2,596.9 L652.3,596.9 L653.3,596.9 L654.4,596.9 L655.0,596.9 L655.2,596.9 L655.4,596.9 L655.4,596.9 L655.4,596.9 L655.6,596.9 L655.8,596.9 L656.4,596.9 L657.5,596.9 L658.5,596.9 L659.5,596.9 L660.6,596.9 L661.6,596.9 L662.6,596.9 L663.7,596.9 L664.7,596.9 L665.7,596.8 L666.8,596.8 L667.8,596.8 L668.9,596.8 L669.9,596.8 L670.9,596.7 L672.0,596.7 L673.0,596.7 L674.0,596.7 L675.1,596.6 L676.1,596.6" stroke="#000000" stroke-width="2.8" stroke-linejoin="miter" stroke-miterlimit="2"/>
<path d="M54.7,792.6 L54.9,792.3 L55.1,791.6 L55.3,790.5 L55.5,788.9 L55.7,787.0 L55.9,784.9 L56.1,782.4 L56.4,779.7 L56.6,776.8 L56.8,773.8 L57.0,770.6 L57.2,767.2 L57.4,763.8 L57.6,760.2 L57.8,756.6 L58.0,753.0 L58.2,749.3 L58.4,745.5 L58.6,741.8 L58.8,738.0 L59.0,734.3 L59.3,730.6 L59.5,726.9 L59.7,723.2 L59.9,719.6 L60.1,716.0 L60.3,712.4 L60.5,708.9 L60.7,705.5 L60.9,702.1 L61.1,698.8 L61.3,695.5 L61.5,692.4 L61.7,689.2 L61.9,686.2 L62.2,683.2 L62.4,680.3 L62.6,677.5 L62.8,674.7 L63.0,672.0 L63.2,669.4 L63.4,666.8 L63.6,664.3 L63.8,661.9 L64.0,659.6 L64.2,657.3 L64.4,655.1 L64.6,653.0 L64.8,650.9 L65.1,648.9 L65.3,646.9 L65.5,645.0 L65.7,643.2 L65.9,641.4 L66.1,639.7 L66.3,638.1 L66.5,636.5 L66.7,634.9 L66.9,633.4 L67.1,632.0 L67.3,630.6 L67.5,629.3 L67.7,628.0 L68.0,626.7 L68.2,625.5 L68.4,624.3 L68.6,623.2 L68.8,622.1 L69.0,621.1 L69.2,620.1 L69.4,619.1 L69.6,618.2 L69.8,617.3 L70.0,616.4 L70.2,615.6 L70.4,614.8 L70.6,614.0 L70.9,613.3 L71.1,612.6 L71.3,611.9 L71.5,611.2 L71.7,610.6 L71.9,610.0 L72.1,609.4 L72.3,608.9 L72.5,608.3 L72.7,607.8 L72.9,607.3 L73.1,606.8 L73.3,606.4 L73.5,605.9 L73.8,605.5 L74.0,605.1 L74.2,604.7 L74.4,604.3 L74.6,604.0 L74.7,603.8 L74.8,603.6 L74.9,603.5 L75.0,603.3 L75.1,603.1 L75.1,603.1 L75.2,603.0 L75.3,602.8 L75.4,602.7 L75.4,602.7 L75.4,602.7 L75.5,602.5 L75.6,602.4 L75.8,602.1 L76.0,601.8 L76.2,601.6 L76.4,601.3 L76.7,601.1 L76.9,600.9 L77.1,600.7 L77.3,600.5 L77.5,600.3 L77.7,600.1 L77.9,599.9 L78.1,599.7 L78.3,599.6 L78.5,599.4 L78.7,599.2 L78.9,599.1 L79.1,599.0 L79.3,598.8 L79.6,598.7 L79.8,598.6 L80.0,598.5 L80.2,598.3 L80.4,598.2 L80.6,598.1 L80.8,598.0 L81.0,598.0 L81.2,597.9 L81.4,597.8 L81.6,597.7 L81.8,597.6 L82.0,597.5 L82.2,597.5 L82.5,597.4 L82.7,597.3 L82.9,597.3 L83.1,597.2 L83.3,597.2 L83.5,597.1 L83.7,597.1 L83.9,597.0 L84.1,597.0 L84.3,596.9 L84.5,596.9 L84.7,596.9 L84.9,596.8 L85.1,596.8 L85.4,596.8 L85.6,596.7 L85.8,596.7 L86.0,596.7 L86.2,596.6 L86.4,596.6 L86.6,596.6 L86.8,596.6 L87.0,596.5 L87.2,596.5 L87.4,596.5 L87.6,596.5 L87.8,596.5 L88.0,596.5 L88.3,596.4 L88.5,596.4 L88.7,596.4 L88.9,596.4 L89.1,596.4 L89.3,596.4 L89.5,596.4 L89.7,596.4 L89.9,596.4 L90.1,596.3 L90.3,596.3 L90.5,596.3 L90.7,596.3 L90.9,596.3 L91.2,596.3 L91.4,596.3 L91.6,596.3 L91.8,596.3 L92.0,596.3 L92.2,596.3 L92.4,596.3 L92.6,596.3 L92.8,596.3 L93.0,596.3 L93.2,596.3 L93.4,596.3 L93.6,596.3 L93.8,596.3 L94.1,596.3 L94.3,596.3 L94.5,596.3 L94.7,596.3 L94.9,596.3 L95.1,596.3 L95.3,596.3 L95.5,596.3 L95.7,596.3 L95.9,596.3 L96.1,596.3 L96.1,596.3 L96.1,596.3 L96.3,596.3 L96.5,596.3 L96.7,596.3 L97.0,596.3 L97.2,596.3 L97.4,596.4 L97.6,596.4 L97.8,596.4 L98.0,596.4 L98.2,596.4 L98.4,596.4 L98.6,596.4 L98.8,596.4 L99.0,596.4 L99.2,596.4 L99.4,596.4 L99.6,596.4 L99.9,596.4 L100.1,596.4 L100.3,596.4 L100.5,596.4 L100.7,596.4 L100.9,596.4 L101.1,596.4 L101.3,596.5 L101.5,596.5 L101.7,596.5 L101.9,596.5 L102.1,596.5 L102.3,596.5 L102.5,596.5 L102.8,596.5 L103.0,596.5 L103.2,596.5 L103.4,596.5 L103.6,596.5 L103.8,596.5 L104.0,596.5 L104.2,596.5 L104.4,596.5 L104.6,596.5 L104.8,596.6 L105.0,596.6 L105.2,596.6 L105.4,596.6 L105.7,596.6 L105.9,596.6 L106.1,596.6 L106.3,596.6 L106.5,596.6 L107.5,596.6 L108.6,596.7 L109.6,596.7 L110.6,596.7 L111.7,596.7 L112.7,596.8 L113.7,596.8 L114.8,596.8 L115.8,596.8 L116.4,596.8 L116.6,596.8 L116.8,596.8 L116.8,596.8 L116.8,596.8 L117.0,596.8 L117.3,596.8 L117.9,596.9 L118.9,596.9 L119.9,596.9 L121.0,596.9 L122.0,596.9 L123.1,596.9 L124.1,596.9 L125.1,596.9 L126.2,596.9 L127.2,596.9 L128.2,596.9 L129.3,596.9 L130.3,596.9 L131.3,596.9 L132.4,596.9 L133.4,596.9 L134.4,596.8 L135.5,596.8 L136.5,596.8 L137.1,596.8 L137.3,596.8 L137.6,596.8 L137.6,596.8 L137.6,596.8 L137.8,596.8 L138.0,596.8 L138.6,596.8 L139.6,596.7 L140.7,596.7 L141.7,596.7 L142.7,596.7 L143.8,596.6 L144.8,596.6 L145.8,596.6 L146.9,596.5 L147.9,596.5 L148.9,596.5 L150.0,596.4 L151.0,596.4 L152.1,596.4 L153.1,596.3 L154.1,596.3 L155.2,596.2 L156.2,596.2 L157.2,596.2 L157.9,596.1 L158.1,596.1 L158.3,596.1 L158.3,596.1 L158.3,596.1 L158.5,596.1 L158.7,596.1 L159.3,596.1 L160.3,596.0 L161.4,596.0 L162.4,596.0 L163.4,595.9 L164.5,595.9 L165.5,595.9 L166.6,595.8 L167.6,595.8 L168.6,595.7 L169.7,595.7 L170.7,595.7 L171.7,595.7 L172.8,595.6 L173.8,595.6 L174.8,595.6 L175.9,595.5 L176.9,595.5 L177.9,595.5 L178.6,595.5 L178.8,595.5 L179.0,595.5 L179.0,595.5 L179.0,595.5 L179.2,595.5 L179.4,595.5 L180.0,595.5 L181.1,595.4 L182.1,595.4 L183.1,595.4 L184.2,595.4 L185.2,595.4 L186.2,595.4 L187.3,595.4 L188.3,595.4 L189.3,595.4 L190.4,595.4 L191.4,595.4 L192.4,595.4 L193.5,595.4 L194.5,595.4 L195.6,595.4 L196.6,595.4 L197.6,595.4 L198.7,595.4 L199.3,595.4 L199.5,595.4 L199.7,595.4 L199.7,595.4 L199.7,595.4 L199.9,595.4 L200.1,595.4 L200.7,595.5 L201.8,595.5 L202.8,595.5 L203.8,595.5 L204.9,595.5 L205.9,595.6 L206.9,595.6 L208.0,595.6 L209.0,595.7 L210.1,595.7 L211.1,595.7 L212.1,595.8 L213.2,595.8 L214.2,595.8 L215.2,595.9 L216.3,595.9 L217.3,595.9 L218.3,596.0 L219.4,596.0 L220.0,596.0 L220.2,596.0 L220.4,596.1 L220.4,596.1 L220.4,596.1 L220.6,596.1 L220.8,596.1 L221.4,596.1 L222.5,596.1 L223.5,596.2 L224.5,596.2 L225.6,596.3 L226.6,596.3 L227.7,596.3 L228.7,596.4 L229.7,596.4 L230.8,596.4 L231.8,596.5 L232.8,596.5 L233.9,596.5 L234.9,596.6 L235.9,596.6 L237.0,596.6 L238.0,596.7 L239.0,596.7 L240.1,596.7 L240.7,596.7 L240.9,596.7 L241.1,596.8 L241.1,596.8 L241.1,596.8 L241.3,596.8 L241.5,596.8 L242.2,596.8 L243.2,596.8 L244.2,596.8 L245.3,596.8 L246.3,596.9 L247.3,596.9 L248.4,596.9 L249.4,596.9 L250.4,596.9 L251.5,596.9 L252.5,596.9 L253.5,596.9 L254.6,596.9 L255.6,596.9 L256.7,596.9 L257.7,596.9 L258.7,596.9 L259.8,596.9 L260.8,596.9 L261.4,596.9 L261.6,596.9 L261.8,596.9 L261.8,596.9 L261.8,596.9 L262.0,596.9 L262.2,596.9 L262.9,596.9 L263.9,596.9 L264.9,596.8 L266.0,596.8 L267.0,596.8 L268.0,596.8 L269.1,596.8 L270.1,596.7 L271.2,596.7 L272.2,596.7 L273.2,596.7 L274.3,596.6 L275.3,596.6 L276.3,596.6 L277.4,596.5 L278.4,596.5 L279.4,596.5 L280.5,596.4 L281.5,596.4 L282.1,596.4 L282.3,596.4 L282.5,596.3 L282.5,596.3 L282.5,596.3 L282.8,596.3 L283.0,596.3 L283.6,596.3 L284.6,596.3 L285.7,596.2 L286.7,596.2 L287.7,596.1 L288.8,596.1 L289.8,596.1 L290.8,596.0 L291.9,596.0 L292.9,596.0 L293.9,595.9 L295.0,595.9 L296.0,595.8 L297.0,595.8 L298.1,595.8 L299.1,595.7 L300.2,595.7 L301.2,595.7 L302.2,595.6 L302.8,595.6 L303.1,595.6 L303.3,595.6 L303.3,595.6 L303.3,595.6 L303.5,595.6 L303.7,595.6 L304.3,595.6 L305.3,595.6 L306.4,595.5 L307.4,595.5 L308.4,595.5 L309.5,595.5 L310.5,595.4 L311.5,595.4 L312.6,595.4 L313.6,595.4 L314.7,595.4 L315.7,595.4 L316.7,595.4 L317.8,595.4 L318.8,595.4 L319.8,595.4 L320.9,595.4 L321.9,595.4 L322.9,595.4 L323.6,595.4 L323.8,595.4 L324.0,595.4 L324.0,595.4 L324.0,595.4 L324.2,595.4 L324.4,595.4 L325.0,595.4 L326.0,595.4 L327.1,595.4 L328.1,595.4 L329.2,595.4 L330.2,595.4 L331.2,595.5 L332.3,595.5 L333.3,595.5 L334.3,595.5 L335.4,595.6 L336.4,595.6 L337.4,595.6 L338.5,595.6 L339.5,595.7 L340.5,595.7 L341.6,595.7 L342.6,595.8 L343.7,595.8 L344.3,595.8 L344.5,595.8 L344.7,595.8 L344.7,595.8 L344.7,595.8 L344.9,595.8 L345.1,595.9 L345.7,595.9 L346.8,595.9 L347.8,596.0 L348.8,596.0 L349.9,596.0 L350.9,596.1 L351.9,596.1 L353.0,596.1 L354.0,596.2 L355.0,596.2 L356.1,596.3 L357.1,596.3 L358.2,596.3 L359.2,596.4 L360.2,596.4 L361.3,596.5 L362.3,596.5 L363.3,596.5 L364.4,596.6 L365.0,596.6 L365.2,596.6 L365.4,596.6 L365.4,596.6 L365.4,596.6 L365.6,596.6 L365.8,596.6 L366.4,596.6 L367.5,596.7 L368.5,596.7 L369.5,596.7 L370.6,596.7 L371.6,596.8 L372.6,596.8 L373.7,596.8 L374.7,596.8 L375.8,596.8 L376.8,596.9 L377.8,596.9 L378.9,596.9 L379.9,596.9 L380.9,596.9 L382.0,596.9 L383.0,596.9 L384.0,596.9 L385.1,596.9 L385.7,596.9 L385.9,596.9 L386.1,596.9 L386.1,596.9 L386.1,596.9 L386.3,596.9 L386.5,596.9 L387.1,596.9 L388.2,596.9 L389.2,596.9 L390.3,596.9 L391.3,596.9 L392.3,596.9 L393.4,596.9 L394.4,596.9 L395.4,596.8 L396.5,596.8 L397.5,596.8 L398.5,596.8 L399.6,596.8 L400.6,596.7 L401.6,596.7 L402.7,596.7 L403.7,596.6 L404.8,596.6 L405.8,596.6 L406.4,596.6 L406.6,596.6 L406.8,596.5 L406.8,596.5 L406.8,596.5 L407.0,596.5 L407.2,596.5 L407.9,596.5 L408.9,596.5 L409.9,596.4 L411.0,596.4 L412.0,596.4 L413.0,596.3 L414.1,596.3 L415.1,596.3 L416.1,596.2 L417.2,596.2 L418.2,596.1 L419.3,596.1 L420.3,596.1 L421.3,596.0 L422.4,596.0 L423.4,595.9 L424.4,595.9 L425.5,595.9 L426.5,595.8 L427.1,595.8 L427.3,595.8 L427.5,595.8 L427.5,595.8 L427.5,595.8 L427.7,595.8 L428.0,595.8 L428.6,595.8 L429.6,595.7 L430.6,595.7 L431.7,595.7 L432.7,595.6 L433.8,595.6 L434.8,595.6 L435.8,595.5 L436.9,595.5 L437.9,595.5 L438.9,595.5 L440.0,595.5 L441.0,595.4 L442.0,595.4 L443.1,595.4 L444.1,595.4 L445.1,595.4 L446.2,595.4 L447.2,595.4 L447.8,595.4 L448.0,595.4 L448.3,595.4 L448.3,595.4 L448.3,595.4 L448.5,595.4 L448.7,595.4 L449.3,595.4 L450.3,595.4 L451.4,595.4 L452.4,595.4 L453.4,595.4 L454.5,595.4 L455.5,595.4 L456.5,595.4 L457.6,595.4 L458.6,595.4 L459.6,595.4 L460.7,595.5 L461.7,595.5 L462.8,595.5 L463.8,595.5 L464.8,595.5 L465.9,595.6 L466.9,595.6 L467.9,595.6 L468.6,595.6 L468.8,595.6 L469.0,595.7 L469.0,595.7 L469.0,595.7 L469.2,595.7 L469.4,595.7 L470.0,595.7 L471.0,595.7 L472.1,595.7 L473.1,595.8 L474.1,595.8 L475.2,595.9 L476.2,595.9 L477.3,595.9 L478.3,596.0 L479.3,596.0 L480.4,596.0 L481.4,596.1 L482.4,596.1 L483.5,596.2 L484.5,596.2 L485.5,596.2 L486.6,596.3 L487.6,596.3 L488.6,596.4 L489.3,596.4 L489.5,596.4 L489.7,596.4 L489.7,596.4 L489.7,596.4 L489.9,596.4 L490.1,596.4 L490.7,596.4 L491.8,596.5 L492.8,596.5 L493.8,596.5 L494.9,596.6 L495.9,596.6 L496.9,596.6 L498.0,596.7 L499.0,596.7 L500.0,596.7 L501.1,596.7 L502.1,596.8 L503.1,596.8 L504.2,596.8 L505.2,596.8 L506.3,596.9 L507.3,596.9 L508.3,596.9 L509.4,596.9 L510.0,596.9 L510.2,596.9 L510.4,596.9 L510.4,596.9 L510.4,596.9 L510.6,596.9 L510.8,596.9 L511.4,596.9 L512.5,596.9 L513.5,596.9 L514.5,596.9 L515.6,596.9 L516.6,596.9 L517.6,596.9 L518.7,596.9 L519.7,596.9 L520.8,596.9 L521.8,596.9 L522.8,596.9 L523.9,596.9 L524.9,596.9 L525.9,596.8 L527.0,596.8 L528.0,596.8 L529.0,596.8 L530.1,596.7 L530.7,596.7 L530.9,596.7 L531.1,596.7 L531.1,596.7 L531.1,596.7 L531.3,596.7 L531.5,596.7 L532.1,596.7 L533.2,596.7 L534.2,596.6 L535.2,596.6 L536.3,596.6 L537.3,596.5 L538.4,596.5 L539.4,596.5 L540.4,596.4 L541.5,596.4 L542.5,596.4 L543.5,596.3 L544.6,596.3 L545.6,596.2 L546.6,596.2 L547.7,596.2 L548.7,596.1 L549.7,596.1 L550.8,596.0 L551.4,596.0 L551.6,596.0 L551.8,596.0 L551.8,596.0 L551.8,596.0 L552.0,596.0 L552.2,596.0 L552.9,596.0 L553.9,595.9 L554.9,595.9 L556.0,595.9 L557.0,595.8 L558.0,595.8 L559.1,595.7 L560.1,595.7 L561.1,595.7 L562.2,595.7 L563.2,595.6 L564.2,595.6 L565.3,595.6 L566.3,595.5 L567.4,595.5 L568.4,595.5 L569.4,595.5 L570.5,595.5 L571.5,595.4 L572.1,595.4 L572.3,595.4 L572.5,595.4 L572.5,595.4 L572.5,595.4 L572.7,595.4 L572.9,595.4 L573.6,595.4 L574.6,595.4 L575.6,595.4 L576.7,595.4 L577.7,595.4 L578.7,595.4 L579.8,595.4 L580.8,595.4 L581.9,595.4 L582.9,595.4 L583.9,595.4 L585.0,595.4 L586.0,595.4 L587.0,595.4 L588.1,595.4 L589.1,595.4 L590.1,595.4 L591.2,595.5 L592.2,595.5 L592.8,595.5 L593.0,595.5 L593.2,595.5 L593.2,595.5 L593.2,595.5 L593.5,595.5 L593.7,595.5 L594.3,595.5 L595.3,595.5 L596.4,595.6 L597.4,595.6 L598.4,595.6 L599.5,595.7 L600.5,595.7 L601.5,595.7 L602.6,595.8 L603.6,595.8 L604.6,595.8 L605.7,595.9 L606.7,595.9 L607.7,595.9 L608.8,596.0 L609.8,596.0 L610.9,596.1 L611.9,596.1 L612.9,596.1 L613.5,596.2 L613.8,596.2 L614.0,596.2 L614.0,596.2 L614.0,596.2 L614.2,596.2 L614.4,596.2 L615.0,596.2 L616.0,596.3 L617.1,596.3 L618.1,596.3 L619.1,596.4 L620.2,596.4 L621.2,596.4 L622.2,596.5 L623.3,596.5 L624.3,596.5 L625.4,596.6 L626.4,596.6 L627.4,596.6 L628.5,596.7 L629.5,596.7 L630.5,596.7 L631.6,596.8 L632.6,596.8 L633.6,596.8 L634.3,596.8 L634.5,596.8 L634.7,596.8 L634.7,596.8 L634.7,596.8 L634.9,596.8 L635.1,596.8 L635.7,596.8 L636.7,596.9 L637.8,596.9 L638.8,596.9 L639.9,596.9 L640.9,596.9 L641.9,596.9 L643.0,596.9 L644.0,596.9 L645.0,596.9 L646.1,596.9 L647.1,596.9 L648.1,596.9 L649.2,596.9 L650.2,596.9 L651.2,596.9 L652.3,596.9 L653.3,596.9 L654.4,596.9 L655.0,596.9 L655.2,596.9 L655.4,596.8 L655.4,596.8 L655.4,596.8 L655.6,596.8 L655.8,596.8 L656.4,596.8 L657.5,596.8 L658.5,596.8 L659.5,596.8 L660.6,596.7 L661.6,596.7 L662.6,596.7 L663.7,596.7 L664.7,596.6 L665.7,596.6 L666.8,596.6 L667.8,596.5 L668.9,596.5 L669.9,596.5 L670.9,596.4 L672.0,596.4 L673.0,596.3 L674.0,596.3 L675.1,596.3 L676.1,596.2" stroke="#ff0000" stroke-width="2.8" stroke-dasharray="10.8 9.9"/>
</g>
<path d="M158.27,792.60 v-6.40 M158.27,576.50 v6.40 M261.83,792.60 v-6.40 M261.83,576.50 v6.40 M365.40,792.60 v-6.40 M365.40,576.50 v6.40 M468.97,792.60 v-6.40 M468.97,576.50 v6.40 M572.53,792.60 v-6.40 M572.53,576.50 v6.40 M54.70,596.15 h6.40 M676.10,596.15 h-6.40 M54.70,635.44 h6.40 M676.10,635.44 h-6.40 M54.70,674.73 h6.40 M676.10,674.73 h-6.40 M54.70,714.02 h6.40 M676.10,714.02 h-6.40 M54.70,753.31 h6.40 M676.10,753.31 h-6.40" fill="none" stroke="#333333" stroke-width="1.00"/>
<rect x="54.70" y="576.50" width="621.40" height="216.10" fill="none" stroke="#333333" stroke-width="1.00"/>
<text class="tk" transform="translate(54.50,812.30) scale(0.955,1)" text-anchor="middle">0</text>
<text class="tk" transform="translate(158.07,812.30) scale(0.955,1)" text-anchor="middle">5</text>
<text class="tk" transform="translate(261.63,812.30) scale(0.955,1)" text-anchor="middle">10</text>
<text class="tk" transform="translate(365.20,812.30) scale(0.955,1)" text-anchor="middle">15</text>
<text class="tk" transform="translate(468.77,812.30) scale(0.955,1)" text-anchor="middle">20</text>
<text class="tk" transform="translate(572.33,812.30) scale(0.955,1)" text-anchor="middle">25</text>
<text class="tk" transform="translate(675.90,812.30) scale(0.955,1)" text-anchor="middle">30</text>
<text class="tk" transform="translate(50.30,602.25) scale(0.955,1)" text-anchor="end">1</text>
<text class="tk" transform="translate(50.30,641.54) scale(0.955,1)" text-anchor="end">0.8</text>
<text class="tk" transform="translate(50.30,680.83) scale(0.955,1)" text-anchor="end">0.6</text>
<text class="tk" transform="translate(50.30,720.12) scale(0.955,1)" text-anchor="end">0.4</text>
<text class="tk" transform="translate(50.30,759.41) scale(0.955,1)" text-anchor="end">0.2</text>
<text class="tk" transform="translate(50.30,798.70) scale(0.955,1)" text-anchor="end">0</text>
<text class="lb" x="365.70" y="835.80" text-anchor="middle">Time(s)</text>
<text class="lb" transform="translate(22.10,684.95) rotate(-90)" text-anchor="middle">z(m)</text>
<rect x="521.10" y="589.40" width="140.90" height="71.10" fill="#ffffff" stroke="#5a5a5a" stroke-width="1.1"/>
<path d="M526.8,602.70 H581" stroke="#0000ff" stroke-width="2.8" fill="none"/>
<text class="lg" x="584.8" y="609.30">Real</text>
<path d="M526.8,624.80 H581" stroke="#000000" stroke-width="2.8" fill="none"/>
<text class="lg" x="584.8" y="631.20">measured</text>
<path d="M526.8,646.90 H581" stroke="#ff0000" stroke-width="2.8" fill="none" stroke-dasharray="10.8 9.9"/>
<text class="lg" x="584.8" y="653.10">Estimated</text>
</g>
</svg>
</body></html>
